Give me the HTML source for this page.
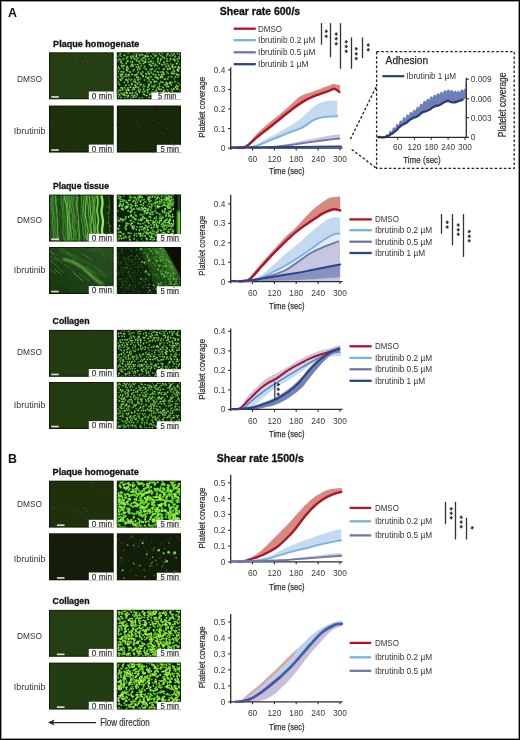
<!DOCTYPE html><html><head><meta charset="utf-8"><title>Shear rate figure</title>
<style>html,body{margin:0;padding:0;background:#fff}svg text{font-family:"Liberation Sans", sans-serif}</style></head><body>
<svg width="520" height="740" viewBox="0 0 520 740" style="display:block">
<defs><filter id="b5" x="-5%" y="-5%" width="110%" height="110%"><feGaussianBlur stdDeviation="0.45"/></filter><filter id="b6" x="-5%" y="-5%" width="110%" height="110%"><feGaussianBlur stdDeviation="0.6"/></filter><filter id="b8" x="-5%" y="-5%" width="110%" height="110%"><feGaussianBlur stdDeviation="0.8"/></filter><filter id="b12" x="-10%" y="-10%" width="120%" height="120%"><feGaussianBlur stdDeviation="1.2"/></filter><linearGradient id="gA2" x1="0" x2="1" y1="0" y2="0"><stop offset="0" stop-color="#2a5e20"/><stop offset="0.65" stop-color="#24521a"/><stop offset="0.86" stop-color="#15300d"/><stop offset="1" stop-color="#0c1a07"/></linearGradient><linearGradient id="gA2b" x1="1" x2="0" y1="0" y2="1"><stop offset="0" stop-color="#2c5422"/><stop offset="0.5" stop-color="#204418"/><stop offset="1" stop-color="#183210"/></linearGradient></defs>
<rect width="520" height="740" fill="#fff"/>
<text x="8" y="16.7" font-size="12.4" fill="#111" font-weight="bold">A</text>
<text x="8" y="463.4" font-size="12.4" fill="#111" font-weight="bold">B</text>
<text x="219.8" y="14.7" font-size="10.9" fill="#111" font-weight="bold" textLength="80.4" lengthAdjust="spacingAndGlyphs" stroke="#111" stroke-width="0.3">Shear rate 600/s</text>
<text x="216.8" y="462" font-size="10.9" fill="#111" font-weight="bold" textLength="87" lengthAdjust="spacingAndGlyphs" stroke="#111" stroke-width="0.3">Shear rate 1500/s</text>
<text x="53.1" y="46.9" font-size="8.9" fill="#111" font-weight="bold" textLength="86.1" lengthAdjust="spacingAndGlyphs" stroke="#111" stroke-width="0.3">Plaque homogenate</text>
<text x="53" y="188.5" font-size="8.9" fill="#111" font-weight="bold" textLength="56" lengthAdjust="spacingAndGlyphs" stroke="#111" stroke-width="0.3">Plaque tissue</text>
<text x="52.6" y="324.2" font-size="8.9" fill="#111" font-weight="bold" textLength="36.9" lengthAdjust="spacingAndGlyphs" stroke="#111" stroke-width="0.3">Collagen</text>
<text x="52.6" y="475.4" font-size="8.9" fill="#111" font-weight="bold" textLength="86.1" lengthAdjust="spacingAndGlyphs" stroke="#111" stroke-width="0.3">Plaque homogenate</text>
<text x="52.6" y="604.2" font-size="8.9" fill="#111" font-weight="bold" textLength="36.9" lengthAdjust="spacingAndGlyphs" stroke="#111" stroke-width="0.3">Collagen</text>
<text x="29.6" y="82.2" font-size="8.6" fill="#333" text-anchor="middle" textLength="25" lengthAdjust="spacingAndGlyphs">DMSO</text>
<text x="29.7" y="133.8" font-size="8.6" fill="#333" text-anchor="middle" textLength="31.7" lengthAdjust="spacingAndGlyphs">Ibrutinib</text>
<text x="29.6" y="222.5" font-size="8.6" fill="#333" text-anchor="middle" textLength="25" lengthAdjust="spacingAndGlyphs">DMSO</text>
<text x="29.7" y="273.3" font-size="8.6" fill="#333" text-anchor="middle" textLength="31.7" lengthAdjust="spacingAndGlyphs">Ibrutinib</text>
<text x="29.6" y="355.2" font-size="8.6" fill="#333" text-anchor="middle" textLength="25" lengthAdjust="spacingAndGlyphs">DMSO</text>
<text x="29.7" y="408.3" font-size="8.6" fill="#333" text-anchor="middle" textLength="31.7" lengthAdjust="spacingAndGlyphs">Ibrutinib</text>
<text x="29.6" y="506.7" font-size="8.6" fill="#333" text-anchor="middle" textLength="25" lengthAdjust="spacingAndGlyphs">DMSO</text>
<text x="29.7" y="562.1" font-size="8.6" fill="#333" text-anchor="middle" textLength="31.7" lengthAdjust="spacingAndGlyphs">Ibrutinib</text>
<text x="29.6" y="638.7" font-size="8.6" fill="#333" text-anchor="middle" textLength="25" lengthAdjust="spacingAndGlyphs">DMSO</text>
<text x="29.7" y="689.8" font-size="8.6" fill="#333" text-anchor="middle" textLength="31.7" lengthAdjust="spacingAndGlyphs">Ibrutinib</text>
<svg x="49" y="52.3" width="64.6" height="47" overflow="hidden">
<rect width="65.6" height="48" fill="#243e12"/>
<g filter="url(#b6)" fill="none" stroke-linecap="round"><path stroke="#3a5f26" stroke-width="1.2" d="M29.1 26.4l0 0M55.9 8.3l0 0M34.9 42.6l0 0M25.4 21.2l0 0M38.4 8.6l0 0M32.3 31.5l0 0M26.1 26l0 0"/><path stroke="#3a5f26" stroke-width="1" d="M51.8 3.6l0 0M54.4 2.1l0 0M15.1 .5l0 0M24.7 45.9l0 0M26.3 44.2l0 0M5.7 1.9l0 0M50.3 19.5l0 0M63.9 28l0 0"/><path stroke="#3a5f26" stroke-width=".8" d="M20 10.3l0 0M17 3.3l0 0"/><path stroke="#3a5f26" stroke-width="1.5" d="M36.5 4.3l0 0M60.7 1.6l0 0M25.5 2.6l0 0M36.2 20.9l0 0M27 9.4l0 0"/></g>
<rect x="0.5" y="0.5" width="63.6" height="46" fill="none" stroke="#081204" stroke-opacity="0.75" stroke-width="1"/>
</svg>
<rect x="88.8" y="91.5" width="24.8" height="7.8" fill="#fff"/>
<text x="91.8" y="98.6" font-size="8.4" fill="#333" textLength="20.2" lengthAdjust="spacingAndGlyphs" stroke="#333" stroke-width="0.2">0 min</text>
<rect x="51.2" y="96.1" width="7.6" height="1.7" fill="#d4dccb"/>
<svg x="116.7" y="52.3" width="64.3" height="47" overflow="hidden">
<rect width="65.3" height="48" fill="#0b2406"/>
<g filter="url(#b5)" fill="none" stroke-linecap="round"><path stroke="#24601a" stroke-width="2.2" d="M-1.8-1.1l.2 .5M1.6-2.8l.3 1.2M5.5-2.3l-.2 .5M6.8-1.3l.5 .6M9.8-2.3l.8 .8M12.7-2.4l0 .3M20.2-1.7l-1 0M22.3-1.2l.3 1M25.5-1.4l-.1 0M30.8-1l.1 .4M34.5-2.1l1.2 .2M37-1.2l-.2 .3M44.3-1.4l0 1.2M46.2-2l.9 .7M49-2.4l-.4 .2M53.5-2.3l-.4 .6M55.9-1.9l-.1 0M61-2.6l.3 1.1M64.4-2.6l1 .6M-.3 .9l-.4 .5M3.9 .8l-.6 1M11.5 .9l.1 .1M17.8 .9l-.1 .7M20.2 .5l.2 .7M24.5 1.7l.5 .6M30.1 0l.1 1M31.7 .1l1 .2M37 1.2l-.5 .4M39.9 .2l-.1 .1M41.9 .7l.7 .7M45.1 .5l.6 .5M48.9 .3l-.1 0M51.2 1.1l-.3 .8M54.7 1.5l0 0M57.4 1.1l-.1 1M60.6 .4l.2 .9M63.3 1.4l0 .9M66.3 .7l.8 .4M-1 4.1l.1 .5M1.9 3.6l-.6 .6M4.3 3.8l0 0M7.8 2.6l-.1 .6M11.2 4.1l-.8 1M14.2 3.9l-.1 .3M16 3.6l.6 1.1M19.8 3l-.3 1.3M22.9 2.4l.4 1.1M25.9 2.7l.1 .2M28.6 3.3l.2 .7M31.5 4l-.9 0M34.5 3.9l0 .1M38.3 2.8l-.1 1M39.6 3.2l.1 .2M43.4 2.8l.8 .8M45.8 3.9l.2 1.1M49.8 3.6l0 .1M52.9 3.2l.6 .4M55.7 2.8l.2 .7M58.3 4l.1 .5M62.2 4.3l0 .2M64.2 3.7l.3 .4M-.1 5.4l-.4 .5M2.4 6.8l1.1 .2M7.2 6.6l-1.1 .2M9.8 5.6l.1 .5M14.7 5.7l-.2 .2M17.5 6.3l.8 .4M21.5 5.8l-1 .3M24.7 6.7l-.2 .9M27.5 5.4l-1.2 .3M29.2 6.7l-.2 .6M32 6.6l.4 0M36.2 5.8l-.1 .2M41.5 5.6l-.3 1.2M44.1 6.6l.2 .5M47.3 5.1l.4 1.1M50 6.3l.4 .5M53.8 6.4l.2 .2M57.9 6.7l-1.3 .3M60.9 6.6l-.1 .1M62.4 6.2l0 0M65.8 4.9l-.7 1.1M-1.3 8.8l-.6 .9M1.2 8.2l-.5 .5M4.6 8.8l-.7 1M11.2 8.6l-.4 .1M14.1 9.4l-.2 .5M15.8 9.1l0 1.1M20 8.1l-.1 .2M22.7 8.9l-.6 .4M26.7 8.4l-.9 .5M28.4 9.2l.5 .7M32.7 9.6l-1.3 .2M34.5 8.9l-.2 .5M37 9.2l-.1 .1M41.1 8.6l-.1 1.1M44 8.3l-.2 .1M47.4 9.7l-.3 .2M50.6 8.9l-.5 0M52.9 8.5l.2 .1M57.7 7.9l1 .5M61.3 8.8l.1 .4M65 8.8l0 0M-1.1 12l.4 0M5.2 11.2l.5 0M9.7 10.3l-.4 1M15.7 12.1l-.6 0M18.2 12.3l.2 0M20.6 12.3l.7 .1M22.8 10.6l1 .8M27.4 10.8l-.8 .6M33.3 12l-.5 .3M35.9 11.1l.4 .2M38.6 11.7l.3 .8M42.9 10.6l-.4 .7M45.2 12l.8 .6M48 11.6l.2 .1M50.5 11.5l0 .1M54 11.7l.1 0M56.3 12.3l-.3 0M59.8 11.3l.5 .1M63.5 11.6l0 0M-2.2 13.9l-.2 .4M1.4 14.8l0 .1M5.2 13.1l.1 1.1M7.5 13.1l-.2 .7M10.5 14.3l-.2 .8M14.1 13.9l.2 .3M16.4 13.5l-.5 0M19.8 14.8l-.1 0M22.1 14.4l-.5 .4M24.4 13.5l.4 .1M28.1 13.9l-.1 1.1M34.4 13.3l.5 .2M37.9 13.4l0 .1M40.3 13.5l.4 .2M49.2 13.9l.3 .4M52.1 13l-.4 1.1M55.4 13.8l.7 1.1M58.9 14.5l-.8 .5M61.6 14.6l.2 .2M64 14.4l0 .2M.5 17.3l.1 .2M2.6 16.2l.2 .4M6.6 16l.3 .4M9.9 16.8l0 1.2M11.4 16l-.1 .4M17.3 17.2l-.1 .3M21 16.9l-.2 .6M23.4 16.1l-.2 .8M27.1 15.6l.4 .4M29.4 17l.1 .1M33.2 17.3l1.1 .4M34.9 16.7l.8 .1M39.4 16.7l.1 0M42.4 16.1l0 .1M47.5 16.6l-.7 .4M51 16.5l.1 .5M53.4 15.8l-.2 .6M56.5 17.3l0 0M61.2 17.4l-.6 .1M61.7 15.9l1.1 .1M66.7 16.3l.2 .7M-1 18.9l0 .2M1.4 19.1l0 .4M4.4 19.4l0 .1M6.5 19.6l.2 .1M11.1 18.6l0 .2M13.3 19.7l.2 0M16.3 18.7l0 0M22 19.6l-.8 .7M26 19.6l.1 .1M31.7 19.5l-.7 0M34.2 19.8l.6 .8M38.3 18.7l-.4 .3M40.7 19.6l1.1 .2M44 19.7l.1 .3M46.1 19.4l.5 1.1M50 19.3l.3 .7M55.4 19.5l-.1 .5M57.7 18.7l0 .7M61.1 18.2l.6 .5M64.2 19.5l0 .1M.8 21.4l-1.1 .1M3.6 22.1l.3 .2M5.8 21.8l-.3 .7M9.2 21.8l-.2 .2M12.1 22.2l-.7 1.1M14.8 22.1l.9 .2M18.7 22.6l-.5 .3M20.4 22.1l-.5 .1M24.3 21l.3 .9M29.4 21.3l.2 .7M32.1 21.2l.4 .4M36.9 21.7l-.4 .5M39 22.4l0 .7M42.1 22.7l.1 .2M45.3 22.1l-.2 .6M47.5 22l-.4 0M51.3 20.8l.2 .5M54.7 21.2l.2 .2M57.5 21.2l-1.2 .1M59.7 21.9l.7 .5M62.4 22.4l-.4 .6M65.8 21.3l.2 1.3M-1.2 24.1l-.2 .2M1.4 24.5l-.6 .5M4.3 23.5l.5 1.1M8.4 23.8l-1.1 .7M9.6 23.9l0 .3M12.6 23.8l.1 .1M20 24.4l.4 1M21.8 24.9l-.1 1M26.2 23.2l.2 1M29.4 24.2l-.3 .4M31.4 25.2l.1 .3M34.5 24.4l-1 .2M38.3 24.8l0 .2M39.9 25.1l1.1 .5M44.2 24l-.3 1.3M45.8 24.7l-.1 .1M51.6 24.5l.2 .1M55.4 24.3l-1.2 .2M58.7 24.3l.3 .2M61.1 24.6l0 0M.1 27.3l-.1 1.3M3.4 27l.8 1.1M5.7 26.1l-.4 .6M9.2 27.5l1 .2M12.1 26.6l.2 .4M14.7 27.1l-.2 .7M17.7 26.9l.9 .8M21.2 27.4l0 .3M23.5 26.5l-.2 .3M27.7 27.8l.4 0M30.7 26.2l0 0M32.3 26.6l-.2 .2M35.5 27.1l.8 .4M40.8 26.1l.9 .4M48.6 26.7l-.7 .2M51 26.6l0 0M57.6 26.3l.1 0M65.6 26.9l-.2 0M-2.3 30l.8 .4M1.7 29.5l-.8 .9M7.6 30l-.1 .1M11.3 29l-.1 1.1M17.1 28.9l.1 .1M18.6 29.5l.4 .6M22.8 30l-.6 0M32 28.7l-.4 .4M34 29.6l.3 1M38.1 29.1l-.5 .4M39.8 29.3l.1 .2M44 29.2l-.2 .5M45.5 29.9l.7 .3M49.6 30.2l.1 .4M53.5 29.9l-.4 1.1M55.6 30.2l-.4 0M58.2 29.2l-.1 .2M61.3 30.5l0 0M65.5 29.1l-.7 .2M-.3 31.7l.2 .6M2.5 31.7l.5 .7M9.1 32.8l0 .1M12.1 32.9l0 .1M15.2 31.1l-.2 1.2M18.2 32.6l.5 .7M20.8 31.2l-.3 .5M24.4 32.1l-.8 .6M27.1 32.6l.1 .9M32.2 31.9l.1 .8M37.8 32.6l.9 .2M42.6 31.4l.1 .2M48 32.4l.9 .4M51 31.4l-.9 .7M54.5 32.1l0 .5M59.9 33.1l-.3 0M63.3 32.1l0 .4M65.7 32.3l.7 .8M5.2 35.4l-.8 .1M7.8 35.2l.4 .5M11.2 35.7l0 .1M14 34.9l-.5 .1M16.6 35.4l.5 .1M19.9 34.6l-1 .3M21.8 34.9l.2 .9M26.4 34.6l0 0M27.8 34.3l.2 0M31.5 33.9l-.3 1.2M35.3 33.8l.1 .6M36.7 33.8l.8 .9M40.9 35.1l-.3 .5M43 34l-.3 .2M46.4 35l0 .1M50.3 33.8l-.1 .5M51.8 34.2l-.1 .3M59.3 34.9l-.8 .2M61.3 34.2l-.6 .3M64.1 34.3l0 0M.3 36.9l.2 .5M2.5 38l1.1 .1M5.9 36.5l.1 1.2M9.7 37.7l0 1.1M11.4 37.2l.6 .8M15.9 37.3l-.1 .3M17.3 36.1l.4 1M21.9 37.9l-.1 .3M23.7 37.2l.1 .6M26.9 36.7l.3 .7M30.9 37.6l-.1 .3M32.6 36.6l-.2 0M36 37.2l0 0M39.5 37.7l0 .2M41.9 36.4l.7 .8M44.1 37.1l.6 .1M47.8 38.1l-.5 .1M51 37.6l0 .2M54.7 36.9l.3 .4M57 36.6l.2 .5M59.9 36.5l1.2 .1M63.4 37.9l.4 .5M66.4 36.5l.3 .3M-2.2 40l.6 1M.2 40l1.2 .1M4.6 40.9l-.3 0M7.9 40.7l-.4 .1M9.8 40.4l.7 .4M13.4 40.7l-.2 .2M15.4 40.6l.6 .1M19.3 39.6l-.7 1M22.3 38.9l.6 1.2M26.1 39.7l0 0M28.1 39.3l.2 0M30.9 39.7l.5 .6M35.1 39.8l-.4 .1M37.9 39.2l-.1 .3M40.3 39.8l0 .4M44.3 40.4l0 .5M46.8 38.8l-.1 .7M49.1 40.2l.3 .4M51.9 40.1l.2 .2M55.6 39l-.4 .4M-.1 42.3l.3 .1M2.4 42l.6 .9M5.8 42l1.1 .4M9.1 43.1l-1.2 0M11.4 43.3l.5 .3M15.1 42.7l.1 .7M18.1 42.8l-.8 .9M20 41.5l.6 1.1M26.9 41.8l.9 .6M29.3 43.2l1 .1M33.6 41.5l-.8 .9M36 41.9l-.9 .3M38.4 42.5l-.1 0M41.4 43.2l-.2 .5M45 42.7l-.3 0M48.1 43.1l.2 .1M53.3 42.4l.8 .3M60.1 43.5l.5 0M63.5 43l0 0M66 41.2l.4 1.2M-2.2 45l.9 0M1.8 44.5l0 .1M4.2 45.1l.1 .3M8.4 45.5l-.7 .7M10.7 44.6l0 0M14 45.9l-.1 .1M16.5 44.9l.2 .2M19.5 44.5l-.1 .2M22.7 45.7l.4 .9M25.1 45.6l.8 .1M32.7 45.1l-.9 .7M36.9 45l.3 .9M44.2 44.9l.2 .3M46.6 44.6l-.2 .1M49.7 44.4l1.2 .4M53.4 45l-.4 .6M58.4 45.4l-.6 1.1M61.9 45.7l1 .3M64.5 44.4l.3 .3M.9 47l-.6 1M3.8 47.3l-.1 .2M6.3 48l-.3 .9M8.6 47.7l-.3 .6M11.3 46.9l-.2 .2M14.7 48.7l-.5 .1M19.1 47.8l-.7 .8M24.5 47.6l-.2 0M27.5 48.2l-.6 .3M32.9 47.2l0 0M35.9 47.4l-.2 1.1M38.6 47.6l-.3 .6M41.4 47.9l.4 .2M47.3 48l-.2 .4M50.7 48.1l-.7 1.1M54.2 47.8l0 0M56.9 48.1l-.2 .1M60.3 48.3l.1 .1M63.5 47.6l-.2 .5"/><path stroke="#86d458" stroke-width="1.2" d="M1.6-2.8l.3 1.2M45.1 .5l.6 .5M-1 4.1l.1 .5M16 3.6l.6 1.1M22.9 2.4l.4 1.1M64.2 3.7l.3 .4M17.5 6.3l.8 .4M50 6.3l.4 .5M41.1 8.6l-.1 1.1M5.2 11.2l.5 0M27.4 10.8l-.8 .6M49.2 13.9l.3 .4M23.4 16.1l-.2 .8M42.4 16.1l0 .1M11.1 18.6l0 .2M55.4 19.5l-.1 .5M64.2 19.5l0 .1M54.7 21.2l.2 .2M34.5 24.4l-1 .2M5.7 26.1l-.4 .6M30.7 26.2l0 0M7.6 30l-.1 .1M61.3 30.5l0 0M65.5 29.1l-.7 .2M54.5 32.1l0 .5M59.9 33.1l-.3 0M7.8 35.2l.4 .5M31.5 33.9l-.3 1.2M36.7 33.8l.8 .9M59.3 34.9l-.8 .2M2.5 38l1.1 .1M54.7 36.9l.3 .4M2.4 42l.6 .9M9.1 43.1l-1.2 0M15.1 42.7l.1 .7M20 41.5l.6 1.1M36 41.9l-.9 .3M60.1 43.5l.5 0M1.8 44.5l0 .1M14 45.9l-.1 .1M36.9 45l.3 .9M8.6 47.7l-.3 .6M24.5 47.6l-.2 0M35.9 47.4l-.2 1.1"/><path stroke="#86d458" stroke-width="1" d="M6.8-1.3l.5 .6M18.2 12.3l.2 0M40.3 13.5l.4 .2M31.7 19.5l-.7 0M51.3 20.8l.2 .5M.1 27.3l-.1 1.3M35.5 27.1l.8 .4M1.7 29.5l-.8 .9M12.1 32.9l0 .1M27.1 32.6l.1 .9M37.9 39.2l-.1 .3M8.4 45.5l-.7 .7M22.7 45.7l.4 .9M6.3 48l-.3 .9"/><path stroke="#86d458" stroke-width="1.5" d="M25.5-1.4l-.1 0M30.8-1l.1 .4M46.2-2l.9 .7M7.8 2.6l-.1 .6M41.5 5.6l-.3 1.2M4.6 8.8l-.7 1M15.7 12.1l-.6 0M33.3 12l-.5 .3M22.1 14.4l-.5 .4M37.9 13.4l0 .1M29.4 17l.1 .1M34.9 16.7l.8 .1M47.5 16.6l-.7 .4M61.7 15.9l1.1 .1M66.7 16.3l.2 .7M57.7 18.7l0 .7M5.8 21.8l-.3 .7M12.1 22.2l-.7 1.1M18.7 22.6l-.5 .3M20.4 22.1l-.5 .1M24.3 21l.3 .9M29.4 21.3l.2 .7M31.4 25.2l.1 .3M44.2 24l-.3 1.3M48.6 26.7l-.7 .2M65.6 26.9l-.2 0M34 29.6l.3 1M5.2 35.4l-.8 .1M19.9 34.6l-1 .3M9.7 37.7l0 1.1M47.8 38.1l-.5 .1M59.9 36.5l1.2 .1M63.4 37.9l.4 .5M15.4 40.6l.6 .1M28.1 39.3l.2 0M49.1 40.2l.3 .4M5.8 42l1.1 .4M44.2 44.9l.2 .3"/><path stroke="#9ee070" stroke-width="1.2" d="M49-2.4l-.4 .2M53.5-2.3l-.4 .6M3.9 .8l-.6 1M37 1.2l-.5 .4M48.9 .3l-.1 0M57.4 1.1l-.1 1M4.3 3.8l0 0M14.2 3.9l-.1 .3M25.9 2.7l.1 .2M38.3 2.8l-.1 1M49.8 3.6l0 .1M1.2 8.2l-.5 .5M22.7 8.9l-.6 .4M57.7 7.9l1 .5M9.7 10.3l-.4 1M42.9 10.6l-.4 .7M45.2 12l.8 .6M56.3 12.3l-.3 0M14.1 13.9l.2 .3M2.6 16.2l.2 .4M17.3 17.2l-.1 .3M-1 18.9l0 .2M1.4 19.1l0 .4M20 24.4l.4 1M3.4 27l.8 1.1M17.1 28.9l.1 .1M18.2 32.6l.5 .7M20.8 31.2l-.3 .5M63.3 32.1l0 .4M21.9 37.9l-.1 .3M41.9 36.4l.7 .8M51 37.6l0 .2M55.6 39l-.4 .4M18.1 42.8l-.8 .9M26.9 41.8l.9 .6M45 42.7l-.3 0M64.5 44.4l.3 .3M19.1 47.8l-.7 .8M47.3 48l-.2 .4M56.9 48.1l-.2 .1"/><path stroke="#9ee070" stroke-width="1" d="M64.4-2.6l1 .6M20.2 .5l.2 .7M24.5 1.7l.5 .6M54.7 1.5l0 0M52.9 3.2l.6 .4M47.3 5.1l.4 1.1M61.3 8.8l.1 .4M-1.1 12l.4 0M50.5 11.5l0 .1M19.8 14.8l-.1 0M52.1 13l-.4 1.1M58.7 24.3l.3 .2M12.1 26.6l.2 .4M17.7 26.9l.9 .8M22.8 30l-.6 0M32 28.7l-.4 .4M2.5 31.7l.5 .7M26.4 34.6l0 0M23.7 37.2l.1 .6M29.3 43.2l1 .1M.9 47l-.6 1M38.6 47.6l-.3 .6"/><path stroke="#9ee070" stroke-width="1.5" d="M19.8 3l-.3 1.3M31.5 4l-.9 0M14.7 5.7l-.2 .2M53.8 6.4l.2 .2M62.4 6.2l0 0M65.8 4.9l-.7 1.1M20 8.1l-.1 .2M34.5 8.9l-.2 .5M59.8 11.3l.5 .1M10.5 14.3l-.2 .8M16.4 13.5l-.5 0M34.4 13.3l.5 .2M61.6 14.6l.2 .2M.5 17.3l.1 .2M51 16.5l.1 .5M6.5 19.6l.2 .1M45.3 22.1l-.2 .6M47.5 22l-.4 0M59.7 21.9l.7 .5M26.2 23.2l.2 1M39.9 25.1l1.1 .5M9.2 27.5l1 .2M21.2 27.4l0 .3M49.6 30.2l.1 .4M9.1 32.8l0 .1M24.4 32.1l-.8 .6M11.2 35.7l0 .1M43 34l-.3 .2M46.4 35l0 .1M57 36.6l.2 .5M13.4 40.7l-.2 .2M26.1 39.7l0 0M46.8 38.8l-.1 .7M66 41.2l.4 1.2M-2.2 45l.9 0M3.8 47.3l-.1 .2"/><path stroke="#70c446" stroke-width="1.2" d="M-1.8-1.1l.2 .5M5.5-2.3l-.2 .5M-.3 .9l-.4 .5M11.2 4.1l-.8 1M34.5 3.9l0 .1M45.8 3.9l.2 1.1M62.2 4.3l0 .2M2.4 6.8l1.1 .2M7.2 6.6l-1.1 .2M21.5 5.8l-1 .3M29.2 6.7l-.2 .6M32 6.6l.4 0M36.2 5.8l-.1 .2M14.1 9.4l-.2 .5M15.8 9.1l0 1.1M38.6 11.7l.3 .8M54 11.7l.1 0M24.4 13.5l.4 .1M6.6 16l.3 .4M22 19.6l-.8 .7M34.2 19.8l.6 .8M.8 21.4l-1.1 .1M62.4 22.4l-.4 .6M65.8 21.3l.2 1.3M9.6 23.9l0 .3M21.8 24.9l-.1 1M29.4 24.2l-.3 .4M61.1 24.6l0 0M14.7 27.1l-.2 .7M23.5 26.5l-.2 .3M11.3 29l-.1 1.1M44 29.2l-.2 .5M27.8 34.3l.2 0M.3 36.9l.2 .5M66.4 36.5l.3 .3M4.6 40.9l-.3 0M30.9 39.7l.5 .6M44.3 40.4l0 .5M48.1 43.1l.2 .1M32.7 45.1l-.9 .7M46.6 44.6l-.2 .1M32.9 47.2l0 0M50.7 48.1l-.7 1.1M54.2 47.8l0 0"/><path stroke="#70c446" stroke-width="1.5" d="M20.2-1.7l-1 0M31.7 .1l1 .2M41.9 .7l.7 .7M60.6 .4l.2 .9M39.6 3.2l.1 .2M58.3 4l.1 .5M60.9 6.6l-.1 .1M50.6 8.9l-.5 0M35.9 11.1l.4 .2M58.9 14.5l-.8 .5M11.4 16l-.1 .4M56.5 17.3l0 0M26 19.6l.1 .1M38.3 18.7l-.4 .3M39 22.4l0 .7M1.4 24.5l-.6 .5M4.3 23.5l.5 1.1M38.3 24.8l0 .2M40.8 26.1l.9 .4M39.8 29.3l.1 .2M58.2 29.2l-.1 .2M42.6 31.4l.1 .2M21.8 34.9l.2 .9M15.9 37.3l-.1 .3M26.9 36.7l.3 .7M32.6 36.6l-.2 0M36 37.2l0 0M.2 40l1.2 .1M33.6 41.5l-.8 .9M63.5 43l0 0M49.7 44.4l1.2 .4M53.4 45l-.4 .6M60.3 48.3l.1 .1"/><path stroke="#70c446" stroke-width="1" d="M55.9-1.9l-.1 0M17.8 .9l-.1 .7M43.4 2.8l.8 .8M55.7 2.8l.2 .7M-.1 5.4l-.4 .5M32.7 9.6l-1.3 .2M37 9.2l-.1 .1M52.9 8.5l.2 .1M65 8.8l0 0M22.8 10.6l1 .8M28.1 13.9l-.1 1.1M64 14.4l0 .2M27.1 15.6l.4 .4M33.2 17.3l1.1 .4M39.4 16.7l.1 0M16.3 18.7l0 0M44 19.7l.1 .3M50 19.3l.3 .7M-1.2 24.1l-.2 .2M8.4 23.8l-1.1 .7M12.6 23.8l.1 .1M55.4 24.3l-1.2 .2M27.7 27.8l.4 0M55.6 30.2l-.4 0M37.8 32.6l.9 .2M65.7 32.3l.7 .8M64.1 34.3l0 0M19.3 39.6l-.7 1M35.1 39.8l-.4 .1M25.1 45.6l.8 .1M27.5 48.2l-.6 .3M41.4 47.9l.4 .2"/><path stroke="#b0ea86" stroke-width="1.5" d="M9.8-2.3l.8 .8M34.5-2.1l1.2 .2M44.3-1.4l0 1.2M11.5 .9l.1 .1M51.2 1.1l-.3 .8M66.3 .7l.8 .4M28.6 3.3l.2 .7M11.2 8.6l-.4 .1M28.4 9.2l.5 .7M63.5 11.6l0 0M1.4 14.8l0 .1M55.4 13.8l.7 1.1M53.4 15.8l-.2 .6M61.2 17.4l-.6 .1M13.3 19.7l.2 0M61.1 18.2l.6 .5M32.1 21.2l.4 .4M45.8 24.7l-.1 .1M-2.3 30l.8 .4M38.1 29.1l-.5 .4M53.5 29.9l-.4 1.1M-.3 31.7l.2 .6M32.2 31.9l.1 .8M11.4 37.2l.6 .8M30.9 37.6l-.1 .3M39.5 37.7l0 .2M9.8 40.4l.7 .4M40.3 39.8l0 .4M51.9 40.1l.2 .2M-.1 42.3l.3 .1M11.4 43.3l.5 .3M41.4 43.2l-.2 .5M53.3 42.4l.8 .3M61.9 45.7l1 .3"/><path stroke="#b0ea86" stroke-width="1.2" d="M12.7-2.4l0 .3M22.3-1.2l.3 1M37-1.2l-.2 .3M61-2.6l.3 1.1M30.1 0l.1 1M39.9 .2l-.1 .1M63.3 1.4l0 .9M27.5 5.4l-1.2 .3M44.1 6.6l.2 .5M-1.3 8.8l-.6 .9M47.4 9.7l-.3 .2M48 11.6l.2 .1M-2.2 13.9l-.2 .4M5.2 13.1l.1 1.1M9.9 16.8l0 1.2M4.4 19.4l0 .1M46.1 19.4l.5 1.1M3.6 22.1l.3 .2M9.2 21.8l-.2 .2M36.9 21.7l-.4 .5M42.1 22.7l.1 .2M57.5 21.2l-1.2 .1M32.3 26.6l-.2 .2M51 26.6l0 0M18.6 29.5l.4 .6M45.5 29.9l.7 .3M15.2 31.1l-.2 1.2M51 31.4l-.9 .7M14 34.9l-.5 .1M16.6 35.4l.5 .1M50.3 33.8l-.1 .5M51.8 34.2l-.1 .3M61.3 34.2l-.6 .3M5.9 36.5l.1 1.2M17.3 36.1l.4 1M44.1 37.1l.6 .1M-2.2 40l.6 1M7.9 40.7l-.4 .1M22.3 38.9l.6 1.2M38.4 42.5l-.1 0M4.2 45.1l.1 .3M16.5 44.9l.2 .2M11.3 46.9l-.2 .2M14.7 48.7l-.5 .1M63.5 47.6l-.2 .5"/><path stroke="#b0ea86" stroke-width="1" d="M1.9 3.6l-.6 .6M9.8 5.6l.1 .5M24.7 6.7l-.2 .9M57.9 6.7l-1.3 .3M26.7 8.4l-.9 .5M44 8.3l-.2 .1M20.6 12.3l.7 .1M7.5 13.1l-.2 .7M21 16.9l-.2 .6M40.7 19.6l1.1 .2M14.8 22.1l.9 .2M51.6 24.5l.2 .1M57.6 26.3l.1 0M48 32.4l.9 .4M35.3 33.8l.1 .6M40.9 35.1l-.3 .5M10.7 44.6l0 0M19.5 44.5l-.1 .2M58.4 45.4l-.6 1.1"/></g>
<rect x="0.5" y="0.5" width="63.3" height="46" fill="none" stroke="#081204" stroke-opacity="0.75" stroke-width="1"/>
</svg>
<rect x="151.5" y="92.5" width="29.5" height="6.8" fill="#fff"/>
<text x="176.5" y="99" font-size="8.4" fill="#333" text-anchor="end" textLength="18.6" lengthAdjust="spacingAndGlyphs" stroke="#333" stroke-width="0.2">5 min</text>
<svg x="49" y="105.4" width="64.6" height="47" overflow="hidden">
<rect width="65.6" height="48" fill="#1d300c"/>
<g filter="url(#b6)" fill="none" stroke-linecap="round"><path stroke="#2c4619" stroke-width="1.5" d="M44.4 40.9l0 0M2.1 18.6l0 0"/><path stroke="#2c4619" stroke-width="1" d="M62.5 20.8l0 0M14.3 6.3l0 0M10.2 6l0 0"/><path stroke="#2c4619" stroke-width=".8" d="M24.6 43.7l0 0"/><path stroke="#2c4619" stroke-width="1.2" d="M58.3 35.7l0 0M9.3 15.3l0 0"/></g>
<rect x="0.5" y="0.5" width="63.6" height="46" fill="none" stroke="#081204" stroke-opacity="0.75" stroke-width="1"/>
</svg>
<rect x="88.8" y="144.6" width="24.8" height="7.8" fill="#fff"/>
<text x="91.8" y="151.7" font-size="8.4" fill="#333" textLength="20.2" lengthAdjust="spacingAndGlyphs" stroke="#333" stroke-width="0.2">0 min</text>
<rect x="51.2" y="149.2" width="7.6" height="1.7" fill="#d4dccb"/>
<svg x="116.7" y="105.4" width="64.3" height="47" overflow="hidden">
<rect width="65.3" height="48" fill="#18260a"/>
<g filter="url(#b6)" fill="none" stroke-linecap="round"><path stroke="#2c4a1c" stroke-width="1.2" d="M2.4 44.8l0 0M59.8 9.2l0 0M35.6 14.6l0 0M5.3 7.3l0 0M45.6 28.3l0 0M19.1 17.5l0 0M64 25l0 0M1 30.3l0 0M39-.3l0 0M31.3 14.6l0 0"/><path stroke="#2c4a1c" stroke-width="1.5" d="M27.2 2.7l0 0M21 18.7l0 0M47 43.3l0 0M16.4 10.9l0 0M42 17.3l0 0M55.1 38.2l0 0M36.7 46.5l0 0M50.5 23l0 0M22.4 22.2l0 0M60.8 38.5l0 0M-.2 19.5l0 0"/><path stroke="#2c4a1c" stroke-width="1" d="M59.4 7.7l0 0M9.4 21.4l0 0M14.8 40.4l0 0M61.1 10l0 0M13.9 28.7l0 0M7.2 11.3l0 0M24.6 30.5l0 0M16.1 5.5l0 0"/><path stroke="#2c4a1c" stroke-width=".8" d="M41.7 16.9l0 0"/></g>
<rect x="0.5" y="0.5" width="63.3" height="46" fill="none" stroke="#081204" stroke-opacity="0.75" stroke-width="1"/>
</svg>
<rect x="156.8" y="144.8" width="24.2" height="7.6" fill="#fff"/>
<text x="179" y="152.1" font-size="8.4" fill="#333" text-anchor="end" textLength="18.6" lengthAdjust="spacingAndGlyphs" stroke="#333" stroke-width="0.2">5 min</text>
<svg x="49" y="194.6" width="64.6" height="47" overflow="hidden">
<rect width="65.6" height="48" fill="url(#gA2)"/>
<g filter="url(#b5)" fill="none" stroke-linecap="round"><path stroke="#326826" stroke-width="1" d="M5.5 3.5l0 0M45.7 2.8l0 0M7.4 26.1l0 0M36.8 29.6l0 0M14.5 32.7l0 0M1.5 35l0 0M39.3 26.1l0 0M8.4 23.8l0 0M27.8 35l0 0M29.8 41.3l0 0M14.5 37.2l0 0M.2 26.9l0 0M21.2 35.2l0 0M41.4 37.6l0 0M-.4 47l0 0M7 4.1l0 0M0 24.2l0 0"/><path stroke="#3a762c" stroke-width="1.5" d="M20.1 13.5l0 0M29.7 25.1l0 0M58.2 28.4l0 0M5.9 42.4l0 0M61.9 31.3l0 0M22.6 15.6l0 0M48.4 1.7l0 0M44.9 10l0 0M32 21l0 0M44.5-.9l0 0M8.1 26.3l0 0M27.6 10.7l0 0M34.6 31.8l0 0M16.8 8.1l0 0M36.6 29.8l0 0M60 13.2l0 0M37.3 27.7l0 0M2.8 36.8l0 0M15.5 44l0 0M26.1 47.6l0 0"/><path stroke="#3a762c" stroke-width=".8" d="M42 22.2l0 0M3.3 13.6l0 0M31.7 17.5l0 0M22.3 47.6l0 0M36.7 2.6l0 0M12.7 21.1l0 0M5.5 14l0 0M2.4 17.1l0 0M8.1 23.9l0 0M35.9 6.8l0 0M44.4 39.5l0 0M45 26.1l0 0M10.4 30.5l0 0M17.9 3.2l0 0M8.6 18.6l0 0M33.2 47l0 0M9.3 44.1l0 0M19.9 23.9l0 0"/><path stroke="#1e4214" stroke-width=".8" d="M34.3 19.3l0 0M21.3 19.5l0 0M26.5 24.5l0 0M24.3 6.8l0 0M5.8 37.5l0 0M10 26.6l0 0M-.9 46.2l0 0M33.1 22l0 0M51.5 44.4l0 0M32 7.4l0 0M3.3 41.5l0 0M35.7 11.5l0 0M46.2 8.6l0 0M22.9 46.5l0 0M11 36.7l0 0M32.4 14.3l0 0M41.2 34.5l0 0"/><path stroke="#40822e" stroke-width=".8" d="M8.7 1.3l0 0M8.3 7.3l0 0M5.1-.7l0 0M2.9 32.6l0 0M24.2 22l0 0M7.3 27.2l0 0M37.3 14.3l0 0M46.4 7.3l0 0M34 16.5l0 0M27.6 28.2l0 0M16.5 22.5l0 0M42.1 .2l0 0M30.1 30.7l0 0M41.2 44l0 0M22.3 9.3l0 0"/><path stroke="#326826" stroke-width="1.2" d="M3 21.8l0 0M24.7 12.2l0 0M8.1 46.4l0 0M33 16.5l0 0M9.4 46.4l0 0M35.9 25.3l0 0M.6 11.5l0 0M29.1 18.6l0 0M40.1 2.1l0 0M22.1 3.7l0 0M23.2 44.7l0 0M33.3 27.9l0 0M15 4.2l0 0M40.9 4.8l0 0M6.6 .3l0 0M1.6 29.1l0 0M28.2 3.2l0 0M5.1 37.1l0 0M37.3 9.6l0 0M3.8 21.4l0 0M35 20.7l0 0M35.3 47.7l0 0M26.9 27.2l0 0M22.7 46.9l0 0"/><path stroke="#326826" stroke-width="1.5" d="M34.9 23l0 0M12.9 4.9l0 0M35.6 42.9l0 0M29.6-.3l0 0M22.8 19l0 0M29.2 19.9l0 0M18.7 10.4l0 0M0 27.2l0 0M18.3 36.2l0 0M20.6 17.6l0 0M24.6 3.3l0 0M8.6 43.8l0 0M44.1 24.3l0 0M18.9 45l0 0M12.8 35.8l0 0M16.8 29.7l0 0M7.8 13.8l0 0M22.4 35.3l0 0M25.9 4.4l0 0M24.8 14.3l0 0"/><path stroke="#40822e" stroke-width="1" d="M18 40.5l0 0M7.1 13.8l0 0M3.2 1.5l0 0M41.2 39.2l0 0M34 12.5l0 0M9.6 27.5l0 0M34.6 1.8l0 0M13.9 8.8l0 0M27.3 8.2l0 0M28.1 32.5l0 0M12.3 23.1l0 0M26.8 26.3l0 0M38.5 2.4l0 0M47.3 1.6l0 0M34.1 40.8l0 0M44 6.8l0 0M37 38l0 0M34.4 43.7l0 0M20.3 1.6l0 0M45.7 27.7l0 0M39.9 35.9l0 0M5.7 7.5l0 0"/><path stroke="#1e4214" stroke-width="1.2" d="M29.4 21.9l0 0M14.2 11l0 0M13.4 15.9l0 0M34.6 17l0 0M22.3 42.5l0 0M44.4 33.7l0 0M23.1 34.3l0 0M-.3 47.2l0 0M.2 14.7l0 0M18.1 30.2l0 0M20.2 14.4l0 0M42.8 27.8l0 0M40.8 3.8l0 0M2.2 42.9l0 0M40.9 10.3l0 0M36.7 3.2l0 0M27.5 13.3l0 0M45 44l0 0M.9 16.1l0 0M.5 44.9l0 0M34 44l0 0M62.7 37.9l0 0"/><path stroke="#40822e" stroke-width="1.5" d="M45.5 6.5l0 0M1 14.5l0 0M31.6 3.4l0 0M26.3 22.2l0 0M58.8 11.9l0 0M58.8 18.4l0 0M22 45.8l0 0M0 1.6l0 0M44.8 10.1l0 0M31.1 24.1l0 0M23.6 34l0 0M8.5 4.8l0 0M43.4 20.5l0 0M32.3 38.3l0 0"/><path stroke="#326826" stroke-width=".8" d="M6-.3l0 0M.9-.6l0 0M34 31.5l0 0M3.7 31.8l0 0M2.1 45.5l0 0M33.1 16.5l0 0M34.8 33.4l0 0M53.1 41.1l0 0M4.1 32.4l0 0M35.7 19.5l0 0M24.2 15.4l0 0M6.2 41.3l0 0M24 9.9l0 0M.9 28.5l0 0M3 17.9l0 0M9.3 32.2l0 0M16.5 47.7l0 0M3.5 26.9l0 0"/><path stroke="#1e4214" stroke-width="1" d="M2.4 13l0 0M4.1 41l0 0M3.5 43.1l0 0M19.8 46.3l0 0M44.2 4.7l0 0M5.7 37.1l0 0M29.6 7l0 0M18.2 6.8l0 0M12.1 11.9l0 0M31.9 19.4l0 0M40.1 19.3l0 0M40.8 17.5l0 0M33.2 24.1l0 0M45.1 2.9l0 0M43.8 45.6l0 0M2.9 27.8l0 0M63.3 29.6l0 0M12.9 29.3l0 0M32.7 47.5l0 0M29 25.7l0 0M13.7 9.6l0 0M39.8-.3l0 0M10.6 40.6l0 0"/><path stroke="#3a762c" stroke-width="1" d="M36.6 13.3l0 0M12.9-.8l0 0M25.1 7.1l0 0M36.3 3.4l0 0M25.1-.9l0 0M36.7 7.4l0 0M14.6 10.7l0 0M58.5 44.3l0 0M25.9 2.7l0 0M15.8 34.3l0 0M21.5 8.7l0 0M.8 15.5l0 0"/><path stroke="#3a762c" stroke-width="1.2" d="M17.3 3l0 0M12.3 14.5l0 0M3 26.9l0 0M5 27.5l0 0M25.4 44.4l0 0M29.3 24l0 0M65 40.9l0 0M41.2 37.2l0 0M.8 39.2l0 0M12.9 23l0 0M17.1 26.3l0 0M43.5 44.7l0 0M28 9.5l0 0M37.2-.9l0 0M21.8 23.1l0 0"/><path stroke="#1e4214" stroke-width="1.5" d="M3.1 34.8l0 0M35.6 1.6l0 0M19 14.9l0 0M7.7 40.4l0 0M9.9 1.4l0 0M56.3 24.9l0 0M25 47.2l0 0M12.9 3.2l0 0M16.3 1.3l0 0M36.4 12.9l0 0M.8 24.7l0 0M27.5 46.8l0 0M34.2 41.8l0 0M2.3 38.4l0 0M3 9.4l0 0M28 17.4l0 0M40.1 29.8l0 0M25.6 34.3l0 0M28.9 22.6l0 0M60.3 47.4l0 0M5.1 3.4l0 0"/><path stroke="#40822e" stroke-width="1.2" d="M.4 41.5l0 0M39.8 16.8l0 0M18.4 22.9l0 0M11.6 20.1l0 0M6.8 5.7l0 0M5.7 44.7l0 0M8.7 23.7l0 0M28.1 35.4l0 0M10-.4l0 0M2.9 29.1l0 0M36.9 41.8l0 0M8.3 17.4l0 0M43 13.2l0 0M40.4 30.2l0 0M44.4 26.5l0 0M9.2 7.5l0 0M42.9 1.5l0 0M36.3 10l0 0M49 3.7l0 0M39.8 .9l0 0M40.4 23.6l0 0M4.8 13.6l0 0"/></g>
<g filter="url(#b6)"><path d="M-2.1 -2 C-2.3 -1.1 -3.3 1.7 -3.4 3.5 C-3.5 5.3 -2.7 7.2 -2.5 9 C-2.4 10.8 -2.6 12.7 -2.5 14.5 C-2.3 16.3 -1.9 18.2 -1.6 20 C-1.3 21.8 -0.9 23.7 -0.6 25.5 C-0.3 27.3 0.1 29.2 0.3 31 C0.5 32.8 0.4 34.7 0.5 36.5 C0.5 38.3 0.5 40.2 0.7 42 C0.8 43.8 1.2 46.6 1.3 47.5" stroke="#1a3a10" stroke-width="0.8" fill="none"/><path d="M0.2 -2 C0.2 -1.1 -0.3 1.7 -0.3 3.5 C-0.4 5.3 -0.3 7.2 0 9 C0.2 10.8 1.2 12.7 1.3 14.5 C1.4 16.3 0.6 18.2 0.6 20 C0.6 21.8 1 23.7 1.1 25.5 C1.3 27.3 1.6 29.2 1.7 31 C1.8 32.8 1.6 34.7 1.7 36.5 C1.8 38.3 1.8 40.2 2.1 42 C2.4 43.8 3.2 46.6 3.4 47.5" stroke="#1c4012" stroke-width="0.6" fill="none"/><path d="M2 -2 C2.2 -1.1 3.2 1.7 3.2 3.5 C3.2 5.3 2.1 7.2 2 9 C1.9 10.8 2.3 12.7 2.7 14.5 C3 16.3 3.9 18.2 4 20 C4.2 21.8 3.6 23.7 3.5 25.5 C3.5 27.3 3.8 29.2 3.9 31 C4.1 32.8 4.3 34.7 4.4 36.5 C4.5 38.3 4.3 40.2 4.5 42 C4.8 43.8 5.5 46.6 5.7 47.5" stroke="#56a43c" stroke-width="0.8" fill="none"/><path d="M4 -2 C4 -1.1 4 1.7 4 3.5 C3.9 5.3 3.7 7.2 3.7 9 C3.7 10.8 3.8 12.7 3.9 14.5 C4.1 16.3 4.4 18.2 4.7 20 C5.1 21.8 5.6 23.7 5.9 25.5 C6.1 27.3 6 29.2 6 31 C6 32.8 5.6 34.7 5.8 36.5 C6 38.3 7.1 40.2 7.4 42 C7.7 43.8 7.5 46.6 7.6 47.5" stroke="#4a9434" stroke-width="0.9" fill="none"/><path d="M6.6 -2 C6.6 -1.1 6.6 1.7 6.7 3.5 C6.7 5.3 6.7 7.2 6.8 9 C7 10.8 7.4 12.7 7.6 14.5 C7.8 16.3 7.9 18.2 8.1 20 C8.2 21.8 8.3 23.7 8.4 25.5 C8.5 27.3 8.6 29.2 8.6 31 C8.6 32.8 8.2 34.7 8.3 36.5 C8.4 38.3 8.8 40.2 9 42 C9.3 43.8 9.5 46.6 9.6 47.5" stroke="#62b246" stroke-width="1" fill="none"/><path d="M8.5 -2 C8.5 -1.1 8.7 1.7 8.8 3.5 C9 5.3 9 7.2 9.2 9 C9.3 10.8 10 12.7 9.9 14.5 C9.9 16.3 8.9 18.2 8.9 20 C8.8 21.8 9.4 23.7 9.5 25.5 C9.7 27.3 9.6 29.2 9.7 31 C9.9 32.8 10.2 34.7 10.5 36.5 C10.8 38.3 11.6 40.2 11.7 42 C11.8 43.8 11.4 46.6 11.3 47.5" stroke="#1a3a10" stroke-width="0.7" fill="none"/><path d="M10.3 -2 C10.4 -1.1 10.8 1.7 10.7 3.5 C10.7 5.3 10.1 7.2 10.1 9 C10.2 10.8 10.6 12.7 11 14.5 C11.3 16.3 12.2 18.2 12.3 20 C12.4 21.8 11.8 23.7 11.7 25.5 C11.6 27.3 11.6 29.2 11.9 31 C12.2 32.8 13.2 34.7 13.4 36.5 C13.6 38.3 13 40.2 13.1 42 C13.1 43.8 13.5 46.6 13.6 47.5" stroke="#1c4012" stroke-width="0.9" fill="none"/><path d="M12.9 -2 C12.7 -1.1 12 1.7 12 3.5 C12 5.3 12.4 7.2 12.7 9 C13.1 10.8 13.9 12.7 14 14.5 C14.1 16.3 13.3 18.2 13.5 20 C13.6 21.8 14.8 23.7 14.9 25.5 C15.1 27.3 14.6 29.2 14.4 31 C14.2 32.8 13.8 34.7 13.8 36.5 C13.9 38.3 14.3 40.2 14.7 42 C15 43.8 15.6 46.6 15.8 47.5" stroke="#56a43c" stroke-width="0.6" fill="none"/><path d="M14 -2 C14.1 -1.1 14.4 1.7 14.5 3.5 C14.6 5.3 14.5 7.2 14.5 9 C14.6 10.8 14.6 12.7 14.7 14.5 C14.8 16.3 14.8 18.2 15.1 20 C15.4 21.8 16.2 23.7 16.5 25.5 C16.8 27.3 16.8 29.2 16.9 31 C17 32.8 17.2 34.7 17.2 36.5 C17.1 38.3 16.6 40.2 16.5 42 C16.5 43.8 16.9 46.6 17 47.5" stroke="#4a9434" stroke-width="0.6" fill="none"/><path d="M16.7 -2 C16.5 -1.1 15.6 1.7 15.7 3.5 C15.8 5.3 16.7 7.2 17.1 9 C17.5 10.8 17.7 12.7 17.9 14.5 C18.1 16.3 18.1 18.2 18.2 20 C18.3 21.8 18.7 23.7 18.7 25.5 C18.8 27.3 18.5 29.2 18.6 31 C18.6 32.8 18.9 34.7 19 36.5 C19.1 38.3 19.1 40.2 19.1 42 C19.1 43.8 18.8 46.6 18.8 47.5" stroke="#6cbc4c" stroke-width="1.2" fill="none"/><path d="M18.2 -2 C18.1 -1.1 17.8 1.7 17.9 3.5 C17.9 5.3 18.3 7.2 18.5 9 C18.6 10.8 18.5 12.7 18.8 14.5 C19 16.3 19.6 18.2 19.8 20 C20 21.8 19.8 23.7 19.9 25.5 C20.1 27.3 20.4 29.2 20.6 31 C20.7 32.8 20.8 34.7 20.8 36.5 C20.8 38.3 20.6 40.2 20.5 42 C20.5 43.8 20.4 46.6 20.4 47.5" stroke="#56a43c" stroke-width="1.1" fill="none"/><path d="M19.5 -2 C19.6 -1.1 19.9 1.7 20 3.5 C20.2 5.3 20 7.2 20.2 9 C20.3 10.8 20.9 12.7 20.9 14.5 C20.9 16.3 20.1 18.2 20 20 C20 21.8 20.5 23.7 20.7 25.5 C20.8 27.3 20.9 29.2 21.2 31 C21.4 32.8 21.9 34.7 22.1 36.5 C22.3 38.3 22.2 40.2 22.4 42 C22.6 43.8 23 46.6 23.1 47.5" stroke="#6cbc4c" stroke-width="0.9" fill="none"/><path d="M22.3 -2 C22.4 -1.1 22.7 1.7 22.6 3.5 C22.5 5.3 21.9 7.2 21.7 9 C21.6 10.8 21.6 12.7 21.9 14.5 C22.1 16.3 23.1 18.2 23.5 20 C23.8 21.8 24 23.7 24 25.5 C24 27.3 23.1 29.2 23.2 31 C23.3 32.8 24.5 34.7 24.8 36.5 C25.1 38.3 25 40.2 24.9 42 C24.9 43.8 24.3 46.6 24.2 47.5" stroke="#4a9434" stroke-width="1.2" fill="none"/><path d="M23.6 -2 C23.7 -1.1 24.2 1.7 24.2 3.5 C24.2 5.3 23.4 7.2 23.4 9 C23.5 10.8 24.2 12.7 24.5 14.5 C24.8 16.3 24.9 18.2 25.1 20 C25.2 21.8 25.2 23.7 25.2 25.5 C25.2 27.3 24.8 29.2 25 31 C25.1 32.8 26 34.7 26.3 36.5 C26.6 38.3 26.7 40.2 26.9 42 C27.1 43.8 27.4 46.6 27.5 47.5" stroke="#56a43c" stroke-width="0.8" fill="none"/><path d="M26.8 -2 C26.9 -1.1 27.7 1.7 27.7 3.5 C27.6 5.3 26.6 7.2 26.6 9 C26.5 10.8 27.4 12.7 27.5 14.5 C27.7 16.3 27.6 18.2 27.5 20 C27.4 21.8 26.7 23.7 27 25.5 C27.3 27.3 28.9 29.2 29.2 31 C29.5 32.8 28.6 34.7 28.7 36.5 C28.8 38.3 29.8 40.2 29.8 42 C29.7 43.8 28.6 46.6 28.3 47.5" stroke="#4a9434" stroke-width="0.6" fill="none"/><path d="M27.1 -2 C27.3 -1.1 28.1 1.7 28.3 3.5 C28.4 5.3 27.8 7.2 27.8 9 C27.8 10.8 28 12.7 28.3 14.5 C28.6 16.3 29.2 18.2 29.4 20 C29.6 21.8 29.5 23.7 29.6 25.5 C29.6 27.3 29.6 29.2 29.7 31 C29.7 32.8 29.9 34.7 30.1 36.5 C30.2 38.3 30.7 40.2 30.7 42 C30.8 43.8 30.3 46.6 30.2 47.5" stroke="#6cbc4c" stroke-width="0.9" fill="none"/><path d="M29.8 -2 C30 -1.1 30.6 1.7 30.8 3.5 C31 5.3 30.9 7.2 30.8 9 C30.7 10.8 30.2 12.7 30.2 14.5 C30.1 16.3 30.3 18.2 30.4 20 C30.5 21.8 30.6 23.7 31 25.5 C31.4 27.3 32.6 29.2 32.8 31 C33 32.8 31.9 34.7 32 36.5 C32.1 38.3 33 40.2 33.3 42 C33.7 43.8 33.8 46.6 33.9 47.5" stroke="#1a3a10" stroke-width="1.1" fill="none"/><path d="M32.3 -2 C32.3 -1.1 32.4 1.7 32.5 3.5 C32.6 5.3 32.7 7.2 32.8 9 C33 10.8 33 12.7 33.2 14.5 C33.3 16.3 33.7 18.2 33.6 20 C33.4 21.8 32.5 23.7 32.5 25.5 C32.5 27.3 33.3 29.2 33.6 31 C33.8 32.8 33.8 34.7 34 36.5 C34.3 38.3 34.8 40.2 35 42 C35.2 43.8 35.1 46.6 35.1 47.5" stroke="#56a43c" stroke-width="0.8" fill="none"/><path d="M34.6 -2 C34.7 -1.1 35.1 1.7 35.1 3.5 C35.1 5.3 34.9 7.2 34.8 9 C34.7 10.8 34.4 12.7 34.5 14.5 C34.6 16.3 35.2 18.2 35.3 20 C35.4 21.8 35 23.7 35.1 25.5 C35.3 27.3 35.8 29.2 36.1 31 C36.3 32.8 36.4 34.7 36.5 36.5 C36.6 38.3 36.6 40.2 36.9 42 C37.2 43.8 37.9 46.6 38.1 47.5" stroke="#6cbc4c" stroke-width="0.7" fill="none"/><path d="M36.7 -2 C36.8 -1.1 37.2 1.7 37.2 3.5 C37.2 5.3 36.8 7.2 36.7 9 C36.6 10.8 36.6 12.7 36.5 14.5 C36.5 16.3 36.3 18.2 36.4 20 C36.5 21.8 36.9 23.7 37.2 25.5 C37.5 27.3 37.8 29.2 38.2 31 C38.5 32.8 39.2 34.7 39.1 36.5 C39.1 38.3 38 40.2 38 42 C38.1 43.8 39.4 46.6 39.6 47.5" stroke="#6cbc4c" stroke-width="1.2" fill="none"/><path d="M38.9 -2 C38.8 -1.1 38.2 1.7 38.2 3.5 C38.2 5.3 38.7 7.2 38.9 9 C39.2 10.8 39.6 12.7 39.6 14.5 C39.7 16.3 39.2 18.2 39.4 20 C39.6 21.8 40.7 23.7 40.9 25.5 C41.1 27.3 40.5 29.2 40.6 31 C40.8 32.8 41.8 34.7 41.8 36.5 C41.7 38.3 40.4 40.2 40.4 42 C40.3 43.8 41.3 46.6 41.5 47.5" stroke="#62b246" stroke-width="0.9" fill="none"/><path d="M39.2 -2 C39.4 -1.1 40.2 1.7 40.5 3.5 C40.8 5.3 40.8 7.2 40.9 9 C41.1 10.8 41.2 12.7 41.3 14.5 C41.4 16.3 41.5 18.2 41.7 20 C41.9 21.8 42.6 23.7 42.6 25.5 C42.7 27.3 41.9 29.2 41.8 31 C41.8 32.8 42.1 34.7 42.3 36.5 C42.6 38.3 43.2 40.2 43.2 42 C43.2 43.8 42.5 46.6 42.3 47.5" stroke="#6cbc4c" stroke-width="1.1" fill="none"/><path d="M42.2 -2 C42.3 -1.1 43 1.7 43.1 3.5 C43.3 5.3 42.9 7.2 43.1 9 C43.2 10.8 43.9 12.7 44.1 14.5 C44.2 16.3 44.1 18.2 44.1 20 C44.1 21.8 44 23.7 44.1 25.5 C44.2 27.3 44.4 29.2 44.5 31 C44.6 32.8 44.4 34.7 44.6 36.5 C44.8 38.3 45.5 40.2 45.7 42 C45.9 43.8 45.9 46.6 45.9 47.5" stroke="#4a9434" stroke-width="1.1" fill="none"/><path d="M44.7 -2 C45 -1.1 46 1.7 46.1 3.5 C46.3 5.3 45.7 7.2 45.6 9 C45.6 10.8 45.7 12.7 45.7 14.5 C45.8 16.3 45.8 18.2 45.9 20 C46 21.8 46 23.7 46.2 25.5 C46.3 27.3 46.8 29.2 46.9 31 C46.9 32.8 46.3 34.7 46.5 36.5 C46.7 38.3 48.1 40.2 48.2 42 C48.3 43.8 47.4 46.6 47.3 47.5" stroke="#6cbc4c" stroke-width="0.9" fill="none"/></g>
<g filter="url(#b6)" fill="none"><path d="M47.5 -2 C47.8 -0.5 48.9 4 49 7 C49.1 10 47.9 13 48 16 C48.1 19 49.4 22 49.5 25 C49.6 28 48.4 31 48.5 34 C48.6 37 49.8 40.5 50 43 C50.2 45.5 49.6 48 49.5 49" stroke="#78d24e" stroke-width="1.7"/><path d="M52 -2 C52.2 -0.3 53.4 4.8 53.5 8 C53.6 11.2 52.4 13.8 52.5 17 C52.6 20.2 53.9 23.8 54 27 C54.1 30.2 52.9 33 53 36 C53.1 39 54.2 42.8 54.5 45 C54.8 47.2 54.5 48.3 54.5 49" stroke="#8eea62" stroke-width="2.3"/><path d="M43 -2 C43.3 0 44.9 6 45 10 C45.1 14 43.4 18 43.5 22 C43.6 26 45.3 29.5 45.5 34 C45.7 38.5 44.7 46.5 44.5 49" stroke="#5aa83e" stroke-width="1.2"/><path d="M59 -2 C59.2 0.3 60.4 7.5 60.5 12 C60.6 16.5 59.4 20.7 59.5 25 C59.6 29.3 60.8 34 61 38 C61.2 42 60.6 47.2 60.5 49" stroke="#3e6e26" stroke-width="1.0"/></g>
<rect x="0.5" y="0.5" width="63.6" height="46" fill="none" stroke="#081204" stroke-opacity="0.75" stroke-width="1"/>
</svg>
<rect x="88.8" y="233.8" width="24.8" height="7.8" fill="#fff"/>
<text x="91.8" y="240.9" font-size="8.4" fill="#333" textLength="20.2" lengthAdjust="spacingAndGlyphs" stroke="#333" stroke-width="0.2">0 min</text>
<rect x="51.2" y="238.4" width="7.6" height="1.7" fill="#d4dccb"/>
<svg x="116.7" y="194.6" width="64.3" height="47" overflow="hidden">
<rect width="65.3" height="48" fill="#0a2006"/>
<g filter="url(#b5)" fill="none" stroke-linecap="round"><path stroke="#256a1a" stroke-width="2" d="M.8-1.7l.2 .2M8.7-1.2l.2 .8M14-1.8l-.5 .2M16.3-.9l0 .8M19.3-2.5l-.7 1.1M22.8-1.1l-.2 .1M25.5-1.7l0 0M30.6-1.8l.2 1.2M33.5-1.3l-.5 1.1M38.4-1.3l.1 .1M40.4-2l.6 .3M45.5-1.9l.2 .5M48.6-1.8l-.1 .5M53.1-1.9l.6 .2M54.8-1.1l-.2 .1M57.8-1.6l-.8 .2M-.6 .6l0 1.1M1.7 .6l0 .7M7.2 1.4l0 0M13.1 .6l-.1 .3M13.7 .5l.4 0M22.2 .6l-.3 .4M24.6 .8l-1.2 .3M29.9 .8l-.2 .1M33.7 .4l0 .3M36.7 .6l-.2 .3M38.7 1.4l0 .1M41.2 .6l.3 .7M44.1 0l.4 .6M45.8 .2l1.2 .2M49.3 1l-.5 .6M52 1l0 1.3M53.4 .2l-.2 1.3M56.5 .6l.3 .2M.7 2.9l.7 .9M4.3 2.4l-1.1 0M14 2.5l-1.1 .3M16.2 2.7l-.5 .2M18.2 2.5l.4 .8M21 3.1l.6 .3M22.9 1.9l-.1 1.3M25.8 2.6l-1 .2M30.7 3.7l.6 .1M32.3 2.3l.8 .8M35.7 2.1l-.3 .3M38.4 2l-.4 .7M40.8 2.6l-.5 1.1M42.7 3.5l0 .6M45 2.1l0 .2M50.8 3.4l-.4 .1M52.5 3.6l-.1 .1M54.3 2l.6 1.1M-.8 4.9l.6 .8M2.8 4l.8 .6M4.8 4.7l-.4 .3M6.5 5.3l1 .5M12.2 5.7l.8 .1M14 4.4l.1 0M17.4 5.7l-.1 .1M19.7 4.5l0 1.2M21.9 5.2l.1 .1M25.2 5.2l-.2 .1M27.4 4.9l-.1 .4M32.1 4.5l-.4 .7M33.6 5.7l.8 .4M39.6 4.7l-.7 .6M44.6 5l.4 .2M46.7 4.6l.7 .3M49.8 4.8l-.3 .8M51.5 4.9l.1 .3M54.6 5.2l0 0M56.4 4.8l.1 .3M4.3 6.8l-1 .3M6.1 6.6l.7 .8M9.3 6.5l0 0M9.8 7.8l1 .1M16.1 7l.2 0M18.3 6.9l.2 0M20.9 7.4l0 .2M23.6 6.5l.4 .8M28.3 7.1l1 .3M33 7l-.2 .2M38.2 7.6l-.3 .3M40.4 7l.4 .7M43 6.6l.2 .5M45.3 6.4l-.3 .1M48.2 7.8l-.1 0M50.9 7.9l-.5 .3M52.8 6l.5 1.2M57.2 7.8l-.5 .2M.2 8.8l-.3 .3M3 9.3l0 .2M4.1 9.2l.1 0M6.6 9.6l-.1 .8M11.5 10.1l-.1 .1M14.4 9.6l-.2 0M19 8.5l0 .9M24.3 10l0 .2M26.9 8.6l-.1 .4M32.3 9.1l0 .2M34.7 9.8l.3 .2M36.5 9.1l-.6 .7M39.4 8.3l-.7 1M42.8 8.9l-.9 .4M44.3 8.6l0 .1M47.3 10.1l0 .2M51.6 9.3l.2 .1M54 8.9l-.3 .1M56.2 9.5l-.8 .8M3.3 10.5l-.7 1M5.3 11l.1 .7M8.4 12.1l0 0M9.8 12l1 .6M15.2 11l.9 .1M18.6 11.1l0 .3M19.6 10.8l.8 .3M26.6 10.8l-.2 .5M30.7 11.1l-.1 .1M32.9 12.1l.1 .1M34.7 11.4l.8 0M38.3 11.3l.6 .3M41.1 11.2l-.4 .8M43.3 11.7l-1.2 .4M45.7 11.1l-.2 .5M48.1 10.6l.9 .5M50.9 11.3l-.2 1.1M52.8 11.3l.3 .3M56 10.8l-.9 0M0 13.6l-1.1 .2M4.7 13.8l.2 .7M6.5 13.8l.2 .9M9.8 13.3l-.5 .2M14.4 12.5l0 1.1M17.4 14.2l-.7 .2M20 13.5l.8 1M22.6 13.4l-.5 1.1M25.2 12.9l-.1 .3M25.9 13.9l1 .5M28.1 13.3l1.1 .7M31.5 13.9l.4 .7M34.3 13l.5 .3M39.3 13.6l0 0M41.6 12.8l.3 .2M48.2 14.2l.6 .3M52.7 13.3l-1.3 .3M53.2 13.4l.8 .1M57.2 14l-.5 .5M1.1 16l-.5 .7M5.9 14.7l.3 .6M11.2 16.1l.5 .2M15.7 15l-.5 1M20.9 14.7l.6 .4M23.4 15l-.1 .2M25.7 15.4l-.5 .1M27.5 16.3l1.2 .2M30.7 15.5l.5 .3M33.8 15.2l.1 .3M38.7 16l-.6 .3M45.6 15.8l.3 .8M47.8 16.4l0 0M52.6 16.3l-.1 .3M54.9 15.8l-.2 0M-1.1 18.4l.9 .2M13.7 17l.5 .6M17.9 17.8l0 .3M27.5 17.9l.2 .4M30.6 18l-.9 .7M32 17.7l-.2 .4M34.8 17.6l-.5 .2M36.2 17.3l-.3 .9M39.5 17.9l.5 .4M40.8 18.4l.2 .1M46 17l0 1M49.2 17.9l-1.2 .4M51.3 18.5l.9 0M53.8 17l.2 .4M14.3 20.4l-.3 .8M18.2 20.1l.9 .7M24.1 19.7l-.6 .4M24.6 20.2l.7 .3M27.6 19.6l-.1 .1M33.4 19.2l.4 .7M36.5 19.6l-1.1 .4M43.2 19.3l-.2 .2M49.6 20l0 .3M52.2 19.7l-.1 .1M55.9 19.8l0 .3M.4 22.2l-.1 .2M8.8 22.3l.8 0M11.9 22.1l0 .6M13.9 21.4l.6 .1M16.9 22.6l-1 .2M19.8 21.2l-.4 .3M26.3 21.8l-.3 .8M32.6 22.2l.1 0M33.3 22.4l.8 .3M39.7 22.3l0 .1M46 22.7l.4 .1M49.4 21.4l.2 .1M52.1 21.1l0 .5M53.4 21l.4 1.2M56.5 21.9l-1.2 .5M1.1 23.4l0 .7M3.9 24l.5 1M5.5 24.8l1 .5M8.9 24.1l-.8 1M18 24.5l1.2 .2M23.8 24.2l.1 0M26.2 24.2l-.7 .6M27.9 23.1l-.2 .9M29.6 23.9l1 .7M37.9 23.6l-.2 .1M40 24.2l0 0M43.2 23.5l-.1 .3M44.9 24.2l-.1 0M50.3 24.3l.4 0M53.4 24.3l0 1.3M.9 26l-.2 .8M2.7 25.9l.2 .1M5.5 26.7l.1 .1M14.6 25.7l-1.1 .3M16.5 26.8l.8 .6M21.5 25.4l1.1 .4M24.8 25.5l-.4 .3M29.8 26l.8 .5M31.7 25.7l-.3 .7M34.1 25.7l-.3 .2M36.2 26.5l.6 .4M38.9 25.7l.1 .4M41 26.8l-.2 0M44.4 25.9l-1.3 .2M47.5 26.7l-.7 .9M49.7 25.5l-1.2 .3M52.2 26.5l-.4 .5M52.5 26l1.2 0M56.8 26l.1 .6M9.2 28.2l.1 0M10.4 28.7l.9 .5M13.7 28.6l-.2 .2M15.4 28.6l-.3 .1M20.9 28.6l.8 .3M23.6 29.2l-.2 .1M26 28.8l.5 .1M28 27.6l0 .3M30.9 27.4l1 .7M32.3 28.4l.1 .5M36.3 27.7l.1 1.3M38 27.5l-.9 .4M40.4 27.9l-1 .7M42.7 28l-.2 .3M45.4 29.1l1.1 .4M48.3 27.7l.5 .5M50.4 27.9l.3 .1M52.3 28.1l.6 .8M54.6 28.8l.6 .2M57.1 28.4l0 1.2M2.8 30.8l.1 .7M9.8 30.6l-.5 .6M14 30.2l.6 .6M17.3 31.3l0 0M28.6 30.6l.7 .6M32.1 31.3l0 .1M34.4 30.4l-.1 .1M37.2 29.7l.4 1M39.7 30.1l.2 .5M41.5 31l.1 .2M44.5 30.1l0 0M46.3 31.3l1 .1M48.3 30.5l1.1 .4M51.3 30.5l.8 1M54.2 30.3l-.9 .1M55.5 30.6l.8 .4M.7 32.9l.2 1.1M8.6 32.8l-.1 .1M15.9 32.1l-.2 1.2M17.9 32.3l-.1 0M20.3 32.4l.1 0M23.8 32.3l-1 .1M25.3 31.9l.1 .3M28.1 33.1l-1.1 .6M30.3 32.4l.5 .5M34.4 33.1l.6 .1M37.2 32.3l.1 .3M40.1 32.4l.6 .5M45.2 31.8l.8 .4M47.4 32.2l0 .3M50.4 32.5l-.4 .1M54.1 31.5l.7 1M2.1 34.4l-.8 .1M9.4 34.4l0 .4M17.1 34.1l-.3 .2M19.6 34.8l0 .2M22.8 34.9l-.1 1.2M25 34.5l.3 .6M26.6 35.3l.1 .2M29 34.6l-.4 .2M30.9 35.3l.5 .1M36 35.2l.4 .3M42.1 35.3l-1.1 .1M44.1 35.5l-.2 .1M47.5 34l-.6 1.2M49.1 34.7l0 0M52.2 35.2l-.3 .3M53.6 34.6l.3 .1M55.8 34.9l.6 .4M-.7 36.5l.1 0M2.2 37.6l-.6 .2M3.4 37.1l1 .8M28 37.2l0 .1M30 37.6l-.3 .2M33.9 37.5l-1.2 .4M35.5 36.4l.7 .7M37.3 36.7l.4 .5M41.2 36.7l-.5 .7M44.4 36.3l.7 .5M50.9 36.6l0 0M52.4 37.3l-.3 .1M56.1 36.4l-.5 .3M56.7 36.8l1.1 .2M-.3 38.7l.6 1.1M7.2 39.1l-.9 .8M11.4 38.4l.9 .1M13.9 38.4l.5 .6M17.7 39.5l0 0M19.6 39.2l0 0M21.9 38.9l1 .7M23.4 38.7l.8 .7M26.8 38.8l-.7 .5M29.5 38.5l1.3 .2M31.8 38.8l-.4 .8M34.5 38.6l.2 .4M37.1 39l-.9 .1M39.6 37.8l.6 1.1M42.2 39.1l.2 .2M45.2 38.7l-.8 .3M47.3 38l-1 .6M49 39l-.8 .7M51.1 39l.1 .1M55 38.9l-.7 .6M56.5 38.9l.3 .5M-2.2 41.9l.5 0M1.1 40.8l.3 .1M3.2 41.1l1 .4M8.5 41.8l.1 .1M13.2 41.5l-.5 .1M17.7 40.7l0 .3M20 41.4l0 .1M24.1 41.5l-.4 0M26 41.2l0 .1M28.7 40.9l-.4 .8M32.8 41.3l.4 .2M34.6 41.3l.5 .1M38.5 40.5l.3 .2M40.3 41.3l1.1 .5M43.4 41.5l.1 1M50.4 40.6l0 .7M53.1 41.1l.1 .3M55.2 41.1l-.3 .3M-.3 42.4l.7 .4M2.2 43.7l.4 .1M4.7 43.9l.2 0M6.9 43.3l.5 .1M9.5 42.7l-.1 .2M11.9 42.6l1 .3M17.4 44l.1 .3M25 44l-.1 .2M29.8 43.8l.7 .4M34.1 42.8l.9 .1M36.3 42.8l.9 .4M41.2 43.9l-.3 .2M43.9 42.8l-.1 0M47.4 42.6l-1.1 .2M49.4 43.2l-.5 0M50.6 43.5l.5 1.2M1.4 45.1l-.4 .4M13 44.9l.1 .7M20 45.7l.4 .2M30 44.9l.3 .5M34 44.7l-.7 .2M35.5 44.8l0 1.2M37.7 44.7l-.1 .5M40.5 44.5l-.1 .4M41.8 45.1l.6 0M48.2 45.3l-.1 .1M50.4 45.5l-.1 .2M52.9 45.8l.3 .7M55.1 45.7l.1 .1M-.8 47.4l1.3 .2M3.2 47.9l-.2 .8M5.5 47.4l-.3 .1M11 47.2l-1.2 .5M13 47.3l-.9 .7M14.7 46.8l.1 .6M20 46.8l.7 .1M21.4 46.9l.4 .4M26.5 46.7l.2 .4M32.2 47.8l-.2 .3M37.3 47.9l-.2 .6M38.7 47.4l0 0M42.4 48.3l0 .1M44.6 48l.1 .3M45.9 48.2l.2 0M49.1 47.1l.7 .1M52.2 48l-.1 .1M54.8 48.1l-.5 .3M56.2 47l-1 .2"/><path stroke="#7ada46" stroke-width="1.5" d="M14-1.8l-.5 .2M22.2 .6l-.3 .4M18.2 2.5l.4 .8M9.8 7.8l1 .1M4.1 9.2l.1 0M34.7 9.8l.3 .2M51.6 9.3l.2 .1M50.9 11.3l-.2 1.1M14.4 12.5l0 1.1M22.6 13.4l-.5 1.1M25.9 13.9l1 .5M41.6 12.8l.3 .2M26.3 21.8l-.3 .8M32.6 22.2l.1 0M.9 26l-.2 .8M34.1 25.7l-.3 .2M10.4 28.7l.9 .5M45.4 29.1l1.1 .4M9.4 34.4l0 .4M-.7 36.5l.1 0M34.5 38.6l.2 .4M56.5 38.9l.3 .5M34.6 41.3l.5 .1M20 46.8l.7 .1M37.3 47.9l-.2 .6M44.6 48l.1 .3M56.2 47l-1 .2"/><path stroke="#7ada46" stroke-width="1.2" d="M19.3-2.5l-.7 1.1M25.5-1.7l0 0M48.6-1.8l-.1 .5M53.1-1.9l.6 .2M52 1l0 1.3M45 2.1l0 .2M21.9 5.2l.1 .1M.2 8.8l-.3 .3M48.1 10.6l.9 .5M1.1 16l-.5 .7M46 17l0 1M19.8 21.2l-.4 .3M56.5 21.9l-1.2 .5M27.9 23.1l-.2 .9M14.6 25.7l-1.1 .3M38.9 25.7l.1 .4M9.2 28.2l.1 0M50.4 27.9l.3 .1M57.1 28.4l0 1.2M17.3 31.3l0 0M34.4 30.4l-.1 .1M37.2 29.7l.4 1M41.5 31l.1 .2M45.2 31.8l.8 .4M52.2 35.2l-.3 .3M33.9 37.5l-1.2 .4M56.7 36.8l1.1 .2M7.2 39.1l-.9 .8M29.5 38.5l1.3 .2M39.6 37.8l.6 1.1M20 41.4l0 .1M28.7 40.9l-.4 .8M41.8 45.1l.6 0M49.1 47.1l.7 .1"/><path stroke="#7ada46" stroke-width="1" d="M13.7 .5l.4 0M49.3 1l-.5 .6M30.7 3.7l.6 .1M4.8 4.7l-.4 .3M56.4 4.8l.1 .3M44.3 8.6l0 .1M19.6 10.8l.8 .3M38.3 11.3l.6 .3M0 13.6l-1.1 .2M45.6 15.8l.3 .8M40.8 18.4l.2 .1M49.2 17.9l-1.2 .4M27.6 19.6l-.1 .1M1.1 23.4l0 .7M29.6 23.9l1 .7M40 24.2l0 0M5.5 26.7l.1 .1M41 26.8l-.2 0M13.7 28.6l-.2 .2M28 27.6l0 .3M2.8 30.8l.1 .7M25 34.5l.3 .6M26.6 35.3l.1 .2M29 34.6l-.4 .2M55.8 34.9l.6 .4M37.3 36.7l.4 .5M44.4 36.3l.7 .5M50.9 36.6l0 0M-.3 38.7l.6 1.1M13.9 38.4l.5 .6M53.1 41.1l.1 .3M25 44l-.1 .2M13 47.3l-.9 .7M38.7 47.4l0 0M52.2 48l-.1 .1"/><path stroke="#92e85e" stroke-width="1.2" d="M.8-1.7l.2 .2M22.8-1.1l-.2 .1M50.8 3.4l-.4 .1M9.3 6.5l0 0M14.4 9.6l-.2 0M26.9 8.6l-.1 .4M5.3 11l.1 .7M4.7 13.8l.2 .7M17.4 14.2l-.7 .2M5.9 14.7l.3 .6M33.8 15.2l.1 .3M54.9 15.8l-.2 0M11.9 22.1l0 .6M46 22.7l.4 .1M3.9 24l.5 1M43.2 23.5l-.1 .3M52.5 26l1.2 0M23.6 29.2l-.2 .1M32.3 28.4l.1 .5M44.5 30.1l0 0M8.6 32.8l-.1 .1M53.6 34.6l.3 .1M37.1 39l-.9 .1M3.2 41.1l1 .4M38.5 40.5l.3 .2M50.4 40.6l0 .7M-.3 42.4l.7 .4M5.5 47.4l-.3 .1"/><path stroke="#92e85e" stroke-width="1.5" d="M40.4-2l.6 .3M22.9 1.9l-.1 1.3M32.3 2.3l.8 .8M40.8 2.6l-.5 1.1M52.5 3.6l-.1 .1M12.2 5.7l.8 .1M16.1 7l.2 0M33 7l-.2 .2M43 6.6l.2 .5M19 8.5l0 .9M8.4 12.1l0 0M32.9 12.1l.1 .1M25.2 12.9l-.1 .3M57.2 14l-.5 .5M30.6 18l-.9 .7M51.3 18.5l.9 0M49.6 20l0 .3M16.9 22.6l-1 .2M18 24.5l1.2 .2M23.8 24.2l.1 0M53.4 24.3l0 1.3M2.7 25.9l.2 .1M49.7 25.5l-1.2 .3M56.8 26l.1 .6M15.4 28.6l-.3 .1M52.3 28.1l.6 .8M28.1 33.1l-1.1 .6M30.3 32.4l.5 .5M34.4 33.1l.6 .1M30.9 35.3l.5 .1M49.1 34.7l0 0M30 37.6l-.3 .2M52.4 37.3l-.3 .1M4.7 43.9l.2 0M29.8 43.8l.7 .4M52.9 45.8l.3 .7M3.2 47.9l-.2 .8M42.4 48.3l0 .1"/><path stroke="#92e85e" stroke-width="1" d="M13.1 .6l-.1 .3M.7 2.9l.7 .9M6.1 6.6l.7 .8M20.9 7.4l0 .2M48.2 7.8l-.1 0M26.6 10.8l-.2 .5M30.7 11.1l-.1 .1M34.3 13l.5 .3M38.7 16l-.6 .3M34.8 17.6l-.5 .2M36.2 17.3l-.3 .9M24.1 19.7l-.6 .4M52.2 19.7l-.1 .1M.4 22.2l-.1 .2M53.4 21l.4 1.2M47.4 32.2l0 .3M36 35.2l.4 .3M28 37.2l0 .1M56.1 36.4l-.5 .3M11.4 38.4l.9 .1M17.7 39.5l0 0M26.8 38.8l-.7 .5M51.1 39l.1 .1M2.2 43.7l.4 .1M36.3 42.8l.9 .4M47.4 42.6l-1.1 .2M49.4 43.2l-.5 0M30 44.9l.3 .5M34 44.7l-.7 .2"/><path stroke="#66c63a" stroke-width="1.5" d="M16.3-.9l0 .8M30.6-1.8l.2 1.2M38.7 1.4l0 .1M41.2 .6l.3 .7M17.4 5.7l-.1 .1M51.5 4.9l.1 .3M54.6 5.2l0 0M38.2 7.6l-.3 .3M57.2 7.8l-.5 .2M39.4 8.3l-.7 1M54 8.9l-.3 .1M56.2 9.5l-.8 .8M6.5 13.8l.2 .9M11.2 16.1l.5 .2M23.4 15l-.1 .2M39.7 22.3l0 .1M49.4 21.4l.2 .1M26.2 24.2l-.7 .6M47.5 26.7l-.7 .9M30.9 27.4l1 .7M36.3 27.7l.1 1.3M48.3 27.7l.5 .5M14 30.2l.6 .6M28.6 30.6l.7 .6M51.3 30.5l.8 1M25.3 31.9l.1 .3M47.5 34l-.6 1.2M2.2 37.6l-.6 .2M3.4 37.1l1 .8M41.2 36.7l-.5 .7M21.9 38.9l1 .7M8.5 41.8l.1 .1M17.7 40.7l0 .3M26 41.2l0 .1M43.4 41.5l.1 1M6.9 43.3l.5 .1M17.4 44l.1 .3M1.4 45.1l-.4 .4M55.1 45.7l.1 .1M-.8 47.4l1.3 .2M14.7 46.8l.1 .6M21.4 46.9l.4 .4"/><path stroke="#66c63a" stroke-width="1.2" d="M45.5-1.9l.2 .5M29.9 .8l-.2 .1M45.8 .2l1.2 .2M53.4 .2l-.2 1.3M21 3.1l.6 .3M38.4 2l-.4 .7M2.8 4l.8 .6M6.5 5.3l1 .5M14 4.4l.1 0M25.2 5.2l-.2 .1M33.6 5.7l.8 .4M49.8 4.8l-.3 .8M18.3 6.9l.2 0M28.3 7.1l1 .3M45.3 6.4l-.3 .1M52.8 6l.5 1.2M3 9.3l0 .2M15.2 11l.9 .1M34.7 11.4l.8 0M45.7 11.1l-.2 .5M52.8 11.3l.3 .3M56 10.8l-.9 0M20 13.5l.8 1M39.3 13.6l0 0M53.2 13.4l.8 .1M20.9 14.7l.6 .4M52.6 16.3l-.1 .3M17.9 17.8l0 .3M39.5 17.9l.5 .4M8.8 22.3l.8 0M8.9 24.1l-.8 1M50.3 24.3l.4 0M21.5 25.4l1.1 .4M26 28.8l.5 .1M40.4 27.9l-1 .7M46.3 31.3l1 .1M17.9 32.3l-.1 0M23.8 32.3l-1 .1M50.4 32.5l-.4 .1M42.1 35.3l-1.1 .1M31.8 38.8l-.4 .8M-2.2 41.9l.5 0M13.2 41.5l-.5 .1M9.5 42.7l-.1 .2M11.9 42.6l1 .3M40.5 44.5l-.1 .4"/><path stroke="#66c63a" stroke-width="1" d="M16.2 2.7l-.5 .2M42.7 3.5l0 .6M-.8 4.9l.6 .8M19.7 4.5l0 1.2M46.7 4.6l.7 .3M50.9 7.9l-.5 .3M36.5 9.1l-.6 .7M42.8 8.9l-.9 .4M32 17.7l-.2 .4M18.2 20.1l.9 .7M24.6 20.2l.7 .3M36.5 19.6l-1.1 .4M16.5 26.8l.8 .6M54.2 30.3l-.9 .1M35.5 36.4l.7 .7M45.2 38.7l-.8 .3M1.1 40.8l.3 .1M55.2 41.1l-.3 .3M20 45.7l.4 .2M35.5 44.8l0 1.2M50.4 45.5l-.1 .2"/><path stroke="#a6f078" stroke-width="1.5" d="M8.7-1.2l.2 .8M33.5-1.3l-.5 1.1M38.4-1.3l.1 .1M1.7 .6l0 .7M56.5 .6l.3 .2M32.1 4.5l-.4 .7M24.3 10l0 .2M47.3 10.1l0 .2M3.3 10.5l-.7 1M9.8 12l1 .6M41.1 11.2l-.4 .8M9.8 13.3l-.5 .2M28.1 13.3l1.1 .7M48.2 14.2l.6 .3M27.5 16.3l1.2 .2M30.7 15.5l.5 .3M47.8 16.4l0 0M13.7 17l.5 .6M14.3 20.4l-.3 .8M37.9 23.6l-.2 .1M44.9 24.2l-.1 0M24.8 25.5l-.4 .3M29.8 26l.8 .5M44.4 25.9l-1.3 .2M42.7 28l-.2 .3M9.8 30.6l-.5 .6M39.7 30.1l.2 .5M55.5 30.6l.8 .4M.7 32.9l.2 1.1M15.9 32.1l-.2 1.2M40.1 32.4l.6 .5M47.3 38l-1 .6M24.1 41.5l-.4 0M13 44.9l.1 .7"/><path stroke="#a6f078" stroke-width="1.2" d="M54.8-1.1l-.2 .1M57.8-1.6l-.8 .2M24.6 .8l-1.2 .3M25.8 2.6l-1 .2M35.7 2.1l-.3 .3M54.3 2l.6 1.1M27.4 4.9l-.1 .4M44.6 5l.4 .2M23.6 6.5l.4 .8M40.4 7l.4 .7M6.6 9.6l-.1 .8M18.6 11.1l0 .3M43.3 11.7l-1.2 .4M52.7 13.3l-1.3 .3M15.7 15l-.5 1M53.8 17l.2 .4M33.4 19.2l.4 .7M43.2 19.3l-.2 .2M52.1 21.1l0 .5M5.5 24.8l1 .5M52.2 26.5l-.4 .5M38 27.5l-.9 .4M32.1 31.3l0 .1M48.3 30.5l1.1 .4M37.2 32.3l.1 .3M2.1 34.4l-.8 .1M17.1 34.1l-.3 .2M19.6 34.8l0 .2M44.1 35.5l-.2 .1M23.4 38.7l.8 .7M49 39l-.8 .7M55 38.9l-.7 .6M41.2 43.9l-.3 .2M43.9 42.8l-.1 0M50.6 43.5l.5 1.2M37.7 44.7l-.1 .5M48.2 45.3l-.1 .1M32.2 47.8l-.2 .3"/><path stroke="#a6f078" stroke-width="1" d="M-.6 .6l0 1.1M7.2 1.4l0 0M33.7 .4l0 .3M36.7 .6l-.2 .3M44.1 0l.4 .6M4.3 2.4l-1.1 0M14 2.5l-1.1 .3M39.6 4.7l-.7 .6M4.3 6.8l-1 .3M11.5 10.1l-.1 .1M32.3 9.1l0 .2M31.5 13.9l.4 .7M25.7 15.4l-.5 .1M-1.1 18.4l.9 .2M27.5 17.9l.2 .4M55.9 19.8l0 .3M13.9 21.4l.6 .1M33.3 22.4l.8 .3M31.7 25.7l-.3 .7M36.2 26.5l.6 .4M20.9 28.6l.8 .3M54.6 28.8l.6 .2M20.3 32.4l.1 0M54.1 31.5l.7 1M22.8 34.9l-.1 1.2M19.6 39.2l0 0M42.2 39.1l.2 .2M32.8 41.3l.4 .2M40.3 41.3l1.1 .5M34.1 42.8l.9 .1M11 47.2l-1.2 .5M26.5 46.7l.2 .4M45.9 48.2l.2 0M54.8 48.1l-.5 .3"/></g>
<rect x="57.6" y="-1" width="3" height="49" fill="#040c03" filter="url(#b6)"/>
<path d="M61 -1 L66 -1 L66 18 L61 16 Z" fill="#1c4a12" filter="url(#b6)"/>
<path d="M60.5 16 L66 18 L66 48 L60.5 48 Z" fill="#76d84a" filter="url(#b8)"/>
<g filter="url(#b8)" fill="#86e858"><circle cx="50" cy="4" r="2"/><circle cx="54" cy="7" r="1.8"/><circle cx="52" cy="11" r="1.6"/><circle cx="47" cy="8" r="1.4"/><circle cx="12" cy="11" r="1.3"/><circle cx="44" cy="22" r="1.4"/></g>
<rect x="0.5" y="0.5" width="63.3" height="46" fill="none" stroke="#081204" stroke-opacity="0.75" stroke-width="1"/>
</svg>
<rect x="156.8" y="234" width="24.2" height="7.6" fill="#fff"/>
<text x="179" y="241.3" font-size="8.4" fill="#333" text-anchor="end" textLength="18.6" lengthAdjust="spacingAndGlyphs" stroke="#333" stroke-width="0.2">5 min</text>
<svg x="49" y="246.9" width="64.6" height="47" overflow="hidden">
<rect width="65.6" height="48" fill="url(#gA2b)"/>
<g filter="url(#b8)" fill="none" stroke-linecap="round"><path stroke="#1f4016" stroke-width="2" d="M28.1 9.6l0 0M60 16.5l0 0M12.4 25.2l0 0M15.2 15.8l0 0M22.7 33.7l0 0M46.7 18.4l0 0M15.5 40.8l0 0"/><path stroke="#244a1a" stroke-width="1.5" d="M56.5 27.9l0 0M30.6 26.3l0 0M3 2.4l0 0M24.1 23.1l0 0M14.3 11.8l0 0M18.5 5.4l0 0M61.2 23.4l0 0M46.8 40.1l0 0M8.4 6.9l0 0M2.9 5.3l0 0M40.6 16.5l0 0M43.8 26.9l0 0M49.2 17.9l0 0M62.2 37.5l0 0M39.9 35.3l0 0M27.3 44.7l0 0M8.7 12.1l0 0"/><path stroke="#1a3612" stroke-width="1.5" d="M2.1 14.1l0 0M11 .6l0 0M52.3 27.5l0 0M47.8 29.1l0 0M27.6 30.2l0 0M41 7.8l0 0M18.8 14.8l0 0"/><path stroke="#2a5420" stroke-width="1" d="M32.3 .6l0 0M52.2 9.4l0 0M23.1 45l0 0M2.8 27.9l0 0M.1 13l0 0M28.6 34.3l0 0M18.5 8.1l0 0M41.9 15.8l0 0"/><path stroke="#244a1a" stroke-width="2" d="M4.2 37.7l0 0M1.9 1.9l0 0M54.2 46.7l0 0M17.9 34.9l0 0M3.4 42.4l0 0M51.8 12.8l0 0M63.1 2.6l0 0M31.5 20.5l0 0M39.7 44.2l0 0M25.2 28.4l0 0"/><path stroke="#1a3612" stroke-width="1.2" d="M64.1 4.5l0 0M47.3 34.9l0 0M56.6 26l0 0M57.7 44.8l0 0M37.6 45.1l0 0M64.1 45.9l0 0M8.3 41.7l0 0M2.4 37.1l0 0"/><path stroke="#1f4016" stroke-width="1" d="M39.2 22.4l0 0M11.2 20.6l0 0M59.1 8.6l0 0M46.9 13.3l0 0M42.5 5.8l0 0M6.1 43.1l0 0M32.2 39.6l0 0"/><path stroke="#2a5420" stroke-width="1.8" d="M26.8 2.9l0 0M18.8 7.8l0 0M45.7 47.8l0 0M21.7 42.9l0 0M36.4 31l0 0M55.3 1.4l0 0M29.3 17l0 0M58.6 44l0 0M61.7 28.3l0 0M0 43.2l0 0M39.9 41.2l0 0"/><path stroke="#2a5420" stroke-width="1.2" d="M14.1 30.7l0 0M23.2 43.7l0 0M33 41.3l0 0M8.7 34.7l0 0M22.9 11.4l0 0M23 46.1l0 0M16.2 38.4l0 0M64.3 47l0 0M10.7 39l0 0M50.2 27.1l0 0M28.8 35.2l0 0M49.6 12.9l0 0M24 41.5l0 0"/><path stroke="#1a3612" stroke-width="2" d="M50.3 4.3l0 0M52 40.8l0 0M18 25.7l0 0M45.8 12.9l0 0M48.9 38.3l0 0"/><path stroke="#244a1a" stroke-width="1.2" d="M19.8 25.4l0 0M3.7-.9l0 0M24.8 17.4l0 0M32.1 39l0 0M34.1 47.1l0 0M30.6 47.9l0 0M38.2 42.4l0 0M16.9 38.4l0 0M64.7 46.5l0 0M20.8 32l0 0M19.3 10.4l0 0M49.8 37.8l0 0M1.4 45.9l0 0M30.7 22l0 0M59.8 9l0 0"/><path stroke="#1a3612" stroke-width="1.8" d="M56.1 10.7l0 0M34.6 8.7l0 0M10.7 27.1l0 0M62.7 18.3l0 0M8.5 1.3l0 0M63.8 26l0 0M33.9 42.3l0 0"/><path stroke="#1a3612" stroke-width="1" d="M49.2 21.3l0 0M-.5 17l0 0M65.2 30.2l0 0"/><path stroke="#2a5420" stroke-width="1.5" d="M-.9 4.6l0 0M26.5 28.4l0 0M39.3 3.4l0 0M39.5 5.9l0 0M1.7 16.8l0 0M19.6 2.2l0 0M44.6 2.1l0 0M7.9 22.7l0 0M51.7 24.8l0 0M24.1 39.5l0 0M41.9 15l0 0"/><path stroke="#244a1a" stroke-width="1" d="M36.6 3.4l0 0M60.4 2.6l0 0M26.7 24.1l0 0M21.5 19.8l0 0M16.9 17.7l0 0M-.7 .5l0 0"/><path stroke="#1f4016" stroke-width="1.2" d="M26.5 25.8l0 0M20.1 14l0 0M33 9.8l0 0M12.3 28.2l0 0M59 29.8l0 0M24.8 10.5l0 0M38.8 30.4l0 0M48.1 3.9l0 0"/><path stroke="#2a5420" stroke-width="2" d="M21.4 7.2l0 0M63.7 16.9l0 0M18.8 19.6l0 0M55.1 40.5l0 0M61.1 30l0 0"/><path stroke="#244a1a" stroke-width="1.8" d="M10.5 36.4l0 0M6 38.3l0 0M51.4 33.1l0 0M38.3 24.4l0 0M10.4 34.7l0 0M26.2 6.6l0 0"/><path stroke="#1f4016" stroke-width="1.5" d="M24.5 28.2l0 0M37.8 10.2l0 0M33.1 33.2l0 0M59.3 15.5l0 0M48.7 22.9l0 0"/><path stroke="#1f4016" stroke-width="1.8" d="M50.3 35.9l0 0"/></g>
<g filter="url(#b6)"><path d="M39.4 22.2 C40.8 22.9 45.2 24.8 47.8 26.1 C50.3 27.4 53.4 29.3 54.5 29.9" stroke="#3f7a2e" stroke-width="0.7" fill="none"/><path d="M45.6 -3.3 C46.3 -2.6 48.7 -0.4 50.2 1.1 C51.6 2.6 53.6 4.8 54.3 5.6" stroke="#4a8836" stroke-width="0.6" fill="none"/><path d="M5.4 22.5 C6 22.9 7.8 24.2 8.9 25 C10 25.8 11.6 27.1 12.1 27.5" stroke="#4a8836" stroke-width="0.9" fill="none"/><path d="M34.9 24.2 C35.9 24.7 39.3 26.4 41 27.5 C42.7 28.6 44.4 30.2 45.1 30.8" stroke="#4a8836" stroke-width="0.8" fill="none"/><path d="M37.1 19.2 C38.2 20.3 41.9 23.4 44 25.4 C46.1 27.5 48.9 30.6 49.8 31.6" stroke="#4a8836" stroke-width="0.6" fill="none"/><path d="M-3.4 1.5 C-2.4 2.1 0.3 4 2.5 5.3 C4.7 6.5 8.6 8.4 9.9 9" stroke="#3a6e2a" stroke-width="0.7" fill="none"/><path d="M6.3 -0.2 C7 0.1 9.4 1 10.8 1.6 C12.1 2.2 13.8 3 14.4 3.3" stroke="#3a6e2a" stroke-width="0.9" fill="none"/><path d="M13 -3.7 C13.7 -3.4 15.6 -2.5 17 -1.9 C18.4 -1.3 20.8 -0.4 21.6 -0.1" stroke="#4a8836" stroke-width="0.7" fill="none"/><path d="M44.5 18.1 C45.6 19.1 49.3 22.3 51.4 24.4 C53.4 26.5 56.1 29.7 57.1 30.8" stroke="#3f7a2e" stroke-width="0.8" fill="none"/><path d="M15.5 2.7 C16.3 3.5 18.4 6 20.3 7.7 C22.2 9.3 25.7 11.8 26.8 12.7" stroke="#4a8836" stroke-width="0.6" fill="none"/><path d="M0 2.9 C1 4 3.8 7.3 6 9.5 C8.2 11.7 12.2 15 13.4 16.1" stroke="#4a8836" stroke-width="0.7" fill="none"/><path d="M24.4 24.6 C25 25.3 26.7 27.4 28.2 28.8 C29.6 30.2 32.1 32.3 32.9 33" stroke="#3f7a2e" stroke-width="0.9" fill="none"/><path d="M-4.8 20.1 C-3.7 20.7 -0.2 22.3 1.8 23.4 C3.8 24.5 6.3 26.2 7.2 26.8" stroke="#3f7a2e" stroke-width="0.8" fill="none"/><path d="M14.9 17.1 C16 17.9 19.4 20.4 21.3 22 C23.2 23.6 25.5 26 26.4 26.8" stroke="#4a8836" stroke-width="0.5" fill="none"/><path d="M-3.2 2.4 C-2.5 2.8 -0.6 3.8 0.8 4.5 C2.2 5.2 4.5 6.3 5.2 6.6" stroke="#4a8836" stroke-width="0.5" fill="none"/><path d="M2 13.4 C3 14.5 5.8 17.6 8 19.6 C10.1 21.7 13.7 24.8 14.9 25.8" stroke="#4a8836" stroke-width="0.6" fill="none"/><path d="M33 6.8 C33.9 7.3 36.7 8.8 38.2 9.8 C39.8 10.8 41.6 12.3 42.3 12.8" stroke="#4a8836" stroke-width="0.9" fill="none"/><path d="M28.9 26 C30 26.7 33.2 28.9 35.3 30.4 C37.3 31.8 40.1 34 41.1 34.8" stroke="#3f7a2e" stroke-width="0.7" fill="none"/><path d="M22.8 12.9 C24.2 13.7 28.3 16.2 31.1 17.8 C34 19.4 38.5 21.9 39.9 22.7" stroke="#3a6e2a" stroke-width="0.8" fill="none"/><path d="M-2.1 6.9 C-1.3 7.5 1.1 9.2 2.9 10.3 C4.6 11.4 7.4 13.1 8.3 13.7" stroke="#4a8836" stroke-width="0.7" fill="none"/><path d="M44.6 1.3 C45.9 2.1 49.8 4.7 51.9 6.5 C54 8.2 56.5 10.8 57.4 11.7" stroke="#3a6e2a" stroke-width="0.7" fill="none"/><path d="M11.1 1.2 C12.7 2 17.1 4.3 20.3 5.9 C23.4 7.4 28.6 9.8 30.3 10.5" stroke="#3a6e2a" stroke-width="0.6" fill="none"/><path d="M40.8 2.2 C41.3 2.4 42.5 3.3 43.7 3.8 C44.9 4.4 47.4 5.2 48.1 5.5" stroke="#3f7a2e" stroke-width="0.6" fill="none"/><path d="M24.6 26 C25.3 26.7 27.4 28.7 29 30.1 C30.6 31.4 33.4 33.5 34.3 34.2" stroke="#4a8836" stroke-width="0.8" fill="none"/><path d="M23.1 13.5 C23.8 14.2 25.7 16.2 27 17.5 C28.2 18.9 30 20.9 30.6 21.5" stroke="#3a6e2a" stroke-width="0.6" fill="none"/><path d="M-2.7 8.2 C-2.3 8.8 -1.3 10.5 -0.2 11.7 C0.8 12.9 2.9 14.7 3.5 15.3" stroke="#3f7a2e" stroke-width="0.8" fill="none"/></g>
<g filter="url(#b8)" fill="none"><path d="M14 12 C15.3 12.4 19.3 13.4 22 14.5 C24.7 15.6 27.5 17 30 18.5 C32.5 20 34.8 21.7 37 23.5 C39.2 25.3 41 27.7 43 29.5 C45 31.3 47.2 33.2 49 34.5 C50.8 35.8 53.2 36.6 54 37" stroke="#5aa43e" stroke-width="2.6" stroke-opacity="0.6"/><path d="M14 12 C15.3 12.4 19.3 13.4 22 14.5 C24.7 15.6 27.5 17 30 18.5 C32.5 20 34.8 21.7 37 23.5 C39.2 25.3 41 27.7 43 29.5 C45 31.3 47.2 33.2 49 34.5 C50.8 35.8 53.2 36.6 54 37" stroke="#7ccc54" stroke-width="1.2"/><path d="M10 4 C12 4.7 18 6.3 22 8 C26 9.7 30 11.8 34 14 C38 16.2 42 18.5 46 21 C50 23.5 56 27.7 58 29" stroke="#4a8636" stroke-width="0.9"/></g>
<rect x="0.5" y="0.5" width="63.6" height="46" fill="none" stroke="#081204" stroke-opacity="0.75" stroke-width="1"/>
</svg>
<rect x="88.8" y="286.1" width="24.8" height="7.8" fill="#fff"/>
<text x="91.8" y="293.2" font-size="8.4" fill="#333" textLength="20.2" lengthAdjust="spacingAndGlyphs" stroke="#333" stroke-width="0.2">0 min</text>
<rect x="51.2" y="290.7" width="7.6" height="1.7" fill="#d4dccb"/>
<svg x="116.7" y="246.9" width="64.3" height="47" overflow="hidden">
<rect width="65.3" height="48" fill="#0e2009"/>
<g filter="url(#b6)" fill="none" stroke-linecap="round"><path stroke="#1f4818" stroke-width="1.5" d="M26.9-1.3l0 .1M36.4-2.1l-.2 .2M25.7 6.3l.3 .1M25.8 11.3l0 .1M36.2 20l.1 .3M48.8 20.4l-.2 .2M32.9 24.1l0 .2M41.6 23.4l-.2 0M17.6 25.6l-.4 .1M20.1 26.2l.2 .3M24.2 25.6l-.2 .3M31 25.5l.2 .3M45.9 26l.1 .1M6.2 28l.3 0M35.9 29.2l-.1 0M40.9 30.8l.1 0M49.1 30.8l.2 .2M22.3 35.2l0 .2M27.8 37.7l.1 .2M8.2 42.6l-.1 .2M17.1 42.9l.1 .4M40.6 42.3l.2 .2M50.3 43.2l-.4 0M.8 45.1l.2 .1M12.5 46.3l.2 .3M28.1 45.8l-.4 .1M37.7 45.3l.2 .1M63.9 46.1l0 0M68 45.5l-.2 .1M-1.6 47.7l.2 .1"/><path stroke="#1f4818" stroke-width="1.8" d="M31.3-1.8l0 .2M23 6.5l0 .1M32.6 6.6l0 .3M-.7 8.6l-.2 0M7.6 10.2l-.1 .2M12.2 9.8l-.4 .2M18.6 9.8l-.1 .2M28.8 11.3l.2 .3M34.6 12.2l0 0M15.2 15.2l-.2 .1M26.4 15.1l-.1 .1M33.7 14.1l.1 .2M6.5 22.7l.1 .4M50.7 23.1l-.4 .1M44.1 25.3l-.1 .2M43.9 28.5l0 0M32.9 31l-.2 .1M16.4 34.2l.1 .4M26.1 34.6l-.2 0M40.8 35.3l0 .1M57.7 33.8l0 .1M-1.6 36.9l.4 0M48.8 37.8l.2 .4M50.9 39.6l.1 0M31.4 43.7l-.1 0M66.5 41.8l-.3 .2M42.5 44.7l-.1 .2M59.5 48.2l0 .1M62.8 47.4l.2 .3M65.6 47.4l0 0"/><path stroke="#1f4818" stroke-width="2" d="M34.5-.7l-.1 0M12.7 1.4l0 0M43.7 3.6l0 0M29.4 6.4l-.3 .3M47.2 7.1l-.3 0M30.4 9.8l0 .1M9.7 11.8l.2 .2M12.4 12.5l.2 .3M15.6 13l-.3 .3M19 12l.1 .1M32.1 13l-.1 .3M39 11.9l0 0M51.7 13.2l.1 0M52.3 15.3l.1 0M12 18.3l-.1 0M15.7 18l.4 .1M24.7 18.2l-.1 .2M28.3 17.5l.1 .1M-.3 23.7l.1 .3M48.8 24.2l0 .1M54.6 28.3l-.1 .1M14.8 31.5l.2 0M42.6 31.3l-.1 0M6.4 34.9l.3 .2M9.5 34.1l-.3 .2M5.6 37.2l.1 .1M18 38l0 0M-2.2 43.2l-.1 0M11.4 41.7l.3 .1M37.2 42.2l0 0M31.9 45.5l.1 .1M20.7 48.9l-.1 .2M26.8 48.9l-.1 .1"/><path stroke="#1f4818" stroke-width="2.2" d="M18.5 17l0 0M48.9 34.8l-.3 .3M26.3 39.9l.1 .3M52.1 45.8l.1 .2M30.9 47.8l.1 .3M49.4 48.7l.2 .2"/><path stroke="#28561e" stroke-width="2" d="M-2.2-1.1l.1 .2M23.4-2l0 0M32.5 1.7l0 0M35.9 .2l0 0M23.4 3l-.1 .1M29.5 2.8l.1 .4M20.3 8.7l.1 .4M43.5 8.7l.2 0M22.6 12.1l-.3 .3M-1.6 15l0 .2M29.4 15l0 .3M41.3 18.3l-.1 .2M8.5 20.8l.4 .1M10.3 21l.3 .1M21.1 20.5l-.2 .1M42.4 19.9l-.1 .1M54.8 22.4l.3 .1M-1.1 25.8l-.4 .1M11.9 25.8l-.4 .2M28.3 25.2l-.3 .2M13.2 29.1l.3 .3M57.2 29.2l0 .4M4.8 32.1l0 .1M36.2 33.4l-.1 .2M54.5 34.1l0 .1M-.6 39.1l-.2 .3M12.6 38.9l-.1 .3M48.6 40.7l.3 .3M66.8 39.5l.2 .3M42.3 43.4l.1 .2M45.1 45.1l.3 .3M5.3 48l0 .1M8.4 49l-.2 .3M15.3 47.7l-.2 .1"/><path stroke="#28561e" stroke-width="2.2" d="M5.3-1.6l-.2 .3M38.8 6.7l0 0M39.5 9.7l.1 .4M1.3 25.5l-.2 .1M32.4 28.3l0 0M55.1 30.8l0 .1M34.7 45.6l0 .3"/><path stroke="#28561e" stroke-width="1.8" d="M8.1-2.5l-.2 .2M42.1 .9l0 .3M19.9 3.2l.4 .1M14.6 8.6l0 .2M37.2 9.8l-.1 .1M41.9 13.2l.1 0M45.5 12.5l.1 0M1.3 15.3l.2 .1M9 15.2l-.1 0M37.6 15.7l0 0M39.6 15.9l-.2 0M10.2 17.2l0 .2M4.9 20.4l0 .3M14 21.5l-.4 .1M26.3 20.6l0 .2M12.2 24.2l.1 .1M29.2 23.8l.2 .2M49.4 26.3l.1 .1M55.3 26.6l-.1 .2M58.4 26.8l-.1 .1M27.2 32.2l-.1 .4M28.6 34.8l0 .1M.6 37.5l.1 .4M13.5 37.7l.1 0M23.5 36.7l-.1 0M29.7 39.8l0 .1M37.8 40l-.1 .1M41 39.4l.3 .1M45.4 39.3l.1 .1M53.8 40.6l-.3 0M6.9 45.6l-.4 .1M1.4 47.3l-.1 .4"/><path stroke="#28561e" stroke-width="1.5" d="M11.7-.9l.1 .3M18.1-1.4l0 0M5.6 1.7l-.1 .3M4.8 3.9l.2 .1M14.8 3.8l-.3 .1M45.9 4.3l-.1 .3M.7 7.2l-.4 .1M4.3 15l.1 .1M17.5 14.8l-.1 .1M47 14.8l.1 .1M3.9 16.9l-.1 0M38.7 17.9l-.2 .2M44.3 18.2l-.1 .2M-1.9 21.1l-.3 .1M46.8 21.5l-.2 .1M56.6 19.7l0 0M57.2 23.6l-.1 .1M35.9 27l-.1 .1M.5 28.4l-.2 .1M41.3 29.3l-.4 .3M1.8 32.3l.4 0M45.5 31.7l0 0M58.5 31.6l-.1 .3M8.4 37.7l0 .2M51.9 36.9l0 .1M4.2 40.4l-.2 .4M18.8 40l0 .3M19.3 46l.3 .2M22.5 44.7l-.1 .4M37 49.2l0 0M55.4 47.8l.1 .3"/><path stroke="#1a3e14" stroke-width="1.8" d="M.7-.8l.3 .2M42.6-2.4l-.1 .2M8.9 1.6l.1 .4M15.5 1l-.1 .2M-.7 3.1l.1 .1M44 6.7l0 0M1.9 10.2l.1 0M34 9.9l.4 0M49.4 10.1l0 .3M22.1 18l-.4 0M49 18.1l-.1 .4M54.2 18.8l-.2 0M23.5 19.9l.1 .3M39.8 21.2l-.2 0M52.8 20.8l0 .1M3.6 23.4l.2 0M15.9 23.9l0 0M25.9 23.2l.1 .1M18.3 28.4l0 0M37.3 28l.2 .3M36.6 31.4l-.3 .2M18.6 34.4l0 .2M38.8 35.1l-.1 .1M29.7 37.6l-.3 .1M62.8 36.9l.4 .1M16.2 40.5l-.1 .1M63.9 39.6l.3 .1M.6 43.1l.3 .1M62.7 42.4l.4 0M11.6 49.2l.1 0M43.1 47.5l0 0M52.8 48.8l0 .1"/><path stroke="#1a3e14" stroke-width="2" d="M20.5-2.1l-.1 .2M40.5-2.2l.3 .1M.3 .7l0 0M38.2 1.8l-.2 .2M36.2 3.3l.3 .3M5.4 5.6l.1 .2M23.8 9.4l0 0M46.7 9l-.1 .1M7 12l.1 .2M11.9 14l0 .1M24.3 15.8l.3 .1M43.3 14.3l0 .4M18.6 20l0 .1M22.3 23.5l0 0M37.4 22.7l.2 .1M45.8 23.7l-.1 .1M33.1 26.3l-.1 .1M2.5 27.9l-.1 0M28.8 28.9l0 .1M48.2 28l0 0M-.6 31.4l-.1 .4M8.5 31.8l0 0M11 31.9l-.2 0M18 31.7l.3 0M10.7 36.6l.1 0M37.4 37.4l-.2 .1M55.8 37.5l.1 .1M58.8 37.3l0 .1M9.7 40.4l.3 .2M58 39.6l.1 0M46.6 41.8l-.3 .1M57 43l-.1 .2M54.7 44.6l.1 .3M61.1 45.7l.2 .1M40.2 47.8l.1 .2M46.3 47.5l.1 0"/><path stroke="#1a3e14" stroke-width="2.2" d="M19.9 1.2l-.4 0M28.6 1.4l-.3 .1M31.9 18.8l.4 0M5.8 25.5l-.1 .1M15.2 26.2l.1 .3M31.3 33.4l0 .4M6.2 39.5l-.2 .1M33.1 43.3l-.1 .2"/><path stroke="#1a3e14" stroke-width="1.5" d="M21.6 2l-.2 .2M26.5 1.2l0 0M32.8 4.2l.3 .3M40.3 4.7l.1 .2M2.5 6.5l-.1 .4M19.5 7.3l.2 .2M35.9 6.9l.1 .3M26.5 9.1l.2 .3M46.9 11.4l.2 .2M21.1 15.9l-.1 0M34.2 17.6l.4 .2M9 23.6l-.2 .2M18.4 23.5l.2 .2M53.1 26.7l-.1 .1M10.2 29.5l.1 .3M16.2 29.5l0 .2M22.9 28.3l-.3 0M50.9 29.6l0 .2M21.8 31.8l0 .1M30.8 31.7l0 0M52 31.4l-.1 .1M62.7 32.4l.1 0M.5 35.3l-.1 0M3.5 34.1l-.2 .2M12.5 34.4l-.3 .2M60.4 34.7l.2 .2M63.5 34.2l.2 .3M20.8 37.7l.3 0M33.2 37.9l0 0M43.5 36.5l.1 .1M23.3 40.3l0 .1M60.2 39.6l-.1 .3M15.1 42l-.1 0M20.9 42.3l.1 .1M28.2 42.6l0 .1M53.1 43l.3 .2M59.8 42.5l-.2 .2M10 45.9l0 0M16.8 45.2l0 .1M57.8 46.2l.2 .2M17.9 47.8l-.3 .1M32.9 48.1l0 .4"/></g>
<g filter="url(#b6)" fill="none" stroke-linecap="round"><path stroke="#4fa23a" stroke-width="1.8" d="M34.6-2.3l0 .3M46.7 3.5l-.1 .1M46.4 19.2l.1 .4M32.6 27.8l.1 .1M47.8 27.4l-.2 .3M56.9 26.2l-.3 .2M59.3 43.3l.4 .2"/><path stroke="#4fa23a" stroke-width="2" d="M34.4 4.1l.1 .2M55.2 19.3l.1 .4M59.4 32.2l.3 .3"/><path stroke="#4fa23a" stroke-width="1.5" d="M36 6.3l-.2 .4M30.7 10.5l0 0M37.8 18.5l0 0M56.4 21.5l0 .2M60.8 29.9l.1 .3M31.8 40.7l-.2 .1M33.2 43.4l.3 0"/><path stroke="#4fa23a" stroke-width="1.2" d="M39.4 9.4l.3 .2M50.5 9l0 .1M36.6 10.8l-.1 .1M45.2 11.2l.3 .4M32.1 16.1l0 .1M29.5 31.9l-.5 .1M53.3 45.5l.1 0M63 47.4l-.2 .5"/><path stroke="#4fa23a" stroke-width="2.2" d="M54.3 36.5l-.3 .5M39.9 42.2l0 .1"/><path stroke="#62b848" stroke-width="1.5" d="M26.3-1l-.2 .1M35.4 .9l0 0M25.1 14.7l.1 .5M52.1 14.4l.4 .3M43.9 24.5l.1 .5M59.2 34.5l.1 .3"/><path stroke="#62b848" stroke-width="1.8" d="M29-1.7l-.1 .3M51.8 32l.3 0M42.8 44.9l-.3 .4"/><path stroke="#62b848" stroke-width="1.2" d="M30.4-.9l.3 .1M44 9.7l-.2 .1M33 11.9l.1 .4M32.7 37.3l-.2 .4"/><path stroke="#62b848" stroke-width="2" d="M24.7 2l-.5 0M41.5 22.5l.1 .4M29.3 24.4l-.1 .2M53.1 29.1l.2 .1"/><path stroke="#62b848" stroke-width="2.2" d="M39.9 13.7l.3 .4M42.9 18.6l-.2 0M49.2 19.1l-.1 .1M41.8 37.3l.1 .5"/><path stroke="#78cc58" stroke-width="1.2" d="M32.6 1.9l.2 .3M53.8 15.7l.1 .3M63.1 32l-.1 .1"/><path stroke="#78cc58" stroke-width="2" d="M44.5 1l-.4 .2M27.7 15.9l.1 0M45.1 27.1l.4 0M51.5 26l-.4 .2M47.4 29.6l-.2 .2M57 31.9l0 .4M51.4 42.1l0 .4M63.7 41.6l.5 .2"/><path stroke="#78cc58" stroke-width="1.8" d="M39.4 4.6l.2 0M44 13.4l.1 .2M49 24.9l.1 .2M61.4 44.8l0 .1M47.3 47.4l-.1 .2"/><path stroke="#78cc58" stroke-width="1.5" d="M30.7 8.9l.2 .2M53.7 31.9l0 .1M44.3 35.9l.3 0M53.1 34.5l.1 .1M36.8 38.1l.2 .3M57.5 37.3l.4 .1M40.7 40l.1 .3M47.4 42.1l0 .1M60.1 48.2l.1 0"/><path stroke="#78cc58" stroke-width="2.2" d="M32.1 13.4l.1 .1"/><path stroke="#3c8a2e" stroke-width="1.5" d="M23.2-1.7l0 .1M27.7 5.4l0 0M30.9 7l-.3 0M46 6.9l-.4 .2M38.1 12l.1 .5M46.5 13.3l-.1 .1M35.6 16.2l.4 .3M48.3 16.4l-.3 .2M44.3 37.2l0 .3M44.5 40.4l-.2 0M57.3 43.4l0 .1"/><path stroke="#3c8a2e" stroke-width="2" d="M41.8 6.2l-.4 .1M42.4 11l0 0M50.1 12.1l-.1 .1M46 23.7l0 .2M39.6 27.9l.1 0M56.4 29.6l-.4 .1M24.6 31.8l-.5 .2M63.7 35.1l.3 .2M59.2 36.7l.5 .1M50.4 45.8l0 .2M56.5 48.4l.1 .2"/><path stroke="#3c8a2e" stroke-width="1.8" d="M46.4 9.6l.1 .2M49.6 13.4l.4 .1M53.6 19.6l-.3 0M30.9 26.7l-.1 0M53.8 27.6l.2 .3M63.9 36.8l-.3 .1M49.6 39l0 .2M47.1 46l.3 .1"/><path stroke="#3c8a2e" stroke-width="1.2" d="M44.5 22.6l.1 .1M62 40l.4 0M30.8 45.3l.4 0"/><path stroke="#3c8a2e" stroke-width="2.2" d="M50 28.9l-.4 0"/></g>
<path d="M22 -1 L47 -1 L66 32 L66 48 L44 48 Z" fill="#3f8e2a" fill-opacity="0.35" filter="url(#b12)"/>
<path d="M34 -1 L47 -1 L62 26 L56 30 Z" fill="#5cb23c" fill-opacity="0.35" filter="url(#b12)"/>
<path d="M47 -1 L66 -1 L66 33 Z" fill="#070f05" filter="url(#b6)"/>
<rect x="0.5" y="0.5" width="63.3" height="46" fill="none" stroke="#081204" stroke-opacity="0.75" stroke-width="1"/>
</svg>
<rect x="156.8" y="286.3" width="24.2" height="7.6" fill="#fff"/>
<text x="179" y="293.6" font-size="8.4" fill="#333" text-anchor="end" textLength="18.6" lengthAdjust="spacingAndGlyphs" stroke="#333" stroke-width="0.2">5 min</text>
<svg x="49" y="329.8" width="64.6" height="47" overflow="hidden">
<rect width="65.6" height="48" fill="#223b11"/>
<g filter="url(#b6)" fill="none" stroke-linecap="round"><path stroke="#2c4a1b" stroke-width="1.5" d="M2.4 39l0 0M42.7 5.2l0 0"/><path stroke="#2c4a1b" stroke-width="1.2" d="M0 21.3l0 0"/><path stroke="#2c4a1b" stroke-width="1" d="M14.1 40l0 0"/></g>
<rect x="0.5" y="0.5" width="63.6" height="46" fill="none" stroke="#081204" stroke-opacity="0.75" stroke-width="1"/>
</svg>
<rect x="88.8" y="369" width="24.8" height="7.8" fill="#fff"/>
<text x="91.8" y="376.1" font-size="8.4" fill="#333" textLength="20.2" lengthAdjust="spacingAndGlyphs" stroke="#333" stroke-width="0.2">0 min</text>
<rect x="51.2" y="373.6" width="7.6" height="1.7" fill="#d4dccb"/>
<svg x="116.7" y="329.8" width="64.3" height="47" overflow="hidden">
<rect width="65.3" height="48" fill="#081e05"/>
<g filter="url(#b5)" fill="none" stroke-linecap="round"><path stroke="#1f5416" stroke-width="2" d="M-1.6-1.6l.3 .2M1.8-2.1l0 0M7.3-1.6l.3 .6M13-1.6l-.1 .3M15-2l-.1 .2M18.8-1l-.8 .4M19.9-2.4l-.1 .4M23.2-1.9l-.3 .5M26.2-2l.9 .2M29.2-1.3l.2 .8M31.3-1.5l.1 .7M33.7-1l.3 .3M38-1.3l-.4 .5M39.2-1l0 0M43.1-1l-.4 .7M45.6-1.1l.5 .8M46.9-1.6l.9 .1M50.5-1.4l0 0M53.4-1.9l-.1 .1M56.3-1.1l.2 .8M59.3-.7l0 0M61.7-2.1l-.2 .2M65.1-1.2l-.8 .4M4.7 .2l.7 .3M7.7 .9l0 .2M11.5 1.6l0 0M13.3 .7l-.1 .1M19.5 .3l.7 .1M22.6 1.3l-.7 .4M24.2 1.2l0 .2M27.8 .2l.5 .2M33.5 .4l-.2 .3M35.1 0l.2 .6M37.8 1.6l-.1 0M41.8 .2l-.2 .1M44.3 .6l-.7 .3M46.8 1l-.7 .5M49.6 .9l-.5 .2M53 1.6l-.1 0M54.8 1.5l0 .1M57.1 1.3l.4 .7M60.7 .6l.5 .5M64.2 1.2l-.4 .2M-2.4 3.7l.4 .3M1.7 3.3l0 .8M4.5 3.2l-.9 0M7.9 3.9l-.7 .1M12.9 3.8l-.3 .6M14.8 3.2l.4 .2M17.1 2.7l.2 .3M21.2 3.5l.1 .2M23.6 3.9l-.1 .1M26.8 3.9l.1 .3M29.7 3l-.9 .1M32.2 3.7l0 .1M34.9 3.5l-.4 .5M36.3 2.6l0 .1M40.6 2.6l-.9 .2M43.1 2.9l-.3 .1M44.4 4l.5 .2M47.4 2.7l-.1 .6M50.6 3.7l.3 0M52.9 2.8l0 0M55.6 3.2l.6 .6M59.4 4l.9 .3M61.2 2.4l-.3 .6M65 2.5l-.4 .2M2.4 6.5l-.4 0M5.8 6.2l-.6 .1M7.9 6.6l-.1 0M14 6.1l-.1 .1M16.5 6.2l.3 .4M22.2 6.5l-.4 .1M29.7 5.5l.1 .5M33.4 6.2l-.1 .6M35.3 5.3l.3 .4M39.1 5l-.6 .6M40 5l.8 .2M47.7 5.3l-.8 .4M48.8 6l.1 .4M51.6 6.2l-.2 .7M55.1 5.2l.8 .3M60.6 5.3l1 .1M63.1 6l.7 .4M65.2 5.4l.6 .2M-1.9 8l.2 .1M12.6 8.8l.3 .3M14.4 7.2l.4 .9M18 7.4l-.1 .1M20.6 8.6l.5 .2M22.6 7.8l-.1 .3M26.6 7.5l.5 .6M27.7 7.9l.7 .1M31.6 8.4l.1 .3M34.4 7l-.2 .8M37.1 7.9l.5 .8M39.5 7.8l.7 .4M41.9 7.7l.2 .5M44.7 8.6l0 .4M48.7 7.7l-.3 .1M51.1 7.6l.1 .5M53.7 7.7l.4 .5M57.1 8.3l-.7 .2M59.2 8.7l-.9 .3M61.7 9l.1 0M64.4 7.2l.3 .3M.4 9.6l-.3 .5M3.4 10.1l0 0M5.5 9.9l0 .2M7.8 9.8l.9 .2M10 10l.7 .1M13.9 10.8l.5 .1M16 10.6l0 .1M19.1 10l-.2 .1M21.7 10.4l-.6 .5M23.8 9.7l.4 .9M28.1 10.5l0 .1M33 10.8l.6 .6M35.9 10.1l-.3 .8M38.5 10.7l.1 .7M41.3 9.6l0 1M43.8 10.5l.2 .2M46.7 10.2l0 0M50.1 10.7l0 0M51.3 9.6l.4 .5M55.3 11.3l.4 .2M58.5 10.1l-.1 .4M61.2 10l.3 .1M63.7 9.8l.2 0M65.3 11.1l.4 .3M-1.1 12.4l-.6 .1M1 13.3l-.2 .2M3.4 12.2l.8 .3M6.4 13l.7 .1M9.6 13l.7 .5M12 12.3l0 0M15.4 12.4l-.1 .9M18.2 12.4l0 0M21.1 12.6l.1 .4M24 12.4l0 .4M26.9 13.3l-.2 .8M29.5 12.8l.1 .3M32.5 12l-.6 .3M43.2 13.3l.3 .4M45.5 12.7l-.4 .2M47.6 13.1l.2 .3M50.3 13l.3 .5M52.6 11.9l.5 .7M56.4 12.8l-.4 .8M59.3 13.4l-.5 .4M60.9 13.4l.4 .3M64.3 12.7l-.9 .2M-.5 15l.9 .2M3 15.6l-.7 .4M5.5 14.8l.2 .4M7.9 15.8l.2 .3M10.5 14.5l.2 .3M13.6 14.3l.2 .5M16.7 15.2l.1 0M18.9 15.5l0 0M22.1 14.4l-.2 .4M24.3 15.6l-.6 .6M32.6 14.9l.1 .9M37.6 15.8l.3 .4M40.5 15.7l.4 .7M43.4 15l-.4 .1M47.3 15.4l.2 .3M52.9 15.1l0 0M55.8 15.4l-.3 .6M57.8 15.9l-.7 .1M60.3 15.1l-.3 0M63.5 15.1l-.3 .7M66.8 15.9l-.3 .2M-.9 17.9l-.2 .2M1.9 18l-.1 0M4.2 17.3l.3 0M6.8 17.6l.1 0M10.3 17.1l.2 .5M11.8 18.1l.6 .3M15.9 17.8l.1 .3M18.6 16.9l-.5 .3M23.8 18.1l0 .2M26 17.8l.1 .4M28.5 17l.4 .4M31.6 18l-.3 .2M35.2 17l-.5 .5M37 17l-.5 .4M40 16.7l-.3 .5M42 17.3l-.3 .3M45.7 17.4l.4 .4M49 17l0 0M50.4 18.2l.1 .6M54.4 17l0 0M56.1 17.9l-.1 0M59.1 17.8l.3 .2M62.4 18l.1 .2M-.8 20l.3 .6M3.1 19.4l.4 .4M4.8 20.4l0 .1M7.6 20.4l-.2 .4M10.5 19.5l.5 .1M13.4 20.7l.1 .1M16.9 20.6l0 0M19.1 19.7l0 0M21.7 19.3l-.3 .7M25.2 19.3l-.6 .6M28.3 19.5l-.2 0M32.5 20.2l0 0M35.1 20.6l.4 .4M38.9 20.5l-.3 .1M41.5 20.3l.3 .5M43.7 19.4l.5 .3M46.7 19.7l.1 .2M49.5 20.2l-.4 .3M52.7 20.2l.1 .5M55.8 19.6l-.1 .8M60.7 20.2l-.8 .5M62.3 19.9l.5 .4M-.9 23l.6 0M6.5 22.5l.4 .2M10.8 22.2l-.7 .2M12.7 22.4l.1 .7M14.4 21.8l.2 .4M18.3 21.8l0 0M29.5 22.4l-.5 .8M32.3 23.2l.2 0M37.9 22.6l0 .1M42.6 21.8l.5 .4M45.9 22l-.9 .1M48.5 22.7l.8 .4M49.7 21.6l.9 .2M54 21.7l.1 0M57.3 21.5l-.3 .5M59.3 23l-.3 .2M1 25.1l-.7 .1M3.1 24.8l-.3 .3M4.8 24.1l-.1 .3M7.6 24.2l.6 .3M11.9 25.1l-.5 .7M14.5 24.1l-.6 .6M19.5 25.2l0 .8M22.7 24.7l.1 .1M25.4 24.8l.1 .1M26.4 24.2l.6 .7M30.7 24.7l.5 .2M32.9 24.9l.6 .6M35.3 24.2l.1 0M38.4 24.7l0 0M41.8 24.9l.1 .1M43.9 24.1l0 0M46 24.4l.1 0M50.1 24.1l-.9 0M54.7 24.8l-.3 .2M58.5 24.4l-.2 .2M59.8 24.5l-.3 .2M62.7 24.8l-.2 .2M65.2 24.7l.3 .4M-2.1 27.5l-.2 .4M2 27.5l-.9 0M4.6 27.6l-.5 .8M7 26.4l.1 .6M9.2 26.7l.1 .8M11.8 27.5l.2 0M16 26.4l-.6 .8M16.8 27l.9 .2M21.1 27.1l-.9 .3M23.8 26.2l.3 .9M29.7 26.9l0 0M32.4 27.4l-.7 .7M34 26.8l.2 .1M37.7 26.3l-.9 .4M40.2 27.7l-.4 .3M42.7 26.1l.7 .5M45.6 26.7l-.1 .1M47.7 26.8l-.4 .8M50.4 27.1l-.2 .7M53.3 26.9l.3 .8M57.1 26.4l.2 .3M58.3 26.7l.7 .1M64.2 27.4l0 .2M3 29.6l.2 .5M6.4 30l-.6 .4M9.1 29.1l0 0M11.4 29.2l.3 .3M13.3 28.8l.1 .3M16.4 29l.1 .3M19.8 29.1l-.2 .3M21.5 29l0 0M25.2 29.7l-.2 0M28.1 29.1l-.8 .3M30.7 29.6l.1 0M34 29.6l-.9 .2M36.2 29.6l.1 .3M38.6 28.8l-.8 .3M40.9 30.2l0 0M44.5 30l-.3 .1M46.7 29.7l-.8 .3M49.3 29.2l.3 0M51.5 29.1l.5 .1M54.4 29l.3 .9M57.6 29.2l.3 .5M60.6 29.2l-.2 .7M63.6 29.8l-.6 .3M65.8 30.1l-.3 .2M-1.8 32.6l0 .1M1.2 31l-.5 .5M3.6 31.5l0 1M7.1 31.6l-.3 .1M10.5 31.9l-.2 .4M12.7 32l.2 .5M15.5 31.8l-.6 .8M17.7 30.9l.3 .8M21.2 32.5l.1 .1M24 31.3l-.5 .2M25.7 31.1l.2 0M28.9 31.7l.4 .4M34.1 32.3l-.1 .1M42 31.1l.9 0M53.3 31.9l-.7 .7M56 32.1l.9 .1M59.5 31.7l.4 .1M61.3 31.4l.1 .2M-.2 33.8l-.1 .2M3 34.8l-.4 .8M5.8 33.5l.1 .5M8.9 35l-.1 0M11.9 34.2l-.9 .3M14 34.3l-.4 .7M16.9 34.8l-.7 .1M18.4 35.1l.2 .1M22.4 34.7l.2 .1M25.1 34.9l-.5 .3M27.4 34l.2 .7M30.3 34.4l.1 .2M33.7 35l.1 .3M35 33.9l.2 .4M39.1 34.7l.1 .9M41.5 33.7l-.2 .4M44.6 33.3l.4 .7M46.2 34.1l-.5 .8M51.6 34.6l-.3 .2M57.7 33.9l-.3 .1M59.7 34.5l0 0M63.2 34.2l-.8 .2M65.3 34.8l-.2 .1M-.7 37.3l.1 .4M.9 36.7l.8 .5M3.8 36.4l-.2 .1M6.4 37.4l-.5 0M9.5 36.4l-.7 .1M12.2 36.7l.4 .7M14.8 36.7l-.1 .2M17.2 36.1l0 .6M21.4 36.2l-.5 .2M23.7 36.3l-.6 .6M25.8 35.9l-.2 .4M29.9 36.1l-.4 .6M32.2 36.7l-.3 .2M34.9 37.1l0 .7M37.6 35.9l-.3 .3M39.8 36.5l-.4 .2M42.6 37.2l-.9 .4M45.9 36.8l-.2 .1M48.9 36.9l.1 .1M50.3 37l.1 .3M52.9 37.2l0 0M56.1 36.4l0 0M59.4 37l.4 .3M61.9 36.2l-.2 .1M.5 39.6l-.2 .6M3.2 39.6l.5 .6M4.9 39.2l.2 .7M7.6 39.5l1 0M11.2 38.6l-.3 .4M13.7 39l.1 .5M16.2 38.3l-.5 .4M18.4 38.8l0 .2M25.1 39.5l-.4 .7M27.2 38.2l0 1M30.4 38.1l-.2 .9M33.4 38.6l.7 0M37.9 38.4l.1 .5M44.8 38.6l-.4 .2M46.5 38.8l-.6 .4M49.4 38.8l-.1 .5M51.7 39.2l.2 .2M55.1 39.5l-.2 .2M57.5 38.9l-.7 .7M59.7 38.3l0 .1M62.8 39.5l.1 .1M65.2 38.9l.3 .1M-.7 41.2l-.3 0M4.8 41.3l-.3 .4M6.1 41.6l.1 .4M12.4 42l0 .4M15.4 41.2l.3 .1M17.8 41.7l.8 .2M21 40.9l.1 .2M25.6 41.6l.6 .2M29.1 40.4l0 1M31.5 41.9l-.5 .2M33.7 40.8l.2 .1M40.1 41.7l-.4 .7M41.7 41.4l.2 .7M48.6 41.5l0 .2M51.4 40.9l.6 .1M53.1 40.8l-.1 .3M57.1 40.8l-.4 .1M59.4 41.7l-.2 .2M61.3 42l-.4 .4M65.6 42.1l-.8 .4M-.1 42.9l.3 .6M2.5 43.5l0 .1M8.6 43.9l.5 .5M11 43.6l.2 .1M12.9 43.4l.1 0M17 43l-.2 .4M19.1 43.1l-.5 .1M23 44.5l-.6 .2M25.2 44.2l0 0M29.7 43l.2 .9M32.1 43.1l.1 .2M36.3 43l-.6 .3M38.5 44.2l0 .1M40.8 44.2l.2 .2M43.1 43.2l.7 .1M50 43.3l-.3 .4M58 43.2l.5 .7M59.8 42.8l0 .7M63.2 43l.5 .6M66.3 43.1l0 .3M-1.7 46.8l0 0M1.7 45.4l-.2 .2M4.5 46.4l-.4 .8M7.1 46.5l-.9 0M9.2 46.1l0 .2M12.6 45.6l-.2 .2M14.8 46.8l0 0M17.2 45.8l.9 .2M20.3 46.8l0 .1M23 45.5l0 0M26.7 46.5l.2 .3M28.5 46.2l-.2 .2M32.5 45.7l0 0M33.8 46.5l.5 .3M37.8 46.2l-.2 .9M39 45.3l.5 .4M42 45.9l.2 .6M48.1 46.1l.6 .5M51.3 46.5l-.2 .5M56.3 46.4l0 0M62.8 46.5l-.9 .1M63.7 45.9l.4 .7M.6 48.4l.2 .6M2.7 48.3l.8 .3M7.7 48.9l.1 .1M12.9 48.1l.8 .5M16.2 47.7l.4 .4M19.3 48.9l.2 .1M21 49.4l.3 .2M30.5 48.1l0 .8M32.9 49.1l-.5 .1M36.4 48.6l-.1 .9M39.1 49.3l0 0M41.4 48.9l.1 .1M43.4 47.8l.2 .7M46.7 48.7l.1 .9M48.8 48.1l.6 .1M51.9 48.2l.7 .3M54 48.6l.5 .3M58.2 47.9l-.5 .1M61 49.1l.3 .5"/><path stroke="#8ad454" stroke-width="1.5" d="M7.3-1.6l.3 .6M18.8-1l-.8 .4M19.9-2.4l-.1 .4M65.1-1.2l-.8 .4M4.7 .2l.7 .3M22.6 1.3l-.7 .4M27.8 .2l.5 .2M33.5 .4l-.2 .3M40.6 2.6l-.9 .2M31.6 8.4l.1 .3M37.1 7.9l.5 .8M51.1 7.6l.1 .5M35.9 10.1l-.3 .8M46.7 10.2l0 0M1 13.3l-.2 .2M60.9 13.4l.4 .3M52.9 15.1l0 0M1.9 18l-.1 0M50.4 18.2l.1 .6M62.4 18l.1 .2M43.7 19.4l.5 .3M54 21.7l.1 0M1 25.1l-.7 .1M54.7 24.8l-.3 .2M37.7 26.3l-.9 .4M58.3 26.7l.7 .1M54.4 29l.3 .9M11.9 34.2l-.9 .3M12.2 36.7l.4 .7M25.8 35.9l-.2 .4M61.9 36.2l-.2 .1M55.1 39.5l-.2 .2M59.7 38.3l0 .1M14.8 46.8l0 0M39 45.3l.5 .4M46.7 48.7l.1 .9M51.9 48.2l.7 .3"/><path stroke="#8ad454" stroke-width="1" d="M15-2l-.1 .2M31.3-1.5l.1 .7M53.4-1.9l-.1 .1M44.3 .6l-.7 .3M17.1 2.7l.2 .3M34.9 3.5l-.4 .5M20.6 8.6l.5 .2M59.2 8.7l-.9 .3M28.1 10.5l0 .1M63.7 9.8l.2 0M50.3 13l.3 .5M64.3 12.7l-.9 .2M-.5 15l.9 .2M32.6 14.9l.1 .9M47.3 15.4l.2 .3M4.2 17.3l.3 0M10.3 17.1l.2 .5M13.4 20.7l.1 .1M19.1 19.7l0 0M12.7 22.4l.1 .7M59.3 23l-.3 .2M4.6 27.6l-.5 .8M7 26.4l.1 .6M32.4 27.4l-.7 .7M42.7 26.1l.7 .5M3 29.6l.2 .5M21.5 29l0 0M57.6 29.2l.3 .5M63.6 29.8l-.6 .3M-1.8 32.6l0 .1M1.2 31l-.5 .5M17.7 30.9l.3 .8M34.1 32.3l-.1 .1M51.6 34.6l-.3 .2M59.7 34.5l0 0M6.4 37.4l-.5 0M59.4 37l.4 .3M16.2 38.3l-.5 .4M15.4 41.2l.3 .1M33.7 40.8l.2 .1M23 44.5l-.6 .2M38.5 44.2l0 .1M43.1 43.2l.7 .1M62.8 46.5l-.9 .1M.6 48.4l.2 .6M61 49.1l.3 .5"/><path stroke="#8ad454" stroke-width="1.2" d="M29.2-1.3l.2 .8M43.1-1l-.4 .7M41.8 .2l-.2 .1M57.1 1.3l.4 .7M60.7 .6l.5 .5M1.7 3.3l0 .8M12.9 3.8l-.3 .6M43.1 2.9l-.3 .1M2.4 6.5l-.4 0M14.4 7.2l.4 .9M26.6 7.5l.5 .6M44.7 8.6l0 .4M48.7 7.7l-.3 .1M57.1 8.3l-.7 .2M16 10.6l0 .1M38.5 10.7l.1 .7M41.3 9.6l0 1M43.8 10.5l.2 .2M51.3 9.6l.4 .5M-1.1 12.4l-.6 .1M21.1 12.6l.1 .4M26.9 13.3l-.2 .8M29.5 12.8l.1 .3M55.8 15.4l-.3 .6M63.5 15.1l-.3 .7M11.8 18.1l.6 .3M18.6 16.9l-.5 .3M26 17.8l.1 .4M37 17l-.5 .4M42 17.3l-.3 .3M49 17l0 0M16.9 20.6l0 0M52.7 20.2l.1 .5M62.3 19.9l.5 .4M-.9 23l.6 0M49.7 21.6l.9 .2M3.1 24.8l-.3 .3M14.5 24.1l-.6 .6M22.7 24.7l.1 .1M26.4 24.2l.6 .7M59.8 24.5l-.3 .2M65.2 24.7l.3 .4M16 26.4l-.6 .8M16.8 27l.9 .2M45.6 26.7l-.1 .1M47.7 26.8l-.4 .8M57.1 26.4l.2 .3M9.1 29.1l0 0M16.4 29l.1 .3M25.2 29.7l-.2 0M38.6 28.8l-.8 .3M49.3 29.2l.3 0M7.1 31.6l-.3 .1M12.7 32l.2 .5M15.5 31.8l-.6 .8M24 31.3l-.5 .2M-.2 33.8l-.1 .2M14 34.3l-.4 .7M27.4 34l.2 .7M35 33.9l.2 .4M41.5 33.7l-.2 .4M9.5 36.4l-.7 .1M29.9 36.1l-.4 .6M34.9 37.1l0 .7M45.9 36.8l-.2 .1M52.9 37.2l0 0M4.9 39.2l.2 .7M11.2 38.6l-.3 .4M30.4 38.1l-.2 .9M33.4 38.6l.7 0M51.7 39.2l.2 .2M17.8 41.7l.8 .2M25.6 41.6l.6 .2M41.7 41.4l.2 .7M53.1 40.8l-.1 .3M59.4 41.7l-.2 .2M25.2 44.2l0 0M33.8 46.5l.5 .3M37.8 46.2l-.2 .9M19.3 48.9l.2 .1M30.5 48.1l0 .8M43.4 47.8l.2 .7M58.2 47.9l-.5 .1"/><path stroke="#a2e06c" stroke-width="1.5" d="M23.2-1.9l-.3 .5M19.5 .3l.7 .1M37.8 1.6l-.1 0M49.6 .9l-.5 .2M7.9 3.9l-.7 .1M22.2 6.5l-.4 .1M29.7 5.5l.1 .5M13.9 10.8l.5 .1M19.1 10l-.2 .1M23.8 9.7l.4 .9M50.1 10.7l0 0M58.5 10.1l-.1 .4M61.2 10l.3 .1M3 15.6l-.7 .4M10.5 14.5l.2 .3M57.8 15.9l-.7 .1M45.7 17.4l.4 .4M56.1 17.9l-.1 0M55.8 19.6l-.1 .8M18.3 21.8l0 0M4.8 24.1l-.1 .3M30.7 24.7l.5 .2M40.2 27.7l-.4 .3M6.4 30l-.6 .4M40.9 30.2l0 0M60.6 29.2l-.2 .7M28.9 31.7l.4 .4M53.3 31.9l-.7 .7M5.8 33.5l.1 .5M25.1 34.9l-.5 .3M39.1 34.7l.1 .9M42.6 37.2l-.9 .4M48.9 36.9l.1 .1M25.1 39.5l-.4 .7M44.8 38.6l-.4 .2M21 40.9l.1 .2M61.3 42l-.4 .4M2.5 43.5l0 .1M8.6 43.9l.5 .5M63.2 43l.5 .6M32.5 45.7l0 0M48.1 46.1l.6 .5M21 49.4l.3 .2M39.1 49.3l0 0M41.4 48.9l.1 .1"/><path stroke="#a2e06c" stroke-width="1.2" d="M33.7-1l.3 .3M38-1.3l-.4 .5M46.9-1.6l.9 .1M50.5-1.4l0 0M59.3-.7l0 0M61.7-2.1l-.2 .2M7.7 .9l0 .2M-2.4 3.7l.4 .3M4.5 3.2l-.9 0M55.6 3.2l.6 .6M59.4 4l.9 .3M5.8 6.2l-.6 .1M33.4 6.2l-.1 .6M40 5l.8 .2M47.7 5.3l-.8 .4M65.2 5.4l.6 .2M18 7.4l-.1 .1M53.7 7.7l.4 .5M64.4 7.2l.3 .3M.4 9.6l-.3 .5M3.4 10.1l0 0M5.5 9.9l0 .2M10 10l.7 .1M55.3 11.3l.4 .2M3.4 12.2l.8 .3M12 12.3l0 0M18.2 12.4l0 0M24 12.4l0 .4M43.2 13.3l.3 .4M52.6 11.9l.5 .7M56.4 12.8l-.4 .8M59.3 13.4l-.5 .4M5.5 14.8l.2 .4M7.9 15.8l.2 .3M22.1 14.4l-.2 .4M24.3 15.6l-.6 .6M40.5 15.7l.4 .7M60.3 15.1l-.3 0M31.6 18l-.3 .2M40 16.7l-.3 .5M7.6 20.4l-.2 .4M28.3 19.5l-.2 0M60.7 20.2l-.8 .5M10.8 22.2l-.7 .2M37.9 22.6l0 .1M48.5 22.7l.8 .4M11.9 25.1l-.5 .7M35.3 24.2l.1 0M46 24.4l.1 0M50.1 24.1l-.9 0M34 26.8l.2 .1M28.1 29.1l-.8 .3M30.7 29.6l.1 0M34 29.6l-.9 .2M36.2 29.6l.1 .3M46.7 29.7l-.8 .3M65.8 30.1l-.3 .2M25.7 31.1l.2 0M18.4 35.1l.2 .1M.9 36.7l.8 .5M17.2 36.1l0 .6M.5 39.6l-.2 .6M7.6 39.5l1 0M65.2 38.9l.3 .1M40.1 41.7l-.4 .7M51.4 40.9l.6 .1M-.1 42.9l.3 .6M19.1 43.1l-.5 .1M32.1 43.1l.1 .2M40.8 44.2l.2 .2M50 43.3l-.3 .4M66.3 43.1l0 .3M-1.7 46.8l0 0M42 45.9l.2 .6M63.7 45.9l.4 .7M16.2 47.7l.4 .4"/><path stroke="#a2e06c" stroke-width="1" d="M54.8 1.5l0 .1M14.8 3.2l.4 .2M26.8 3.9l.1 .3M29.7 3l-.9 .1M36.3 2.6l0 .1M50.6 3.7l.3 0M52.9 2.8l0 0M61.2 2.4l-.3 .6M7.9 6.6l-.1 0M22.6 7.8l-.1 .3M41.9 7.7l.2 .5M9.6 13l.7 .5M15.4 12.4l-.1 .9M18.9 15.5l0 0M66.8 15.9l-.3 .2M15.9 17.8l.1 .3M35.2 17l-.5 .5M59.1 17.8l.3 .2M3.1 19.4l.4 .4M21.7 19.3l-.3 .7M7.6 24.2l.6 .3M41.8 24.9l.1 .1M43.9 24.1l0 0M62.7 24.8l-.2 .2M2 27.5l-.9 0M11.8 27.5l.2 0M13.3 28.8l.1 .3M21.2 32.5l.1 .1M16.9 34.8l-.7 .1M33.7 35l.1 .3M14.8 36.7l-.1 .2M50.3 37l.1 .3M18.4 38.8l0 .2M27.2 38.2l0 1M49.4 38.8l-.1 .5M57.5 38.9l-.7 .7M12.4 42l0 .4M29.7 43l.2 .9M36.3 43l-.6 .3M59.8 42.8l0 .7M4.5 46.4l-.4 .8M12.6 45.6l-.2 .2M17.2 45.8l.9 .2M20.3 46.8l0 .1M26.7 46.5l.2 .3M56.3 46.4l0 0M12.9 48.1l.8 .5"/><path stroke="#74c444" stroke-width="1.2" d="M-1.6-1.6l.3 .2M39.2-1l0 0M56.3-1.1l.2 .8M53 1.6l-.1 0M64.2 1.2l-.4 .2M21.2 3.5l.1 .2M32.2 3.7l0 .1M65 2.5l-.4 .2M16.5 6.2l.3 .4M51.6 6.2l-.2 .7M55.1 5.2l.8 .3M63.1 6l.7 .4M-1.9 8l.2 .1M12.6 8.8l.3 .3M27.7 7.9l.7 .1M34.4 7l-.2 .8M39.5 7.8l.7 .4M7.8 9.8l.9 .2M33 10.8l.6 .6M6.4 13l.7 .1M16.7 15.2l.1 0M43.4 15l-.4 .1M6.8 17.6l.1 0M23.8 18.1l0 .2M54.4 17l0 0M-.8 20l.3 .6M4.8 20.4l0 .1M25.2 19.3l-.6 .6M32.5 20.2l0 0M41.5 20.3l.3 .5M49.5 20.2l-.4 .3M14.4 21.8l.2 .4M29.5 22.4l-.5 .8M32.3 23.2l.2 0M45.9 22l-.9 .1M57.3 21.5l-.3 .5M19.5 25.2l0 .8M25.4 24.8l.1 .1M32.9 24.9l.6 .6M58.5 24.4l-.2 .2M9.2 26.7l.1 .8M29.7 26.9l0 0M53.3 26.9l.3 .8M11.4 29.2l.3 .3M19.8 29.1l-.2 .3M10.5 31.9l-.2 .4M56 32.1l.9 .1M59.5 31.7l.4 .1M61.3 31.4l.1 .2M3 34.8l-.4 .8M30.3 34.4l.1 .2M44.6 33.3l.4 .7M65.3 34.8l-.2 .1M3.8 36.4l-.2 .1M21.4 36.2l-.5 .2M23.7 36.3l-.6 .6M56.1 36.4l0 0M13.7 39l.1 .5M37.9 38.4l.1 .5M6.1 41.6l.1 .4M29.1 40.4l0 1M31.5 41.9l-.5 .2M48.6 41.5l0 .2M57.1 40.8l-.4 .1M65.6 42.1l-.8 .4M11 43.6l.2 .1M58 43.2l.5 .7M7.1 46.5l-.9 0M23 45.5l0 0M28.5 46.2l-.2 .2M51.3 46.5l-.2 .5"/><path stroke="#74c444" stroke-width="1" d="M1.8-2.1l0 0M26.2-2l.9 .2M45.6-1.1l.5 .8M24.2 1.2l0 .2M46.8 1l-.7 .5M44.4 4l.5 .2M14 6.1l-.1 .1M39.1 5l-.6 .6M61.7 9l.1 0M65.3 11.1l.4 .3M32.5 12l-.6 .3M45.5 12.7l-.4 .2M47.6 13.1l.2 .3M13.6 14.3l.2 .5M37.6 15.8l.3 .4M35.1 20.6l.4 .4M46.7 19.7l.1 .2M6.5 22.5l.4 .2M42.6 21.8l.5 .4M38.4 24.7l0 0M-2.1 27.5l-.2 .4M21.1 27.1l-.9 .3M64.2 27.4l0 .2M51.5 29.1l.5 .1M3.6 31.5l0 1M42 31.1l.9 0M-.7 37.3l.1 .4M39.8 36.5l-.4 .2M3.2 39.6l.5 .6M46.5 38.8l-.6 .4M62.8 39.5l.1 .1M17 43l-.2 .4M54 48.6l.5 .3"/><path stroke="#74c444" stroke-width="1.5" d="M13-1.6l-.1 .3M11.5 1.6l0 0M13.3 .7l-.1 .1M35.1 0l.2 .6M23.6 3.9l-.1 .1M47.4 2.7l-.1 .6M35.3 5.3l.3 .4M48.8 6l.1 .4M60.6 5.3l1 .1M21.7 10.4l-.6 .5M-.9 17.9l-.2 .2M28.5 17l.4 .4M10.5 19.5l.5 .1M38.9 20.5l-.3 .1M23.8 26.2l.3 .9M50.4 27.1l-.2 .7M44.5 30l-.3 .1M8.9 35l-.1 0M22.4 34.7l.2 .1M46.2 34.1l-.5 .8M57.7 33.9l-.3 .1M63.2 34.2l-.8 .2M32.2 36.7l-.3 .2M37.6 35.9l-.3 .3M-.7 41.2l-.3 0M4.8 41.3l-.3 .4M12.9 43.4l.1 0M1.7 45.4l-.2 .2M9.2 46.1l0 .2M2.7 48.3l.8 .3M7.7 48.9l.1 .1M32.9 49.1l-.5 .1M36.4 48.6l-.1 .9M48.8 48.1l.6 .1"/></g>
<rect x="0.5" y="0.5" width="63.3" height="46" fill="none" stroke="#081204" stroke-opacity="0.75" stroke-width="1"/>
</svg>
<rect x="156.8" y="369.2" width="24.2" height="7.6" fill="#fff"/>
<text x="179" y="376.5" font-size="8.4" fill="#333" text-anchor="end" textLength="18.6" lengthAdjust="spacingAndGlyphs" stroke="#333" stroke-width="0.2">5 min</text>
<svg x="49" y="381.9" width="64.6" height="47" overflow="hidden">
<rect width="65.6" height="48" fill="#223c0f"/>
<g filter="url(#b6)" fill="none" stroke-linecap="round"><path stroke="#2c4a1b" stroke-width="1.2" d="M4.7 12.3l0 0M29.4 14.3l0 0"/><path stroke="#2c4a1b" stroke-width="1.5" d="M31.3 25.4l0 0"/><path stroke="#2c4a1b" stroke-width="1" d="M19 37.5l0 0"/></g>
<rect x="0.5" y="0.5" width="63.6" height="46" fill="none" stroke="#081204" stroke-opacity="0.75" stroke-width="1"/>
</svg>
<rect x="88.8" y="421.1" width="24.8" height="7.8" fill="#fff"/>
<text x="91.8" y="428.2" font-size="8.4" fill="#333" textLength="20.2" lengthAdjust="spacingAndGlyphs" stroke="#333" stroke-width="0.2">0 min</text>
<rect x="51.2" y="425.7" width="7.6" height="1.7" fill="#d4dccb"/>
<svg x="116.7" y="381.9" width="64.3" height="47" overflow="hidden">
<rect width="65.3" height="48" fill="#0a2206"/>
<g filter="url(#b5)" fill="none" stroke-linecap="round"><path stroke="#225a18" stroke-width="2" d="M-1.9-2.1l.8 .3M1.9-2.3l.5 .6M4.3-1.9l-.2 .5M9.8-1.6l-.3 .3M11.3-1l.6 .6M15-1.7l.4 .5M17.3-.6l-.8 .1M20.9-.7l-.7 .3M22.9-1.9l.1 .2M25-.8l-.1 .1M29.1-.7l0 .1M31.8-1.3l-.4 .2M33.6-2.5l-.3 .7M35.7-1.8l.1 .1M40.1-1.5l-.5 .2M40.9-1.7l.6 .3M45.1-1.9l-.1 .2M49.6-1.5l-.2 .2M52.8-1.4l-.5 .5M56-1.2l0 0M58.6-1.7l-.3 .4M61.5-2l.2 .2M62.7-2.1l0 0M66.1-1.5l-.5 0M-.4 .6l.3 .3M2.6 1.1l.1 .6M5.3 .1l.8 .2M8 1.3l-.6 .6M10.1 .6l.2 .6M12.7 .6l.2 .8M16.8 1.1l-.9 0M18.7 .9l-.1 .2M22 .2l-.8 .4M24.3 .6l.1 .8M26.2 .2l0 .2M32.1 .3l.6 .2M35.6 .8l0 .4M41.1 1.2l-.1 .3M43.6 1.1l-.6 .3M45.9 1.4l.5 .4M48.9 1.5l-.1 .1M52.1 .2l0 .8M53.3 .2l.8 .4M56.3 1l.2 .5M58.8-.1l.2 .7M62.8 .5l-.1 .6M64.6 .8l.1 .2M-.8 3.8l0 .4M1.2 2.8l-.7 .2M3.4 2.7l0 .1M6.3 3.9l-.3 0M8.8 3l.9 .2M12.2 3.1l-.2 .2M14.1 3.1l.7 .3M17.4 2.6l.2 .2M22.1 3.7l.1 .2M24.8 2.4l.6 .3M28.1 2.5l.7 .1M31.2 3.2l-.1 .2M33.4 3.6l-.4 0M36.9 3.4l-.3 .1M39.7 3.4l-.5 .4M44.5 3.5l.4 .1M46.5 2.6l.7 .2M49.3 2.8l-.1 .8M53.6 3.4l-.5 .8M54.9 2.6l-.6 .1M61 3.4l-.3 .9M63.6 2.5l.7 .4M65.3 3.3l.7 .5M.3 4.9l.2 .6M2.2 5.5l.3 .1M8.9 5l-.3 .2M10.6 5.9l-.4 .1M14 4.9l-.6 .4M16 5.1l0 0M19.6 6.4l-.4 .2M22.3 5.3l-.1 .1M24.2 6l-.1 .4M26.9 5l-.1 .3M28.6 6l.8 .4M32.6 5.5l-.4 .1M34.7 4.7l.1 .6M37.6 5.4l.7 .2M41.1 6.2l0 .3M42.4 5.4l.9 .1M51.8 5.8l-.6 .6M53.6 5.1l-.5 .7M57.2 5l-.2 .3M59.2 6.1l-.7 .2M61.9 5.3l.5 .3M64.7 5l.5 .2M-.8 7.5l-.1 .2M.8 7.3l-.2 .1M3.8 7.7l-.3 .7M5.8 8.2l.2 .6M10 8.1l.4 .3M11.6 8.3l.4 .8M14.6 7.8l.1 .2M17.2 8.3l-.1 .1M21 8.7l0 0M22.8 7.6l.5 .5M25.4 8.5l.6 0M29 7.3l-.7 .1M31.4 7.9l-.3 .3M34.3 7.2l-.3 .2M36 8.2l-.1 .1M39.5 6.8l-.1 .7M41 7.6l.7 .1M43.9 7.6l-.2 .8M46.1 7.3l.7 .3M53.3 8.1l.2 .1M55.5 6.9l-.7 .5M57.9 7.6l.4 .8M60.3 8.3l-.2 .3M63.4 7.1l.2 .5M66.8 7.7l0 .3M-.5 9.9l.3 .9M1.9 10.6l.1 0M4.7 9.4l.2 1M8.3 10l-.2 .1M10.6 10.9l.8 .5M16.8 10.8l-.8 .2M19.2 9.7l0 .7M20.7 9.4l.3 .9M25 10.7l0 .1M27.2 11l.6 .1M29.5 9.6l-.5 .7M35.8 10.6l-.4 .7M37.9 9.7l-.3 .1M41.5 10.6l-.3 .1M42.8 10.5l.3 .4M45.3 10.7l-.2 .1M47.7 11l.5 .1M51.1 10.2l-.3 .1M54.1 9.5l.4 .6M56.7 10l-.4 0M60.2 10l-.4 .7M61.5 10.2l.3 .2M63.8 10.6l.6 .5M-2.1 12l0 .1M.5 13.1l.2 .5M3.8 12.8l-.1 .1M6.1 13l-.3 .9M9.1 11.8l-.8 .4M11.4 13l.2 .9M14.9 12.1l.1 0M17.2 13.3l.5 .2M20.8 13.1l0 0M23.1 12.6l0 .9M26 13.2l.2 .3M28.7 12.9l.2 .1M30.7 11.8l-.2 .4M34.1 12.5l-.8 .3M36.4 11.9l-.7 .4M38.7 12.1l-.6 .2M42.1 11.7l-.6 .5M44.2 11.8l.7 .7M47.8 12.7l-.4 .2M49.1 11.9l.5 .4M55.6 12.7l.1 .1M57.7 11.5l.4 .8M60.8 12.3l-.3 .8M63.1 11.9l0 0M67 12.1l-.7 .6M-.8 15.7l.5 .3M2 14.9l.8 .4M5.5 15l-.1 .1M8.1 15.5l-.3 .6M10.2 14.5l.2 .1M13.7 14.7l.5 .6M17 15l-.1 .3M19 15.4l.6 .3M21.6 15.5l-.5 .5M27.7 14.7l-.6 .2M29.5 14.4l-.8 .2M32.3 15.2l.8 .5M35.8 14.7l-.4 .8M37.4 15.7l.3 .2M41.2 15.3l-.1 .2M42.6 15.2l0 .5M46.3 15.5l-1 .2M50.5 14.7l0 0M53.9 15.4l.6 .6M56.4 14.9l-.6 .3M58.9 14.2l.1 0M61.5 15.2l-.3 0M64.5 15.5l.3 .4M-.6 17.6l-.2 .9M.7 17.6l.1 .2M5.1 16.9l-.7 0M6.9 16.9l-.4 .6M8.6 17.8l.3 .2M13.4 17.9l-.8 .1M14.6 17.5l.2 .1M18.2 17l.2 .7M20.8 17.7l.4 .3M23.3 17.1l.3 .1M25.5 17.1l-.9 .1M28.7 17.7l0 .1M31.8 17l-.5 .1M34.5 16.4l-.5 .7M36.1 18l-.3 0M39.3 17.4l0 0M42.2 16.8l-.5 .1M44.6 16.4l-.3 .6M48 17.3l-.3 .1M53.2 17.9l-.6 .3M54.5 16.4l.5 .3M61.3 17l.4 .3M64 16.3l-.5 .6M66 17l.3 .3M-.9 20.2l.5 .5M2.2 18.8l.7 .5M5.7 19.6l-.4 .4M7.1 19.5l.4 .6M11.2 19.2l.1 .7M12.9 20.4l-.1 .1M15.6 19.2l-.4 .8M21.2 20.1l.3 .9M25.3 19.2l-1 0M29.8 19.1l0 .3M32.2 19l-.2 .6M37.3 19.2l0 1M39.8 19.2l.4 .2M43.6 19.7l.3 .1M46 19.3l.6 .2M48.3 18.8l-.9 .2M51.6 18.9l.2 .2M53.8 19l0 .6M55.9 19.5l0 .2M59.5 19l0 .1M62.7 18.9l.3 .2M64.3 19.1l0 .3M-1.6 22.2l-.4 0M.6 22.7l.4 .1M4.5 22.4l.5 .7M6.9 22.2l-.8 .1M9.7 22.4l.6 .1M15.3 21.4l.1 .3M18 22.5l-.6 .6M19.9 22.7l0 .1M23.1 21.6l-.7 .4M25.3 21.9l-.6 .4M29 22.4l0 0M34.1 21.9l-.1 .2M35.7 22.2l.7 .5M38.9 21l-.5 .8M42.3 21.5l-.7 .5M44.5 21.9l.7 .1M47.8 21.5l-.3 .9M52.8 21.2l-.4 .3M55.1 22.6l0 .5M58.7 21.8l0 .2M60.7 21.7l-.3 .7M63.9 21.4l.1 .1M66.2 21.9l-.6 .4M-.1 24.5l-.3 .3M3.2 24.9l.8 .2M4.9 24.8l-.2 0M8.7 23.6l.5 .3M11.3 25l.2 .1M12.5 24.2l.4 .3M17.2 24.6l-.5 .7M17.9 23.5l.9 .4M23.8 25l-.1 .3M27.3 24.1l-.6 .2M29.8 23.4l0 .3M32.2 24.4l-.1 .4M34.5 23.9l-.4 .8M37.8 23.6l-.7 .4M40.6 24.3l-.8 0M42.8 25l.7 .1M49.5 23.6l-.1 .5M52 23.8l.2 .6M53.7 23.7l.1 .1M59 24.5l-.6 .4M62.3 24.6l.1 .2M64.3 24.6l.8 .3M-1.6 26.2l-.4 .4M1.8 27l-.8 .3M4.5 26.6l.4 .1M7.2 25.9l-.1 .3M9.9 27l-.1 .3M12.2 27.2l0 0M15.1 25.9l.2 0M19.5 26.5l-.1 .2M22.7 26.6l-.2 .3M25.9 25.9l.2 .5M31 27l0 .4M34.6 26.1l-.4 .6M37.2 26l-.2 .7M39.5 27l0 .5M41.2 27.4l.2 .3M44 27l.1 .1M47.5 27.3l0 .1M49.9 27.4l0 0M55.2 26.2l-.8 .4M58 27.2l-.4 .6M60.2 27.3l.8 .3M63.3 25.9l.4 .5M65.6 27.1l.1 .2M-.4 28.4l.9 .1M3.1 29l.2 .1M6 29.4l0 0M7.7 28.9l.7 0M10.7 28.5l.1 0M12.8 28.9l-.1 .1M18.3 29.1l-.3 .1M21 28.1l.8 .6M25 28.5l-.2 .3M26.9 28.4l-.5 .5M28.9 28.1l.2 .6M33.4 28.4l-.9 .2M34.2 28.6l.7 .7M37 29l0 0M40.6 28.6l-.2 .3M43.6 29.7l.2 .2M46.5 28.5l-.5 .8M48.1 28.8l-.3 .3M51.7 29.5l-.9 0M54 28.3l0 0M56.3 29.1l-.6 .2M59.2 28.4l.2 .1M62.8 28.4l.1 0M64.6 29.6l-.2 .2M-1.8 31.5l-.7 .3M1.3 31.4l-.3 .4M3.4 31l-.2 .4M6.1 31.7l.2 .1M9.7 31.7l.2 .4M11.6 31.2l.3 .6M14.6 30.7l.9 .1M18 30.5l.1 .3M20.6 31.8l.2 .5M23.3 31.6l-.1 .2M26 31.9l-.2 .1M28.2 31.8l-.3 .6M34.7 31.9l-.1 .1M37.2 31l-.2 .3M39.3 30.9l-.3 .3M42.2 30.4l-.2 .4M44.2 31l.9 .3M47.5 31l-.3 .6M49.4 30.7l.3 .6M53.4 30.9l.2 .2M55.8 31.2l-.1 .2M63.8 30.9l0 0M66.1 31.7l0 .3M.3 34.4l.1 .1M3.5 34.3l-.1 0M5.9 33.9l-.4 .2M11.3 33.3l-.1 .1M14 34l-.4 .5M16.7 34.3l-.1 .3M18.5 33.7l-.7 .1M22.2 34.2l-.4 .1M26.4 32.8l.3 .3M29.3 34.3l0 .1M32.8 33.1l-.2 .1M34.6 33.9l.9 .3M38.6 34.2l-.4 .7M42.8 34l-.2 .1M46.3 33l-.1 .2M48.3 33.2l0 .1M52.2 33.6l-.4 .8M54 33.1l-.3 .1M57 33.5l.1 .1M60.3 33.9l-.7 0M62 33.6l0 0M64.7 33.5l0 .2M-1.6 36.1l-.4 .2M1 35.8l.1 .5M6.8 35.2l0 .2M9.9 36l.6 .6M12.7 35.3l.4 .2M15.2 36l0 .3M17.7 36.2l.1 .2M19.6 36.2l.1 .1M22.6 35.7l0 .7M25.5 36.5l.5 .2M28.4 35.2l-.7 .2M31.7 35l-.2 .8M36.9 35.5l-.6 .2M39 36.2l-.5 .5M41.1 35.6l.4 .9M47.3 35.5l.3 .6M50.4 35.3l.5 .4M53 35l0 .5M55.5 35.9l-.3 .2M57.6 35.5l-.7 .3M61.2 35.2l-.3 .3M66.4 35.9l.7 .4M-.6 38.7l.1 .3M3 37.5l.1 .1M5.9 38.7l-.6 .2M8.6 39.1l0 .1M10.5 37.6l0 .8M13.7 37.7l.2 .4M15.5 38.5l.2 0M18.9 37.6l.3 0M21.3 38.9l-.3 .3M24.4 37.8l.9 .1M26.1 38.3l.1 .1M30.3 37.9l0 .6M35.3 38.1l.2 .7M38.7 37.6l0 .2M40.1 38.1l-.2 .1M43 38.4l-.3 .4M46.1 37.4l.2 .8M54.4 37.7l.1 .8M59.9 39.1l-.2 0M63 37.9l-.8 .1M65.3 37.8l.1 .2M-.8 41l.2 .2M1.1 40.1l0 .8M7.5 39.9l-.3 .4M10.1 40.6l-.6 .5M12.3 39.8l.3 .3M14.8 40.2l-.6 .5M16.8 40.6l.2 .2M20.6 41l.1 .1M25.1 40.5l.2 .6M27.6 40.9l.4 .1M30.3 40.5l-.1 .9M34.1 41.5l-.1 0M36.4 40.2l.1 .3M44 40.4l-.1 0M46.6 40.9l-.2 0M49.5 40l.5 .3M52.6 40.6l.4 .5M56 41.1l-.5 .7M57.2 40.8l0 .5M60.6 40.9l0 .2M65.1 40.4l.7 .5M-.3 43l.3 .3M3.3 43.7l-.3 .1M5.5 43.6l0 0M7.5 43.2l0 .7M11.3 43.5l.2 .1M14.3 43.5l-.4 .2M16.1 43l.1 .4M19.2 43.4l-.9 .3M24 43.1l-.2 .1M27.8 43.2l-.1 0M32.8 42.3l-.1 .3M34.9 42.3l.3 .7M37.2 43l-.1 .6M41.4 42.8l-.7 .1M43.9 43.5l.2 0M45.8 43.1l.4 .1M47.6 42l.3 .7M52.3 43.3l-.3 .7M53.8 43.2l.1 .2M57.3 43.8l0 0M58.7 42.2l-.1 .5M62.3 42.2l0 0M64.2 42.7l.3 .5M-.8 45.4l0 .1M2.1 44.6l-.6 .2M3.6 44.9l-.4 .6M7.3 45.6l.1 .6M8.6 44.8l.9 .3M12.1 46l0 .2M15.4 44.5l.1 .1M17.8 44.8l.1 .2M19.8 45.6l0 0M23.2 44.6l.5 .2M24.7 45.8l.3 .2M28.2 46l.2 .5M30.3 46l.3 .2M33.4 45.6l-.8 .4M35.8 45.4l-.1 .7M39.4 44.3l.3 .5M42 45.1l-.4 .6M44.7 44.3l-.3 .9M47.7 44.7l0 .2M50.3 45.4l.3 .1M53.1 44.8l-.1 0M55.9 45.2l-.1 .4M58.3 44.8l.3 .6M60.8 45.6l.7 .4M63.5 44.4l-.7 .5M66.5 46.1l.2 .2M-.8 47.5l-.1 .6M2.3 47.2l-.8 .1M8.7 47.8l-.1 .4M11.6 48l-.2 .1M14.3 47.5l-.5 .2M16.7 47.7l0 0M19.1 47.3l.1 0M21.6 47.3l-.3 .4M24 48.2l.3 .6M26.5 48.2l-.7 0M29.3 48l.1 .1M34.5 47.5l.1 .2M36.8 47.9l.4 .5M40.7 47.9l.1 .4M43.1 47.4l.4 .7M48.8 48.2l-.4 .3M50.9 47.9l-.3 .2M54.4 46.8l-.1 .8M57.2 48.5l.1 .2M62.1 48.1l-.2 .3M65.1 47.4l0 .3"/><path stroke="#82d04c" stroke-width="1.2" d="M4.3-1.9l-.2 .5M9.8-1.6l-.3 .3M25-.8l-.1 .1M40.1-1.5l-.5 .2M52.8-1.4l-.5 .5M-.4 .6l.3 .3M18.7 .9l-.1 .2M58.8-.1l.2 .7M8.8 3l.9 .2M24.8 2.4l.6 .3M65.3 3.3l.7 .5M57.2 5l-.2 .3M64.7 5l.5 .2M22.8 7.6l.5 .5M41 7.6l.7 .1M57.9 7.6l.4 .8M1.9 10.6l.1 0M19.2 9.7l0 .7M25 10.7l0 .1M29.5 9.6l-.5 .7M60.2 10l-.4 .7M-2.1 12l0 .1M.5 13.1l.2 .5M6.1 13l-.3 .9M11.4 13l.2 .9M17.2 13.3l.5 .2M26 13.2l.2 .3M36.4 11.9l-.7 .4M47.8 12.7l-.4 .2M8.1 15.5l-.3 .6M27.7 14.7l-.6 .2M32.3 15.2l.8 .5M35.8 14.7l-.4 .8M41.2 15.3l-.1 .2M56.4 14.9l-.6 .3M14.6 17.5l.2 .1M28.7 17.7l0 .1M-.9 20.2l.5 .5M12.9 20.4l-.1 .1M29 22.4l0 0M47.8 21.5l-.3 .9M55.1 22.6l0 .5M66.2 21.9l-.6 .4M3.2 24.9l.8 .2M32.2 24.4l-.1 .4M53.7 23.7l.1 .1M1.8 27l-.8 .3M49.9 27.4l0 0M21 28.1l.8 .6M26.9 28.4l-.5 .5M51.7 29.5l-.9 0M3.4 31l-.2 .4M53.4 30.9l.2 .2M16.7 34.3l-.1 .3M52.2 33.6l-.4 .8M60.3 33.9l-.7 0M62 33.6l0 0M55.5 35.9l-.3 .2M26.1 38.3l.1 .1M40.1 38.1l-.2 .1M12.3 39.8l.3 .3M16.8 40.6l.2 .2M44 40.4l-.1 0M5.5 43.6l0 0M12.1 46l0 .2M28.2 46l.2 .5M50.3 45.4l.3 .1M60.8 45.6l.7 .4M63.5 44.4l-.7 .5M21.6 47.3l-.3 .4M54.4 46.8l-.1 .8"/><path stroke="#82d04c" stroke-width="1.5" d="M56-1.2l0 0M2.6 1.1l.1 .6M10.1 .6l.2 .6M-.8 3.8l0 .4M33.4 3.6l-.4 0M54.9 2.6l-.6 .1M24.2 6l-.1 .4M34.7 4.7l.1 .6M5.8 8.2l.2 .6M14.6 7.8l.1 .2M55.5 6.9l-.7 .5M-.5 9.9l.3 .9M51.1 10.2l-.3 .1M13.4 17.9l-.8 .1M42.2 16.8l-.5 .1M29.8 19.1l0 .3M32.2 19l-.2 .6M46 19.3l.6 .2M55.9 19.5l0 .2M9.7 22.4l.6 .1M8.7 23.6l.5 .3M59 24.5l-.6 .4M60.2 27.3l.8 .3M-.4 28.4l.9 .1M33.4 28.4l-.9 .2M34.2 28.6l.7 .7M9.7 31.7l.2 .4M66.1 31.7l0 .3M5.9 33.9l-.4 .2M22.2 34.2l-.4 .1M-1.6 36.1l-.4 .2M9.9 36l.6 .6M31.7 35l-.2 .8M-.6 38.7l.1 .3M43 38.4l-.3 .4M46.1 37.4l.2 .8M53.8 43.2l.1 .2M7.3 45.6l.1 .6M29.3 48l.1 .1"/><path stroke="#82d04c" stroke-width="1" d="M12.7 .6l.2 .8M32.1 .3l.6 .2M49.3 2.8l-.1 .8M.3 4.9l.2 .6M10 8.1l.4 .3M34.3 7.2l-.3 .2M36 8.2l-.1 .1M27.2 11l.6 .1M35.8 10.6l-.4 .7M41.5 10.6l-.3 .1M56.7 10l-.4 0M20.8 13.1l0 0M42.1 11.7l-.6 .5M37.4 15.7l.3 .2M46.3 15.5l-1 .2M61.5 15.2l-.3 0M39.3 17.4l0 0M64 16.3l-.5 .6M44.5 21.9l.7 .1M52.8 21.2l-.4 .3M52 23.8l.2 .6M39.5 27l0 .5M44 27l.1 .1M12.8 28.9l-.1 .1M18.5 33.7l-.7 .1M26.4 32.8l.3 .3M22.6 35.7l0 .7M41.1 35.6l.4 .9M5.9 38.7l-.6 .2M15.5 38.5l.2 0M59.9 39.1l-.2 0M27.8 43.2l-.1 0M34.9 42.3l.3 .7M8.6 44.8l.9 .3M33.4 45.6l-.8 .4M55.9 45.2l-.1 .4M58.3 44.8l.3 .6M40.7 47.9l.1 .4M43.1 47.4l.4 .7M57.2 48.5l.1 .2"/><path stroke="#98dc64" stroke-width="1.5" d="M-1.9-2.1l.8 .3M1.9-2.3l.5 .6M15-1.7l.4 .5M33.6-2.5l-.3 .7M58.6-1.7l-.3 .4M1.2 2.8l-.7 .2M39.7 3.4l-.5 .4M53.6 3.4l-.5 .8M61 3.4l-.3 .9M32.6 5.5l-.4 .1M11.6 8.3l.4 .8M37.9 9.7l-.3 .1M14.9 12.1l.1 0M60.8 12.3l-.3 .8M42.6 15.2l0 .5M50.5 14.7l0 0M6.9 16.9l-.4 .6M44.6 16.4l-.3 .6M54.5 16.4l.5 .3M21.2 20.1l.3 .9M37.3 19.2l0 1M43.6 19.7l.3 .1M-.1 24.5l-.3 .3M23.8 25l-.1 .3M-1.6 26.2l-.4 .4M7.7 28.9l.7 0M46.5 28.5l-.5 .8M1.3 31.4l-.3 .4M48.3 33.2l0 .1M18.9 37.6l.3 0M11.3 43.5l.2 .1M43.9 43.5l.2 0M45.8 43.1l.4 .1M2.1 44.6l-.6 .2M39.4 44.3l.3 .5M-.8 47.5l-.1 .6M2.3 47.2l-.8 .1M24 48.2l.3 .6"/><path stroke="#98dc64" stroke-width="1.2" d="M29.1-.7l0 .1M45.1-1.9l-.1 .2M61.5-2l.2 .2M62.7-2.1l0 0M5.3 .1l.8 .2M8 1.3l-.6 .6M16.8 1.1l-.9 0M41.1 1.2l-.1 .3M45.9 1.4l.5 .4M52.1 .2l0 .8M17.4 2.6l.2 .2M44.5 3.5l.4 .1M22.3 5.3l-.1 .1M26.9 5l-.1 .3M28.6 6l.8 .4M37.6 5.4l.7 .2M53.6 5.1l-.5 .7M3.8 7.7l-.3 .7M17.2 8.3l-.1 .1M21 8.7l0 0M63.4 7.1l.2 .5M8.3 10l-.2 .1M10.6 10.9l.8 .5M42.8 10.5l.3 .4M47.7 11l.5 .1M61.5 10.2l.3 .2M63.8 10.6l.6 .5M3.8 12.8l-.1 .1M23.1 12.6l0 .9M28.7 12.9l.2 .1M63.1 11.9l0 0M67 12.1l-.7 .6M10.2 14.5l.2 .1M17 15l-.1 .3M5.1 16.9l-.7 0M23.3 17.1l.3 .1M25.5 17.1l-.9 .1M34.5 16.4l-.5 .7M5.7 19.6l-.4 .4M15.6 19.2l-.4 .8M25.3 19.2l-1 0M51.6 18.9l.2 .2M-1.6 22.2l-.4 0M19.9 22.7l0 .1M34.1 21.9l-.1 .2M35.7 22.2l.7 .5M38.9 21l-.5 .8M58.7 21.8l0 .2M63.9 21.4l.1 .1M11.3 25l.2 .1M12.5 24.2l.4 .3M17.9 23.5l.9 .4M27.3 24.1l-.6 .2M37.8 23.6l-.7 .4M4.5 26.6l.4 .1M9.9 27l-.1 .3M12.2 27.2l0 0M31 27l0 .4M34.6 26.1l-.4 .6M41.2 27.4l.2 .3M3.1 29l.2 .1M18.3 29.1l-.3 .1M28.9 28.1l.2 .6M37 29l0 0M40.6 28.6l-.2 .3M56.3 29.1l-.6 .2M64.6 29.6l-.2 .2M6.1 31.7l.2 .1M11.6 31.2l.3 .6M14.6 30.7l.9 .1M34.7 31.9l-.1 .1M42.2 30.4l-.2 .4M49.4 30.7l.3 .6M63.8 30.9l0 0M.3 34.4l.1 .1M3.5 34.3l-.1 0M14 34l-.4 .5M46.3 33l-.1 .2M12.7 35.3l.4 .2M15.2 36l0 .3M17.7 36.2l.1 .2M19.6 36.2l.1 .1M25.5 36.5l.5 .2M39 36.2l-.5 .5M50.4 35.3l.5 .4M57.6 35.5l-.7 .3M61.2 35.2l-.3 .3M66.4 35.9l.7 .4M8.6 39.1l0 .1M10.5 37.6l0 .8M35.3 38.1l.2 .7M65.3 37.8l.1 .2M1.1 40.1l0 .8M25.1 40.5l.2 .6M46.6 40.9l-.2 0M56 41.1l-.5 .7M65.1 40.4l.7 .5M32.8 42.3l-.1 .3M24.7 45.8l.3 .2M35.8 45.4l-.1 .7M53.1 44.8l-.1 0M66.5 46.1l.2 .2M14.3 47.5l-.5 .2"/><path stroke="#98dc64" stroke-width="1" d="M66.1-1.5l-.5 0M24.3 .6l.1 .8M35.6 .8l0 .4M56.3 1l.2 .5M64.6 .8l.1 .2M22.1 3.7l.1 .2M8.9 5l-.3 .2M16 5.1l0 0M51.8 5.8l-.6 .6M-.8 7.5l-.1 .2M29 7.3l-.7 .1M16.8 10.8l-.8 .2M20.7 9.4l.3 .9M9.1 11.8l-.8 .4M44.2 11.8l.7 .7M57.7 11.5l.4 .8M19 15.4l.6 .3M8.6 17.8l.3 .2M48 17.3l-.3 .1M53.2 17.9l-.6 .3M25.3 21.9l-.6 .4M64.3 24.6l.8 .3M22.7 26.6l-.2 .3M37.2 26l-.2 .7M55.2 26.2l-.8 .4M23.3 31.6l-.1 .2M39.3 30.9l-.3 .3M11.3 33.3l-.1 .1M38.6 34.2l-.4 .7M54 33.1l-.3 .1M57 33.5l.1 .1M47.3 35.5l.3 .6M3 37.5l.1 .1M13.7 37.7l.2 .4M38.7 37.6l0 .2M-.8 41l.2 .2M14.8 40.2l-.6 .5M20.6 41l.1 .1M30.3 40.5l-.1 .9M49.5 40l.5 .3M14.3 43.5l-.4 .2M37.2 43l-.1 .6M41.4 42.8l-.7 .1M17.8 44.8l.1 .2M42 45.1l-.4 .6M47.7 44.7l0 .2"/><path stroke="#6ec040" stroke-width="1.5" d="M11.3-1l.6 .6M22.9-1.9l.1 .2M62.8 .5l-.1 .6M3.4 2.7l0 .1M6.3 3.9l-.3 0M31.2 3.2l-.1 .2M2.2 5.5l.3 .1M66.8 7.7l0 .3M29.5 14.4l-.8 .2M.7 17.6l.1 .2M31.8 17l-.5 .1M61.3 17l.4 .3M2.2 18.8l.7 .5M48.3 18.8l-.9 .2M4.5 22.4l.5 .7M6.9 22.2l-.8 .1M60.7 21.7l-.3 .7M34.5 23.9l-.4 .8M37.2 31l-.2 .3M44.2 31l.9 .3M47.5 31l-.3 .6M55.8 31.2l-.1 .2M64.7 33.5l0 .2M36.9 35.5l-.6 .2M63 37.9l-.8 .1M36.4 40.2l.1 .3M-.3 43l.3 .3M47.6 42l.3 .7M64.2 42.7l.3 .5M23.2 44.6l.5 .2M44.7 44.3l-.3 .9M16.7 47.7l0 0M19.1 47.3l.1 0M48.8 48.2l-.4 .3"/><path stroke="#6ec040" stroke-width="1" d="M17.3-.6l-.8 .1M20.9-.7l-.7 .3M43.6 1.1l-.6 .3M53.3 .2l.8 .4M36.9 3.4l-.3 .1M46.5 2.6l.7 .2M41.1 6.2l0 .3M25.4 8.5l.6 0M53.3 8.1l.2 .1M4.7 9.4l.2 1M54.1 9.5l.4 .6M55.6 12.7l.1 .1M58.9 14.2l.1 0M36.1 18l-.3 0M66 17l.3 .3M11.2 19.2l.1 .7M23.1 21.6l-.7 .4M42.3 21.5l-.7 .5M49.5 23.6l-.1 .5M62.3 24.6l.1 .2M15.1 25.9l.2 0M19.5 26.5l-.1 .2M58 27.2l-.4 .6M65.6 27.1l.1 .2M6 29.4l0 0M10.7 28.5l.1 0M59.2 28.4l.2 .1M-1.8 31.5l-.7 .3M28.2 31.8l-.3 .6M1 35.8l.1 .5M6.8 35.2l0 .2M24.4 37.8l.9 .1M30.3 37.9l0 .6M7.5 39.9l-.3 .4M24 43.1l-.2 .1M57.3 43.8l0 0M-.8 45.4l0 .1M15.4 44.5l.1 .1M8.7 47.8l-.1 .4M26.5 48.2l-.7 0M34.5 47.5l.1 .2M50.9 47.9l-.3 .2M65.1 47.4l0 .3"/><path stroke="#6ec040" stroke-width="1.2" d="M31.8-1.3l-.4 .2M35.7-1.8l.1 .1M40.9-1.7l.6 .3M49.6-1.5l-.2 .2M22 .2l-.8 .4M26.2 .2l0 .2M48.9 1.5l-.1 .1M12.2 3.1l-.2 .2M14.1 3.1l.7 .3M28.1 2.5l.7 .1M63.6 2.5l.7 .4M10.6 5.9l-.4 .1M14 4.9l-.6 .4M19.6 6.4l-.4 .2M42.4 5.4l.9 .1M59.2 6.1l-.7 .2M61.9 5.3l.5 .3M.8 7.3l-.2 .1M31.4 7.9l-.3 .3M39.5 6.8l-.1 .7M43.9 7.6l-.2 .8M46.1 7.3l.7 .3M60.3 8.3l-.2 .3M45.3 10.7l-.2 .1M30.7 11.8l-.2 .4M34.1 12.5l-.8 .3M38.7 12.1l-.6 .2M49.1 11.9l.5 .4M-.8 15.7l.5 .3M2 14.9l.8 .4M5.5 15l-.1 .1M13.7 14.7l.5 .6M21.6 15.5l-.5 .5M53.9 15.4l.6 .6M64.5 15.5l.3 .4M-.6 17.6l-.2 .9M18.2 17l.2 .7M20.8 17.7l.4 .3M7.1 19.5l.4 .6M39.8 19.2l.4 .2M53.8 19l0 .6M59.5 19l0 .1M62.7 18.9l.3 .2M64.3 19.1l0 .3M.6 22.7l.4 .1M15.3 21.4l.1 .3M18 22.5l-.6 .6M4.9 24.8l-.2 0M17.2 24.6l-.5 .7M29.8 23.4l0 .3M40.6 24.3l-.8 0M42.8 25l.7 .1M7.2 25.9l-.1 .3M25.9 25.9l.2 .5M47.5 27.3l0 .1M63.3 25.9l.4 .5M25 28.5l-.2 .3M43.6 29.7l.2 .2M48.1 28.8l-.3 .3M54 28.3l0 0M62.8 28.4l.1 0M18 30.5l.1 .3M20.6 31.8l.2 .5M26 31.9l-.2 .1M29.3 34.3l0 .1M32.8 33.1l-.2 .1M34.6 33.9l.9 .3M42.8 34l-.2 .1M28.4 35.2l-.7 .2M53 35l0 .5M21.3 38.9l-.3 .3M54.4 37.7l.1 .8M10.1 40.6l-.6 .5M27.6 40.9l.4 .1M34.1 41.5l-.1 0M52.6 40.6l.4 .5M57.2 40.8l0 .5M60.6 40.9l0 .2M3.3 43.7l-.3 .1M7.5 43.2l0 .7M16.1 43l.1 .4M19.2 43.4l-.9 .3M52.3 43.3l-.3 .7M58.7 42.2l-.1 .5M62.3 42.2l0 0M3.6 44.9l-.4 .6M19.8 45.6l0 0M30.3 46l.3 .2M11.6 48l-.2 .1M36.8 47.9l.4 .5M62.1 48.1l-.2 .3"/></g>
<rect x="0.5" y="0.5" width="63.3" height="46" fill="none" stroke="#081204" stroke-opacity="0.75" stroke-width="1"/>
</svg>
<rect x="156.8" y="421.3" width="24.2" height="7.6" fill="#fff"/>
<text x="179" y="428.6" font-size="8.4" fill="#333" text-anchor="end" textLength="18.6" lengthAdjust="spacingAndGlyphs" stroke="#333" stroke-width="0.2">5 min</text>
<svg x="49" y="480.6" width="64.6" height="47" overflow="hidden">
<rect width="65.6" height="48" fill="#1e300c"/>
<g filter="url(#b6)" fill="none" stroke-linecap="round"><path stroke="#3a5f25" stroke-width="1.5" d="M35.9 27.1l0 0M42.9 1.8l0 0M9.9 47.2l0 0M29.3 31.5l0 0M37.4 30.6l0 0M25.1 29.3l0 0M25.6 44.5l0 0M4.9 28l0 0"/><path stroke="#3a5f25" stroke-width="1.2" d="M61.7 14.5l0 0M6.2 44.6l0 0M37.7 38.6l0 0M50.3 44.2l0 0M15.1 25l0 0M58.2 42.9l0 0"/><path stroke="#3a5f25" stroke-width="1" d="M49.8-.7l0 0M54.6 9.6l0 0"/></g>
<rect x="0.5" y="0.5" width="63.6" height="46" fill="none" stroke="#081204" stroke-opacity="0.75" stroke-width="1"/>
</svg>
<rect x="88.8" y="519.8" width="24.8" height="7.8" fill="#fff"/>
<text x="91.8" y="526.9" font-size="8.4" fill="#333" textLength="20.2" lengthAdjust="spacingAndGlyphs" stroke="#333" stroke-width="0.2">0 min</text>
<rect x="56.9" y="524.4" width="7.6" height="1.7" fill="#d4dccb"/>
<svg x="116.7" y="480.6" width="64.3" height="47" overflow="hidden">
<rect width="65.3" height="48" fill="#0a2406"/>
<g filter="url(#b5)" fill="none" stroke-linecap="round"><path stroke="#14420a" stroke-width="2.5" d="M-1.5-1l1.8 .1M1.3-1.8l1 .8M4-.8l-1.4 0M5.3-1.7l.7 1.1M6.6-1.9l.6 .5M13.1-2.1l-2.1 .8M13.4-1.6l.5 .8M16.4-.6l.2 0M19.8-2l1.4 1.7M23.8-1.6l-.3 .4M30.2-2l-1.4 .6M32.8-.5l1.5 0M45.5-.9l-.4 1.2M47.3-2.2l1 .9M54.4-1.6l.1 1.1M57.3-.8l-1.7 .1M65.6-2.5l-.1 2M.9 .5l-.4 0M7.3 0l-1.8 1.2M20.2-.5l0 1.4M30.2 .1l.9 .2M32.9 .5l.9 1.7M36 .1l-1.1 .7M37 .6l.4 .3M41.2 .2l0 1.4M46.3 .2l-.3 .8M54 1.1l.4 .8M57.5-.2l-1 .3M59.4-.1l-1.3 1.1M64.5 .2l.1 .1M65.3-.5l.1 1.8M-2.3 2.9l.8 .1M5.6 1.9l-1.8 .1M9.5 2.9l-1 .3M11.8 2.3l-.6 .5M16.4 2.1l.2 .1M21.8 1.6l-.1 1.3M24.6 2.8l-1.9 .6M25.7 2.5l.2 .9M32.3 2.8l.2 .3M35.6 1.7l1.4 .6M39 2.4l-.9 1.3M46.8 2.7l.6 .7M56.4 1.7l-.4 1.3M62.4 3.1l1.3 .3M66 2.2l-.3 0M-.8 5l-.1 .5M3 4.5l.2 .3M7.3 3.9l-.7 .2M12.1 3.8l1.7 .5M16.1 4.4l0 1.7M17.9 4.4l-1.3 1.1M21.3 4.1l0 0M27.3 3.7l-.5 1.5M30.4 3.4l.2 1.4M38.2 4.2l-.1 0M44.4 5.4l-.2 0M45.1 3.4l1.6 .8M48.1 4.1l-.1 0M50.9 4.5l2 .5M55.3 3.3l.6 1.5M58.6 4.2l-1.9 1M61.5 4.2l.2 1.4M64.5 2.8l-.5 2.1M-.6 5.4l-.8 .9M3 5.3l1.1 1.5M7.5 6.5l-.1 .9M10.5 6.7l-1.9 .8M11.9 6.1l-.9 1.1M20.2 6.7l-.1 1.5M30.1 6.8l-.8 .7M31.7 5.3l0 1.1M34.5 6.3l-.2 .3M46.3 7.3l.3 .2M51.3 6.9l-.3 .2M56.2 6l1.4 .3M57.5 7.1l2 .3M60.3 6.4l.6 .1M64.5 6.6l0 1.3M-.2 9.2l.2 .1M8.5 7.8l.9 .8M10.5 7.6l-.1 .1M12.9 8.5l-.3 .4M16 8.8l-.2 .2M18.4 8.2l.2 .1M19.8 8.1l1.4 .5M27.1 8.4l.1 .9M29.5 7.4l-1.9 .9M32.6 8.4l-.3 .1M37.9 8.1l.6 1M39.9 8.1l-1 .5M41.3 7.9l-.5 1.5M43.9 7.2l-.5 1.9M46.3 8l.8 1.1M47.7 7.8l.3 1.6M51.6 8.8l-.9 .6M52.1 7.8l-.4 .3M56.6 6.9l.5 2.1M58.8 7.7l1.3 0M61.8 8.6l-.1 .1M63.4 8.1l-.3 1.6M11.6 9.8l0 0M16.1 10.8l-1.9 .6M17.2 10.5l0 .5M19.3 10.5l0 .9M22.2 10l.1 .1M25.4 10.2l.2 .2M27.1 9.6l.2 .3M33.2 10.6l-1.4 .4M34.7 9.9l0 1.5M38.3 10l1.8 .3M42.6 9.4l.7 1.1M45.6 10.5l-.4 1.2M50.3 10.9l-.7 .3M50.9 9l1.1 .8M53.8 9.4l.3 1.5M55.4 10l-.4 1M60.7 10.1l.1 .4M62.2 10.9l2.1 .5M65.5 10.4l0 0M1.9 12.2l-.6 1.4M4.4 11.1l-.6 2.1M5.7 12.2l.2 0M16.3 11.7l-.1 .1M19.7 12.9l-.6 .1M23.3 13l-1.9 .1M24.2 11.1l-.4 1.1M25.9 12.8l1.3 .1M28.9 11.6l-.5 .9M31.1 12.1l-2 .2M32.7 11.8l0 .1M36 11.7l-.5 1M40.3 12.4l0 .1M46.6 11.8l0 .2M47.7 12.4l-.3 1.4M52.3 11.4l-.1 .1M54.6 12.2l0 1M58.9 12.7l-1.8 .8M60.1 11.8l1.9 .3M64.5 11.1l-.5 1.7M4.4 14.8l.4 .1M7.9 13.8l.8 .9M9.7 13.3l1.7 .1M12.1 14.3l1.6 .6M14.9 14.6l.1 .1M16.3 14.4l-.2 .1M17.2 13.7l1.4 1.4M20.7 14l1.3 .2M25 13.5l.2 .3M26 13.6l1.3 .4M35 13.3l0 .1M40.1 14l-.1 .1M44.1 14l-1.6 .5M48.5 13.9l-1 .5M51.1 14.3l1.9 1M52.7 13.1l1.2 1.3M57.6 13.5l-1.4 .5M59.1 14.3l-.5 .4M63.6 13.8l-.8 0M-1.4 16l1.9 .1M2.1 14.7l1.1 1.3M4.6 15.7l1.1 .7M9.5 16.8l-1.1 0M12.8 14.6l-.3 1.3M20.4 15.7l-.4 .3M26.7 14.8l-2 .7M30.7 16.1l.1 1M32.1 15.5l.2 .6M36.7 16.3l.2 .1M38.5 16.4l1.5 .1M41.7 16.6l.8 .2M43.6 15.5l-.2 .8M46.3 16.4l0 0M48.4 16.3l0 0M50.1 15.7l.3 .5M54.9 15.7l1 1M58 15.5l1.8 1M61.2 16.5l.6 .4M64.5 16.4l-.2 .3M65.4 15.9l-.1 .2M-1.2 18.7l0 0M1.7 17.6l-.1 1.4M3.2 18.5l-.1 .4M5.9 18.1l-.1 0M13.3 18.2l-1.9 .3M19.7 18.5l-1.9 .4M23.2 16.8l.9 .8M24.6 17.9l.2 .1M28.1 17.3l.1 .8M28.6 16.9l.6 1.6M31.7 17.3l1.3 .2M33.9 16.7l1.1 1.2M43.7 17l-1.2 1.6M44.7 18.4l-.9 .7M49.7 17.4l.2 1.6M56.2 17.1l-.8 .7M58 17.8l-.8 .1M62 18.4l-.3 .1M64.1 17.4l.7 .4M-.9 18.9l1.3 .6M2.6 19.5l-.3 .4M7.5 19.3l-2.2 .3M11.6 20.4l-.2 .3M13.2 18.8l.5 .4M20 19.5l-.4 .6M22.3 19.8l1 .3M24.2 19l.2 .7M26.2 19.9l.2 .3M29.6 19.3l-.6 1.2M30.6 18.3l-.5 1.8M34.8 18.9l-2 .6M36.1 19.1l1.1 .6M39.5 19.3l1.7 .1M43.4 19.3l-.1 0M46.2 19.1l-.3 .4M47.7 19.7l.8 1.5M50.4 20.4l.2 .1M53.1 20.5l-1.2 0M56 19.5l-1.4 .4M59.6 19.9l.9 1.1M61.7 18.5l-.7 .9M64.7 18.9l-.1 .5M66.6 19.3l-1.4 1M2 21.2l0 .1M3.2 21.6l.1 .2M4.5 20.6l.5 .7M7.1 21.5l.2 .1M10.3 21.1l.1 1M17 21.9l1.7 .1M25 21.1l-.9 1.4M28.3 21.5l-.1 .7M28.8 21.6l0 0M34.8 21.7l.3 0M36.4 21.6l.1 .2M37.4 20.6l.6 .9M48.8 21.2l-.1 1.5M53.3 20.8l1.3 .9M56.3 21.3l-.3 1M61 21.1l-.2 .6M62.6 20.6l1.4 1.4M65.3 21.2l.4 .1M-.5 23.2l.8 1.4M2.6 23.5l-.5 .1M5.6 22.7l-1.3 .5M8.3 22.7l-1.8 .7M8.5 23.7l-.9 .1M11.5 23.3l-.2 .5M13.5 24.5l0 0M14.8 22.9l.2 0M20 23.1l1.1 .8M23 23.6l-1.1 .5M23.1 24.4l1.1 .3M26.2 22.2l1 1.1M27.7 22.9l0 0M30.4 22.4l1.1 1.2M32.4 22.8l-.5 .9M36 23.1l-.7 .6M37.7 23.7l.4 1.4M41.7 24.3l1.5 .1M44.3 23.4l.8 1.5M44.9 22.9l2 .3M48.1 23.2l-.3 .6M52.1 24l.3 .5M58.3 23.6l-1.4 .5M66 24l-.6 .3M.5 25.5l.3 .3M2.8 25.9l1.3 .6M5.1 26.4l-.1 0M7.7 26.1l0 .6M14.9 24.8l0 .8M16.7 26.2l-.3 .1M18.4 25.1l.9 .5M20.7 24.9l0 .4M25.4 25.8l.3 1.4M26.2 26.2l1.3 .4M30.8 24.7l-1.3 1.5M36 24.4l.8 .5M42.1 24.6l.5 1.1M44.9 24.1l-1.3 1.7M49 24.6l-.3 .2M52.2 25.7l.5 .7M55.5 26.2l.3 .1M61.3 25.4l-1.5 .3M65.9 24.5l-.2 1.9M2.7 26.8l1.8 .1M6.7 27.5l-.7 1.1M10.3 27.5l0 1.2M22.6 26.8l0 0M23.5 26.3l.4 1.2M28.1 27.2l0 .5M30.3 26.1l-.2 1.1M35.4 27.2l.6 1.1M37.1 26.6l-.8 .4M39.7 27l-.8 1.4M41.3 27.5l0 .2M45.1 27.3l.6 .5M52.9 27.9l.8 .5M54.3 26.6l0 1.2M57.5 26.9l-.1 .1M60.1 27.1l-.2 .3M60.9 27.2l-.4 0M65.4 27l.5 .5M2.1 28.7l-.6 0M4.6 28.7l-.9 1.7M5.1 29l1.6 .5M7.2 30l0 0M12.4 28.1l.2 1.7M23.7 29.4l.4 .2M26.9 28.3l.5 2M32.3 29.2l.7 1.5M33.7 28.7l0 .5M38.2 29l.2 .3M40.9 27.9l-.4 2.1M42.4 29.1l.2 1.6M44.6 29.1l.7 1.5M48.9 29.7l-1.5 0M53.2 29.8l.4 .8M56.9 29.7l-.6 .4M58.9 27.9l.5 1.6M60.2 29.9l.1 .1M66.3 29.5l-1 .3M-.7 30.9l-.4 .3M1.5 29.7l1 1.5M6.5 31.5l.3 .3M12 30.1l-.8 1.1M12.2 31.5l.8 1.1M20.4 31l-1 2M22 31.4l-.1 1.5M24.3 31.3l.9 .5M29.1 30.1l-1.4 .8M31.4 30l-.4 1M33.9 31.7l-.9 .8M35.9 30.9l-.3 .3M39.4 29.8l-.4 1.4M41.4 31.4l0 .7M45.9 30.5l-1.1 0M49 30.8l.5 .2M51.1 31.9l.4 .2M55.2 31.1l-1.6 .2M58.9 31.5l1.7 .9M62.4 30.1l-.1 1.6M63.3 31.6l.5 1.1M66.9 30.3l-1.3 .9M.1 33.1l-.8 1M1.3 32.4l-.7 .1M3.2 33.4l-.7 .4M5 33.2l.1 .6M8.6 31.9l-1.1 .8M12.4 32.4l0 .3M15.4 32.6l2 .8M23.2 32.7l1.1 1.4M28.3 33.8l-1 .5M30.4 32.8l0 .2M36.2 32.7l.4 .4M38.6 33.3l-1.4 .3M40.7 33.1l-.2 .6M43.5 33l-1.2 .8M49.8 33.7l-.1 .2M52.2 33.5l.7 .9M53.4 32.1l1.2 .7M56.5 33.2l-.2 .5M57.3 33.5l.6 1M59.3 32.9l1.9 .6M-.3 34.1l.5 1.2M2.4 34.2l-.1 0M6.9 34.9l.1 1.6M9 35.2l-.4 1M22.8 34.8l-.1 0M24.8 34l-.3 1.3M25.4 35l.6 1M36.1 34.2l-.5 .3M41.9 34.3l-.7 .6M44.6 33.9l.5 .7M45.4 33.9l0 1.2M52.6 34.3l.9 .3M54.4 34.8l2 .5M58.5 34.1l-1.4 .8M63.6 34.4l.4 .3M-2.2 37.1l.4 .2M.3 36.5l1.6 .2M3.5 36.2l-.1 .2M7.2 37.1l-2 .3M17.3 36l-.3 1.2M29.2 35.5l-.7 1.7M34.5 36.1l-.6 1.3M38.6 36.5l.3 .5M40.5 36.1l-.3 1.1M42.5 37.2l-1 1M44.2 36.3l1.8 1.2M48.7 36.6l.6 .2M52.5 36l-.5 1.5M52.2 36l1.9 .8M57 36.5l-.2 1.7M58.4 36.5l.3 0M61.3 37.6l0 0M.9 37.9l-.3 1M4.1 38.8l-.2 1.6M6 38.7l.2 .4M10.8 38.4l.5 .9M14.9 39.2l-.8 .1M21.4 37.9l.7 .7M28.5 38.7l-.1 .6M33.3 38.9l.1 0M35.3 39.5l.8 0M37.5 38.6l-.8 .3M39.8 39.2l-.1 .2M42.3 38.3l-.7 1.6M44.4 38.3l-.2 .5M45.4 38.7l.2 .6M53.3 38.9l.5 1.1M55.5 38.4l-.2 1.7M58.1 38.6l-.4 1.7M58.9 37.5l1.4 1.2M61.3 37.8l2.1 .7M-.5 39.9l-.6 .4M2.4 40l-1.5 .9M2.3 40.2l.2 0M5.6 40.2l1.5 1M8.2 40.6l-.3 .4M11.6 40.3l.6 .1M14.1 40.7l.4 .1M16 41.2l.1 .1M18.7 40.5l0 .1M23.6 39.8l-.5 .8M24.8 41.2l2.1 .4M29.2 41l.1 .4M31.4 40.5l.7 .7M36.4 39l0 2M37.7 39l.5 2.1M39.1 40.4l1.8 .6M50.1 40.7l-1.1 1.5M50.8 41.3l.3 .3M58.3 39.7l-.2 .6M61.2 40.3l-2.1 .4M65.6 40.2l.1 .4M.4 42.1l.4 .5M9.3 42.2l-.7 1.2M10.1 42l1.6 .1M12.9 41.5l.8 1.3M15.9 42.9l-.1 .2M18.1 43l-.8 .6M20.6 42.7l-.4 1.4M22.6 42.4l-.1 0M39.6 43l.5 .4M41.7 41.9l.5 .3M44.8 41.7l-.8 1.3M45.1 41.8l1 .7M48.2 42.3l0 0M49.9 42.7l1.1 .2M55.3 42.7l.5 .1M58 42.7l-.3 .2M64.4 42.3l-.4 .7M-2.5 43.3l1.4 .9M.9 44.2l-1.5 .9M2.9 44.2l0 0M16.8 44.1l.1 .6M18.8 44l-.1 1.2M22.7 44.7l1.3 0M28.4 45l-.6 0M32.1 44.1l.7 1.1M35.4 44.8l.9 .9M37.7 43.9l.9 1.3M48.1 43.9l-.1 .2M50.7 43.3l1.2 1.7M54 43.9l-.2 .1M55.9 45.1l.6 .3M58.2 44l-.2 .6M61.2 45l0 0M62.5 44.4l-.6 2.1M63.7 44l.8 1.6M.4 46.1l.6 .6M3.3 46.8l-1.1 .4M5.6 46.5l-1.5 .4M6.9 47.3l.1 .1M8 46.5l.6 .7M17.9 46.9l-.7 .9M19.7 46.3l1.8 .6M21.7 46.4l.2 .2M24.1 46.4l1.1 .2M29.4 46.8l1.7 .6M34.7 45.9l-.3 .1M36.4 46.6l.2 .6M44.2 46.9l0 0M49 45.9l-.6 .4M61.1 45.8l1.4 .7M63.8 47.2l0 .3M66.1 45.9l-.5 1.2M-.4 48.8l.1 0M6.2 48.8l-.4 .3M10.5 47.7l-1.4 .3M12.6 47.6l.5 .1M14.5 47.3l-.9 1.4M17 48l-.3 .1M21.6 49.1l1.6 .3M28.3 48.7l-.1 .7M32.3 48.5l-1.5 .4M35.7 48l.5 1.8M42.8 49l-1.5 0M55.6 47.9l.2 2M58.3 47.4l-1 .6M61 48l.4 .3M63.1 48.9l0 .7"/><path stroke="#5cd01a" stroke-width="1.5" d="M16.4-.6l.2 0M23.8-1.6l-.3 .4M21.3 4.1l0 0M38.3 10l1.8 .3M54.6 12.2l0 1M32.1 15.5l.2 .6M48.4 16.3l0 0M58 17.8l-.8 .1M66.6 19.3l-1.4 1M62.6 20.6l1.4 1.4M23.1 24.4l1.1 .3M27.7 22.9l0 0M48.1 23.2l-.3 .6M36.2 32.7l.4 .4M24.8 34l-.3 1.3M63.6 34.4l.4 .3M58.1 38.6l-.4 1.7M35.4 44.8l.9 .9"/><path stroke="#5cd01a" stroke-width="2" d="M19.8-2l1.4 1.7M25.7 2.5l.2 .9M35.6 1.7l1.4 .6M57.5 7.1l2 .3M60.3 6.4l.6 .1M19.8 8.1l1.4 .5M46.3 8l.8 1.1M11.6 9.8l0 0M50.3 10.9l-.7 .3M1.9 12.2l-.6 1.4M4.4 11.1l-.6 2.1M25.9 12.8l1.3 .1M52.3 11.4l-.1 .1M1.7 17.6l-.1 1.4M5.9 18.1l-.1 0M23.2 16.8l.9 .8M29.6 19.3l-.6 1.2M39.5 19.3l1.7 .1M59.6 19.9l.9 1.1M-.5 23.2l.8 1.4M44.3 23.4l.8 1.5M36 24.4l.8 .5M61.3 25.4l-1.5 .3M2.7 26.8l1.8 .1M41.3 27.5l0 .2M5.1 29l1.6 .5M33.7 28.7l0 .5M38.2 29l.2 .3M20.4 31l-1 2M15.4 32.6l2 .8M3.5 36.2l-.1 .2M38.6 36.5l.3 .5M48.7 36.6l.6 .2M31.4 40.5l.7 .7M20.6 42.7l-.4 1.4M2.9 44.2l0 0M61.2 45l0 0M21.7 46.4l.2 .2M63.8 47.2l0 .3M14.5 47.3l-.9 1.4M42.8 49l-1.5 0"/><path stroke="#5cd01a" stroke-width="1.8" d="M54.4-1.6l.1 1.1M32.9 .5l.9 1.7M66 2.2l-.3 0M55.3 3.3l.6 1.5M-.6 5.4l-.8 .9M56.2 6l1.4 .3M10.5 7.6l-.1 .1M32.6 8.4l-.3 .1M52.1 7.8l-.4 .3M16.3 14.4l-.2 .1M35 13.3l0 .1M51.1 14.3l1.9 1M36.7 16.3l.2 .1M64.5 16.4l-.2 .3M24.6 17.9l.2 .1M64.1 17.4l.7 .4M64.7 18.9l-.1 .5M3.2 21.6l.1 .2M28.3 21.5l-.1 .7M65.3 21.2l.4 .1M30.4 22.4l1.1 1.2M32.4 22.8l-.5 .9M.5 25.5l.3 .3M39.7 27l-.8 1.4M6.5 31.5l.3 .3M55.2 31.1l-1.6 .2M40.7 33.1l-.2 .6M6.9 34.9l.1 1.6M45.4 33.9l0 1.2M44.4 38.3l-.2 .5M5.6 40.2l1.5 1M8.2 40.6l-.3 .4M61.2 40.3l-2.1 .4M39.6 43l.5 .4"/><path stroke="#5cd01a" stroke-width="2.2" d="M60.1 11.8l1.9 .3M34.8 21.7l.3 0M26.2 22.2l1 1.1M55.5 26.2l.3 .1M-.5 39.9l-.6 .4M23.6 39.8l-.5 .8M50.1 40.7l-1.1 1.5M24.1 46.4l1.1 .2M21.6 49.1l1.6 .3"/><path stroke="#6ede26" stroke-width="1.8" d="M-1.5-1l1.8 .1M5.3-1.7l.7 1.1M37 .6l.4 .3M59.4-.1l-1.3 1.1M5.6 1.9l-1.8 .1M16.4 2.1l.2 .1M39 2.4l-.9 1.3M17.9 4.4l-1.3 1.1M27.3 3.7l-.5 1.5M64.5 6.6l0 1.3M18.4 8.2l.2 .1M29.5 7.4l-1.9 .9M39.9 8.1l-1 .5M43.9 7.2l-.5 1.9M56.6 6.9l.5 2.1M27.1 9.6l.2 .3M34.7 9.9l0 1.5M55.4 10l-.4 1M24.2 11.1l-.4 1.1M36 11.7l-.5 1M46.6 11.8l0 .2M9.7 13.3l1.7 .1M20.7 14l1.3 .2M44.1 14l-1.6 .5M65.4 15.9l-.1 .2M-1.2 18.7l0 0M33.9 16.7l1.1 1.2M22.3 19.8l1 .3M24.2 19l.2 .7M34.8 18.9l-2 .6M56 19.5l-1.4 .4M8.3 22.7l-1.8 .7M11.5 23.3l-.2 .5M37.7 23.7l.4 1.4M66 24l-.6 .3M52.2 25.7l.5 .7M23.5 26.3l.4 1.2M54.3 26.6l0 1.2M60.1 27.1l-.2 .3M65.4 27l.5 .5M26.9 28.3l.5 2M56.9 29.7l-.6 .4M24.3 31.3l.9 .5M49 30.8l.5 .2M62.4 30.1l-.1 1.6M43.5 33l-1.2 .8M22.8 34.8l-.1 0M44.6 33.9l.5 .7M7.2 37.1l-2 .3M52.5 36l-.5 1.5M.9 37.9l-.3 1M10.8 38.4l.5 .9M45.4 38.7l.2 .6M37.7 39l.5 2.1M22.7 44.7l1.3 0M32.3 48.5l-1.5 .4"/><path stroke="#6ede26" stroke-width="2" d="M1.3-1.8l1 .8M57.3-.8l-1.7 .1M65.6-2.5l-.1 2M41.2 .2l0 1.4M11.8 2.3l-.6 .5M7.5 6.5l-.1 .9M34.5 6.3l-.2 .3M27.1 8.4l.1 .9M16.3 11.7l-.1 .1M28.9 11.6l-.5 .9M40.3 12.4l0 .1M12.1 14.3l1.6 .6M26 13.6l1.3 .4M48.5 13.9l-1 .5M52.7 13.1l1.2 1.3M12.8 14.6l-.3 1.3M20.4 15.7l-.4 .3M49.7 17.4l.2 1.6M62 18.4l-.3 .1M7.5 19.3l-2.2 .3M26.2 19.9l.2 .3M46.2 19.1l-.3 .4M47.7 19.7l.8 1.5M53.1 20.5l-1.2 0M53.3 20.8l1.3 .9M58.3 23.6l-1.4 .5M16.7 26.2l-.3 .1M30.3 26.1l-.2 1.1M57.5 26.9l-.1 .1M23.7 29.4l.4 .2M12.2 31.5l.8 1.1M22 31.4l-.1 1.5M31.4 30l-.4 1M58.9 31.5l1.7 .9M12.4 32.4l0 .3M23.2 32.7l1.1 1.4M56.5 33.2l-.2 .5M-.3 34.1l.5 1.2M29.2 35.5l-.7 1.7M42.5 37.2l-1 1M55.5 38.4l-.2 1.7M41.7 41.9l.5 .3M58 42.7l-.3 .2M-2.5 43.3l1.4 .9M16.8 44.1l.1 .6M54 43.9l-.2 .1M55.9 45.1l.6 .3M62.5 44.4l-.6 2.1M5.6 46.5l-1.5 .4M-.4 48.8l.1 0"/><path stroke="#6ede26" stroke-width="1.5" d="M13.1-2.1l-2.1 .8M13.4-1.6l.5 .8M30.2 .1l.9 .2M9.5 2.9l-1 .3M44.4 5.4l-.2 0M60.7 10.1l.1 .4M58.9 12.7l-1.8 .8M56.2 17.1l-.8 .7M-.9 18.9l1.3 .6M20 19.5l-.4 .6M23 23.6l-1.1 .5M44.9 22.9l2 .3M22.6 26.8l0 0M45.1 27.3l.6 .5M4.6 28.7l-.9 1.7M5 33.2l.1 .6M.3 36.5l1.6 .2M52.2 36l1.9 .8M37.7 43.9l.9 1.3M49 45.9l-.6 .4"/><path stroke="#6ede26" stroke-width="2.2" d="M65.3-.5l.1 1.8M25 21.1l-.9 1.4M53.3 38.9l.5 1.1M39.1 40.4l1.8 .6M63.7 44l.8 1.6M8 46.5l.6 .7M34.7 45.9l-.3 .1"/><path stroke="#82e638" stroke-width="1.5" d="M30.2-2l-1.4 .6M45.5-.9l-.4 1.2M7.3 0l-1.8 1.2M30.1 6.8l-.8 .7M47.7 7.8l.3 1.6M51.6 8.8l-.9 .6M17.2 13.7l1.4 1.4M-1.4 16l1.9 .1M4.6 15.7l1.1 .7M28.6 16.9l.6 1.6M56.3 21.3l-.3 1M14.9 24.8l0 .8M10.3 27.5l0 1.2M37.1 26.6l-.8 .4M2.1 28.7l-.6 0M7.2 30l0 0M1.3 32.4l-.7 .1M21.4 37.9l.7 .7M35.3 39.5l.8 0M2.3 40.2l.2 0M.4 42.1l.4 .5M18.1 43l-.8 .6M48.1 43.9l-.1 .2M12.6 47.6l.5 .1"/><path stroke="#82e638" stroke-width="1.8" d="M32.8-.5l1.5 0M.9 .5l-.4 0M54 1.1l.4 .8M57.5-.2l-1 .3M-2.3 2.9l.8 .1M56.4 1.7l-.4 1.3M3 4.5l.2 .3M45.1 3.4l1.6 .8M48.1 4.1l-.1 0M50.9 4.5l2 .5M58.6 4.2l-1.9 1M64.5 2.8l-.5 2.1M3 5.3l1.1 1.5M20.2 6.7l-.1 1.5M41.3 7.9l-.5 1.5M16.1 10.8l-1.9 .6M22.2 10l.1 .1M50.9 9l1.1 .8M5.7 12.2l.2 0M14.9 14.6l.1 .1M57.6 13.5l-1.4 .5M11.6 20.4l-.2 .3M43.4 19.3l-.1 0M50.4 20.4l.2 .1M61.7 18.5l-.7 .9M28.8 21.6l0 0M37.4 20.6l.6 .9M26.2 26.2l1.3 .4M65.9 24.5l-.2 1.9M52.9 27.9l.8 .5M1.5 29.7l1 1.5M33.9 31.7l-.9 .8M63.3 31.6l.5 1.1M38.6 33.3l-1.4 .3M52.2 33.5l.7 .9M58.5 34.1l-1.4 .8M17.3 36l-.3 1.2M40.5 36.1l-.3 1.1M28.5 38.7l-.1 .6M33.3 38.9l.1 0M50.8 41.3l.3 .3M12.9 41.5l.8 1.3M48.2 42.3l0 0M.9 44.2l-1.5 .9M6.9 47.3l.1 .1M36.4 46.6l.2 .6"/><path stroke="#82e638" stroke-width="2.2" d="M47.3-2.2l1 .9M24.6 2.8l-1.9 .6M62.2 10.9l2.1 .5M32.7 11.8l0 .1M36.1 19.1l1.1 .6M2 21.2l0 .1M20 23.1l1.1 .8M6.7 27.5l-.7 1.1M12.4 28.1l.2 1.7M49.8 33.7l-.1 .2M58.4 36.5l.3 0M61.3 37.6l0 0M3.3 46.8l-1.1 .4M10.5 47.7l-1.4 .3M58.3 47.4l-1 .6M63.1 48.9l0 .7"/><path stroke="#82e638" stroke-width="2" d="M-.8 5l-.1 .5M8.5 7.8l.9 .8M12.9 8.5l-.3 .4M16 8.8l-.2 .2M37.9 8.1l.6 1M58.8 7.7l1.3 0M63.4 8.1l-.3 1.6M42.6 9.4l.7 1.1M45.6 10.5l-.4 1.2M65.5 10.4l0 0M23.3 13l-1.9 .1M4.4 14.8l.4 .1M40.1 14l-.1 .1M63.6 13.8l-.8 0M26.7 14.8l-2 .7M43.6 15.5l-.2 .8M19.7 18.5l-1.9 .4M31.7 17.3l1.3 .2M43.7 17l-1.2 1.6M4.5 20.6l.5 .7M36.4 21.6l.1 .2M61 21.1l-.2 .6M5.6 22.7l-1.3 .5M14.8 22.9l.2 0M36 23.1l-.7 .6M52.1 24l.3 .5M2.8 25.9l1.3 .6M30.8 24.7l-1.3 1.5M28.1 27.2l0 .5M60.2 29.9l.1 .1M-.7 30.9l-.4 .3M12 30.1l-.8 1.1M35.9 30.9l-.3 .3M.1 33.1l-.8 1M28.3 33.8l-1 .5M36.1 34.2l-.5 .3M52.6 34.3l.9 .3M54.4 34.8l2 .5M34.5 36.1l-.6 1.3M39.8 39.2l-.1 .2M42.3 38.3l-.7 1.6M61.3 37.8l2.1 .7M2.4 40l-1.5 .9M10.1 42l1.6 .1M49.9 42.7l1.1 .2M55.3 42.7l.5 .1M28.4 45l-.6 0M32.1 44.1l.7 1.1M50.7 43.3l1.2 1.7M.4 46.1l.6 .6M29.4 46.8l1.7 .6M61.1 45.8l1.4 .7M28.3 48.7l-.1 .7"/><path stroke="#9cee54" stroke-width="1.8" d="M4-.8l-1.4 0M20.2-.5l0 1.4M46.3 .2l-.3 .8M21.8 1.6l-.1 1.3M32.3 2.8l.2 .3M16.1 4.4l0 1.7M38.2 4.2l-.1 0M10.5 6.7l-1.9 .8M19.3 10.5l0 .9M64.5 11.1l-.5 1.7M25 13.5l.2 .3M2.1 14.7l1.1 1.3M46.3 16.4l0 0M50.1 15.7l.3 .5M58 15.5l1.8 1M61.2 16.5l.6 .4M3.2 18.5l-.1 .4M28.1 17.3l.1 .8M2.6 19.5l-.3 .4M13.2 18.8l.5 .4M7.1 21.5l.2 .1M13.5 24.5l0 0M5.1 26.4l-.1 0M7.7 26.1l0 .6M20.7 24.9l0 .4M42.1 24.6l.5 1.1M44.9 24.1l-1.3 1.7M35.4 27.2l.6 1.1M58.9 27.9l.5 1.6M41.4 31.4l0 .7M30.4 32.8l0 .2M57.3 33.5l.6 1M59.3 32.9l1.9 .6M25.4 35l.6 1M4.1 38.8l-.2 1.6M24.8 41.2l2.1 .4M29.2 41l.1 .4M9.3 42.2l-.7 1.2M22.6 42.4l-.1 0M64.4 42.3l-.4 .7M18.8 44l-.1 1.2M44.2 46.9l0 0M66.1 45.9l-.5 1.2"/><path stroke="#9cee54" stroke-width="2.2" d="M6.6-1.9l.6 .5M7.3 3.9l-.7 .2M31.7 5.3l0 1.1M51.3 6.9l-.3 .2M33.2 10.6l-1.4 .4M8.5 23.7l-.9 .1M25.4 25.8l.3 1.4M49 24.6l-.3 .2M48.9 29.7l-1.5 0M29.1 30.1l-1.4 .8M6 38.7l.2 .4M58.9 37.5l1.4 1.2M14.1 40.7l.4 .1M36.4 39l0 2M58.2 44l-.2 .6M35.7 48l.5 1.8"/><path stroke="#9cee54" stroke-width="1.5" d="M36 .1l-1.1 .7M46.8 2.7l.6 .7M61.5 4.2l.2 1.4M46.3 7.3l.3 .2M25.4 10.2l.2 .2M19.7 12.9l-.6 .1M7.9 13.8l.8 .9M54.9 15.7l1 1M13.3 18.2l-1.9 .3M2.6 23.5l-.5 .1M60.9 27.2l-.4 0M42.4 29.1l.2 1.6M44.6 29.1l.7 1.5M53.2 29.8l.4 .8M66.3 29.5l-1 .3M3.2 33.4l-.7 .4M53.4 32.1l1.2 .7M2.4 34.2l-.1 0M9 35.2l-.4 1M44.2 36.3l1.8 1.2M14.9 39.2l-.8 .1M15.9 42.9l-.1 .2M17.9 46.9l-.7 .9M55.6 47.9l.2 2"/><path stroke="#9cee54" stroke-width="2" d="M64.5 .2l.1 .1M62.4 3.1l1.3 .3M12.1 3.8l1.7 .5M30.4 3.4l.2 1.4M11.9 6.1l-.9 1.1M-.2 9.2l.2 .1M61.8 8.6l-.1 .1M17.2 10.5l0 .5M53.8 9.4l.3 1.5M31.1 12.1l-2 .2M47.7 12.4l-.3 1.4M59.1 14.3l-.5 .4M9.5 16.8l-1.1 0M30.7 16.1l.1 1M38.5 16.4l1.5 .1M41.7 16.6l.8 .2M44.7 18.4l-.9 .7M30.6 18.3l-.5 1.8M10.3 21.1l.1 1M17 21.9l1.7 .1M48.8 21.2l-.1 1.5M41.7 24.3l1.5 .1M18.4 25.1l.9 .5M32.3 29.2l.7 1.5M40.9 27.9l-.4 2.1M39.4 29.8l-.4 1.4M45.9 30.5l-1.1 0M51.1 31.9l.4 .2M66.9 30.3l-1.3 .9M8.6 31.9l-1.1 .8M41.9 34.3l-.7 .6M-2.2 37.1l.4 .2M57 36.5l-.2 1.7M37.5 38.6l-.8 .3M11.6 40.3l.6 .1M16 41.2l.1 .1M18.7 40.5l0 .1M58.3 39.7l-.2 .6M65.6 40.2l.1 .4M44.8 41.7l-.8 1.3M45.1 41.8l1 .7M19.7 46.3l1.8 .6M6.2 48.8l-.4 .3M17 48l-.3 .1M61 48l.4 .3"/></g>
<rect x="0.5" y="0.5" width="63.3" height="46" fill="none" stroke="#081204" stroke-opacity="0.75" stroke-width="1"/>
</svg>
<rect x="156.8" y="520" width="24.2" height="7.6" fill="#fff"/>
<text x="179" y="527.3" font-size="8.4" fill="#333" text-anchor="end" textLength="18.6" lengthAdjust="spacingAndGlyphs" stroke="#333" stroke-width="0.2">5 min</text>
<svg x="49" y="533.3" width="64.6" height="47" overflow="hidden">
<rect width="65.6" height="48" fill="#141d0a"/>
<g filter="url(#b6)" fill="none" stroke-linecap="round"><path stroke="#2a4019" stroke-width="1" d="M-.4 7.1l0 0M20.7 7.6l0 0M45.9 30.1l0 0M28.2 28.4l0 0M3.1 40.4l0 0"/><path stroke="#2a4019" stroke-width="1.5" d="M29 25.1l0 0M2.2 2.6l0 0"/><path stroke="#2a4019" stroke-width=".8" d="M26.9 16.9l0 0M31.4 39.3l0 0M55 18.8l0 0M38.1 21.1l0 0"/><path stroke="#2a4019" stroke-width="1.2" d="M.5 38.7l0 0"/></g>
<rect x="0.5" y="0.5" width="63.6" height="46" fill="none" stroke="#081204" stroke-opacity="0.75" stroke-width="1"/>
</svg>
<rect x="88.8" y="572.5" width="24.8" height="7.8" fill="#fff"/>
<text x="91.8" y="579.6" font-size="8.4" fill="#333" textLength="20.2" lengthAdjust="spacingAndGlyphs" stroke="#333" stroke-width="0.2">0 min</text>
<rect x="56.9" y="577.1" width="7.6" height="1.7" fill="#d4dccb"/>
<svg x="116.7" y="533.3" width="64.3" height="47" overflow="hidden">
<rect width="65.3" height="48" fill="#121e09"/>
<g filter="url(#b6)" fill="none" stroke-linecap="round"><path stroke="#4a7e32" stroke-width="1" d="M23.9 7.7l0 0M14.9 1.3l0 0M19.3 10.7l0 0M36.7 17.4l0 0"/><path stroke="#27441a" stroke-width="1.5" d="M16.2 44.7l0 0M33.6 25.8l0 0M2.5 6.6l0 0M34.3 7.2l0 0M1.8 14.5l0 0M20.8 34.7l0 0M60 38.1l0 0M.9 11.2l0 0"/><path stroke="#315a20" stroke-width="1.2" d="M6.9 26.7l0 0M29.5 5l0 0M58 39.1l0 0M12.5 4.5l0 0M.6 41.7l0 0M21.7 32.7l0 0M35.9 33.5l0 0M29.3 2.5l0 0M62 14.7l0 0"/><path stroke="#4a7e32" stroke-width="1.5" d="M42.1 41.2l0 0M.7 5.1l0 0M50.7 43.5l0 0M5.2 24.7l0 0M50 37.1l0 0M34.4 30.2l0 0M40.4 31.6l0 0"/><path stroke="#3e6e2a" stroke-width="1.2" d="M11.3 .7l0 0M30.3 46.9l0 0M30.6 18.6l0 0M53 5.3l0 0"/><path stroke="#27441a" stroke-width="1" d="M1.5 10.7l0 0M59.7 28.9l0 0"/><path stroke="#27441a" stroke-width="1.8" d="M44.2 10.5l0 0M38.3 26.9l0 0M64.5 12.6l0 0M58.1 37.5l0 0M3.4 28.7l0 0M26.8 7.2l0 0"/><path stroke="#4a7e32" stroke-width="1.2" d="M4.9 9.5l0 0M63.3 6.7l0 0M60.6 4.2l0 0M25.5 8.3l0 0"/><path stroke="#315a20" stroke-width="1" d="M64.8 12.8l0 0M35 16.5l0 0M17.6 13.1l0 0"/><path stroke="#315a20" stroke-width="1.5" d="M38 14.4l0 0M16.1 3.2l0 0M56.3 21.2l0 0M14 37.3l0 0"/><path stroke="#315a20" stroke-width="1.8" d="M19.7 42.3l0 0M43.3 24.8l0 0M39.5 27.4l0 0M4 24.4l0 0M7.3 17l0 0"/><path stroke="#3e6e2a" stroke-width="2" d="M52.3 9.6l0 0M33.4 32.6l0 0M65.1 23l0 0M35.7 28.9l0 0"/><path stroke="#3e6e2a" stroke-width="1.5" d="M17.6 30.9l0 0M34.2 32l0 0M21.8 12.9l0 0M51.2 18.4l0 0M37.2 42l0 0M48.7 26.1l0 0M-.4 40l0 0M47.9 15.3l0 0"/><path stroke="#27441a" stroke-width="1.2" d="M26.6 6.9l0 0M16.1 5.4l0 0M43.5 37.2l0 0M11.6 27.4l0 0M0 3.1l0 0M47.3 31.8l0 0"/><path stroke="#4a7e32" stroke-width="1.8" d="M45.7 33l0 0M47.6 29l0 0M59.4 24.7l0 0M7.3 44.9l0 0M16.9 12.1l0 0"/><path stroke="#3e6e2a" stroke-width="1.8" d="M64.2 27.2l0 0"/><path stroke="#4a7e32" stroke-width="2" d="M28.1 43.4l0 0M10.8 11.7l0 0M23.3 32.1l0 0M42.4 42.8l0 0M16.9 30l0 0M43.7 43.7l0 0"/><path stroke="#27441a" stroke-width="2" d="M14.4 3.4l0 0"/><path stroke="#315a20" stroke-width="2" d="M36.5 16.3l0 0M27.6 36.4l0 0M65.3 32.9l0 0"/></g>
<g filter="url(#b6)" fill="#7ccb54"><circle cx="42" cy="17" r="1.3"/><circle cx="47" cy="20" r="1.1"/><circle cx="52" cy="19" r="1.4"/><circle cx="58" cy="19.5" r="1.6"/><circle cx="50" cy="28" r="1.3"/><circle cx="26" cy="10" r="1"/><circle cx="6" cy="37" r="1"/><circle cx="30" cy="21" r="0.9"/><circle cx="36" cy="24" r="0.8"/></g>
<rect x="0.5" y="0.5" width="63.3" height="46" fill="none" stroke="#081204" stroke-opacity="0.75" stroke-width="1"/>
</svg>
<rect x="156.8" y="572.7" width="24.2" height="7.6" fill="#fff"/>
<text x="179" y="580" font-size="8.4" fill="#333" text-anchor="end" textLength="18.6" lengthAdjust="spacingAndGlyphs" stroke="#333" stroke-width="0.2">5 min</text>
<svg x="49" y="609.7" width="64.6" height="47" overflow="hidden">
<rect width="65.6" height="48" fill="#243e13"/>
<g filter="url(#b6)" fill="none" stroke-linecap="round"><path stroke="#2c4a1b" stroke-width="1.2" d="M20.9 21.3l0 0M65 44.2l0 0"/><path stroke="#2c4a1b" stroke-width="1.5" d="M26.5 20.7l0 0"/></g>
<rect x="0.5" y="0.5" width="63.6" height="46" fill="none" stroke="#081204" stroke-opacity="0.75" stroke-width="1"/>
</svg>
<rect x="88.8" y="648.9" width="24.8" height="7.8" fill="#fff"/>
<text x="91.8" y="656" font-size="8.4" fill="#333" textLength="20.2" lengthAdjust="spacingAndGlyphs" stroke="#333" stroke-width="0.2">0 min</text>
<rect x="56.9" y="653.5" width="7.6" height="1.7" fill="#d4dccb"/>
<svg x="116.7" y="609.7" width="64.3" height="47" overflow="hidden">
<rect width="65.3" height="48" fill="#061806"/>
<g filter="url(#b5)" fill="none" stroke-linecap="round"><path stroke="#14400a" stroke-width="2.2" d="M5.1-1.5l.5 .9M7-1.8l.9 1M10.7-.9l.7 .2M12.2-1.3l1.1 1.2M13.8-1.2l1.2 .3M19.9-.9l-.6 0M20.7-.5l0 .2M24.6-1.2l1.5 .8M27.1-.3l-1.3 .1M28.6-1.9l1 .2M34.3-1.1l-1.4 1M43.2-1.3l.4 .2M44.6-.9l.5 .5M48.1-1l-.9 1.5M54-.3l-1.2 .1M56.6-2.3l-.3 1.5M58.3-1l-.1 0M61.3-1.6l-.5 .1M63.1-.8l1.4 .8M-.1 .9l-.1 .1M6.6-.3l-1 1.1M8.1 .8l-1.1 1M10.1 .6l-1.6 .7M11.7 .1l1.7 .9M16.1-.2l1.3 1.2M21.7 0l-.1 .1M26.4 1.4l0 .2M30-.1l-.2 0M33.1 .2l-.9 .9M38.4 .9l-.3 0M39.9 .9l.3 .3M41.6 .1l-.1 .5M50.8 .6l-.5 0M54.4 0l-.4 .4M56-.7l.6 1.4M60.8-.3l-1 1.7M66.4 .9l-1.6 1M-2 1.9l.9 1.3M.7 2.7l-.4 .1M2.3 1.8l.3 1.9M4.8 2.7l-.5 .3M14.6 2.4l.4 0M18.2 2.2l-1.1 .2M20.2 2.8l-.9 .8M25.7 1l-.2 1.9M30.9 2.5l1.1 1.1M33.9 2.8l-.4 .4M34.1 2.5l1.8 .4M37.2 1.3l-.8 1.2M38.9 1.6l.6 .8M43.1 2.4l-.1 .3M46.8 2.6l.9 .8M48.9 2.3l.4 .3M53.9 1.6l-.6 1M60.8 1.3l1.3 1.1M63 1.5l-.3 .9M2.4 4.4l-.2 .5M6.2 3.7l-1.2 1.1M8.2 4.6l1.1 .1M10.9 2.9l-1.5 1.1M12.6 4.3l-.4 .3M19 2.9l-.4 1.4M22.8 3.6l-.5 1.4M28 3l-.9 1.5M34.1 3.8l-.1 1M36.8 3.5l-.2 .7M39 3.2l-1 1.3M42 3.9l.3 .2M43.8 3.4l-.7 1.4M46 3.1l.2 .6M49.9 4.3l-.4 .7M54.2 3.8l1.1 1.2M56.8 4.5l-.5 .4M59.4 4.6l-.2 .8M62 4.2l-.6 .2M65.5 3.6l-.3 1.5M10.4 5.6l.3 .1M16.5 5l-.3 .4M19.8 5.4l-1.4 .5M19.7 5.3l1.7 .8M23.6 5.5l-.7 .5M27.6 5.3l.4 .4M28.3 5.7l.2 .2M31.2 5.7l.9 1M32.7 5l0 .4M36 5l-1.3 .7M43.1 6.2l1.3 .1M44.5 5.9l-.2 0M48.4 5l.6 .6M51.5 6.2l0 .1M56 5.8l-.5 1M59.2 6l1.3 .3M62.6 6.3l-.1 .5M.7 7.3l.2 .6M3.7 7l1.5 .4M9.3 6.4l.6 .9M17.5 6.8l.3 .2M20.1 6.5l.5 1.8M21.8 8.3l-1 .1M25.4 7.1l-.4 .8M27.5 7.7l-.1 .2M31.2 8l-.9 .1M33.9 7.4l.9 1M37.7 8l-.2 .5M39.2 7.8l.3 .4M42.8 7.3l-.6 1.2M49.9 7.8l0 .4M55.5 8l-1.4 .1M56.9 7.3l-.5 1.4M62.2 6.9l-.3 .9M63.9 7.4l.3 1.6M-1.6 9.9l0 0M1.6 8.2l-.5 1.3M1.4 8.7l1.6 .9M5.3 8.6l.9 .1M9 8.6l.7 .3M13.6 8.9l-.6 .2M15.2 8.8l.4 .3M19.6 8.6l-.8 .6M23.8 8.6l-1.4 .1M30.8 9.4l1 .5M39.2 9.5l-1.5 .9M40.2 9.4l.1 .4M43.4 8.6l-1.2 .1M44.9 9.5l-.1 .6M48.5 9.5l-.1 .6M52.8 8.3l.7 1.7M56.8 9.1l-.1 0M58.6 9.3l-.5 .2M61.7 9.6l1.9 .1M-.4 10.4l-.3 0M3.4 11.6l-.2 .1M6.9 11.6l1.7 .3M11.6 10.4l1.2 .1M13.9 11.7l1.1 .1M15.9 10.7l.3 1.4M18.6 11l0 1.4M22.2 10.5l-.2 .3M24.3 11.3l-1 .6M26.7 10.6l-.6 .3M29 11.2l-1.1 .1M34.5 10.6l0 .1M40.1 11.3l-1.2 .5M41.5 11.3l0 .8M44.1 10.6l.3 1.3M47.5 11.5l-1.5 .4M48.2 10l.9 1.6M50.1 10.5l-.7 .8M52.3 10.4l-.3 .2M60.7 10.6l.1 .3M-2 13.3l1.8 .3M-.1 12.8l.6 1.1M3.3 13.4l-.6 .3M4.6 12.9l.7 .4M7 12.7l-1.1 1.2M14.5 13.4l.3 0M16.2 12.8l.2 .7M18.7 12l.1 .5M22.5 13l.2 .3M29.3 12.8l-1.4 .5M32.7 12.6l-.2 0M35.7 12.1l-.3 1.3M37.2 13.5l.1 .2M38.4 13.6l1.5 0M40.7 12.2l1.3 1.4M45.4 12.6l.7 .4M49.5 12.9l-.3 .5M50.2 12.2l1.9 .4M53.5 13.4l-.9 .2M57.3 11.8l.6 .7M59.6 11.9l-1.5 .4M60.5 12.8l.9 1M63.3 12.5l.2 0M66.2 12.7l-1 .5M6.1 14.4l.2 .2M10.4 14.1l-1.7 1M14.4 15.1l-.4 .4M16.2 15.1l-.7 .5M18.6 14.1l-.2 2M23.2 13.6l.6 1M26.4 14.6l-.8 .2M29.1 14.8l-1.5 .6M29.9 13.9l-.3 .5M33.7 14.9l.2 .1M36.5 14.1l-.3 .1M38.6 13.9l.1 .4M42.4 14.6l.1 .4M43.2 15.1l.1 .1M46.2 14.7l-.3 .4M48.5 14.1l-.2 .9M48.7 15.2l1.5 .1M52.9 13.7l-.3 .2M53.4 14.6l-.2 .3M55.5 14.6l.9 .2M58.3 14.2l-.3 0M63.8 13.5l.7 1.4M-1.5 15.9l.6 1.7M3.9 16.2l-1.6 .3M5.1 15.6l.1 .2M6.3 15.6l1.1 .9M8.4 16.4l0 .2M9.6 16.3l1.4 0M15.8 16.1l-.8 .7M17.1 15.6l.7 .9M20 15.7l-1.6 .6M23.4 15.9l-.8 .1M28.7 15.3l.1 1.1M36.6 15.1l.5 1.3M40.9 15.5l0 1M43.5 15.4l-.6 .4M45.2 16.3l-.5 .4M54.8 16.6l-.1 .3M57.1 16.4l-.9 .6M62.9 16.8l.9 .1M-.4 17l0 .8M1.2 18.1l.9 .8M4.6 17.8l.2 .8M9 17.8l-.8 1.4M16.6 18.3l-.5 .9M22.9 17.2l-1.1 .7M22.8 18.5l1.4 .4M26.4 17.5l-1.2 .8M30.9 18.2l-.6 .1M33.8 17.7l-1.1 .3M38 16.9l.6 .8M41.5 17.2l0 .2M44.6 17.1l-1.1 .5M49.3 17.4l.2 1.4M51.4 17.3l.1 .9M54.7 17.8l-.6 1.1M55 18.1l.3 .8M61 18l-1.9 0M64.1 18.3l.1 0M2.2 19.5l0 1.7M5.2 19.8l-.6 .3M8.5 19.2l.6 1.2M11.9 19.7l-.4 .1M16.1 19l1 1M20.4 19.1l-1.7 .3M20.7 19.1l.2 .4M25.5 20.2l-.1 .1M26.9 19.9l1.3 1.3M29.2 19.9l.8 .3M32.5 19.8l-1.8 .2M36.9 20l.3 .9M41.1 19.8l-1.4 .6M43.3 18.9l-.6 1.3M44.2 19.8l.6 1.1M49.9 19.1l-.7 1.1M55.3 20l-.3 .6M62.5 19.9l.1 .1M65.1 19.8l-1 .2M.4 20.7l-1 1.4M1.7 22l.2 .1M9.3 21.4l-1.5 .9M12.9 22.2l-.3 0M14.4 20.9l.4 .9M15.7 21.4l-.2 0M19 20.8l.5 1M23.2 21.5l.1 0M27.1 20.8l.6 .8M28.8 20.5l.9 .9M42.9 20.5l-.5 1.6M44.5 21.6l-.7 1.4M46.9 21l.9 1.4M51.8 21.3l.7 1.5M53.9 22l-.4 .4M56.7 20.7l-.3 0M58.6 20.9l-.4 .6M59.3 21.1l.8 .1M66.6 22.1l-.1 .1M-1.6 23.7l1.6 .2M1.3 23.7l.5 .3M13.2 22.6l-.2 .2M15.9 22.3l-1.6 .6M18.2 23.2l1.6 .9M21.4 22.5l1.7 .8M28.6 22.6l0 .1M32.5 23.8l-.2 .3M38.7 22.8l0 0M43.2 22.9l0 0M47.2 23.9l.8 .2M49.3 23.3l-.7 0M49.8 23.7l1.8 .1M53 22.9l.1 .2M53.5 23.5l1.7 .3M59.1 21.9l-.6 1.3M60.7 23.2l.1 .1M62.5 22.8l-.4 .3M65.1 23.4l-.6 .5M-.4 24.3l-.1 .2M2.6 24.8l-.6 .9M4.3 23.6l-.1 1.2M7.9 24.1l.1 1M9.2 25.7l.3 .2M11.4 24.7l1.2 1.1M15 23.6l-.4 1.4M15.3 24.4l1.1 1.5M18.6 24.5l0 .5M22.6 25l-.2 .3M24.4 24.5l0 0M26.5 25.2l-.3 .5M28.1 23.9l.7 1M29.5 23.8l1 1.6M31.3 24.6l1.5 .2M34.5 23.6l0 1.5M38.4 24.3l-1.2 .3M39.7 24.1l-.3 1.3M41 24.5l.7 .1M43.5 23.8l.2 1.6M46.7 24.8l-.5 1.4M48.2 24.4l.3 .9M52.1 25l.6 1.1M54.1 25l.1 .3M56.6 25.3l.1 .4M59.8 25l.4 1.5M62.1 25.1l-.8 1M64.1 24.6l-1 .6M66.6 25.1l0 0M-.3 26.7l-.2 .6M5.3 27.2l0 0M6.4 26.9l1.8 0M9.7 25.8l-.5 1.7M11.8 25.9l-1.1 1.3M13.3 27l-.2 .2M14.8 26.1l-.1 .7M19.6 26.2l-.4 .6M21 26.8l-.1 0M22.9 25.8l.4 1.4M33.1 26.9l-1.1 .1M35 26.7l-1 1.5M37.2 26.1l.1 .3M39.4 26.3l-.1 .1M42.1 25.4l-.8 1.3M42.4 25.9l1.4 .6M45 26.3l.4 .1M51 26.3l-.2 0M59.8 25.8l0 .7M63.9 27l1.3 .4M.8 28.4l-.1 0M4.1 28.8l-1.5 .2M4.9 27.7l1.3 1.3M8.7 28.3l-.3 .2M10 28.9l-.3 .3M11.9 28.6l.2 1M14.7 28.3l-1.2 .7M16.1 28.7l.8 .6M23.6 27.7l.9 .3M27.9 27.4l-.5 .5M30.4 27.7l-.4 1.1M33.7 28.5l.6 1.2M37.1 27.7l1.5 .2M39.8 28.1l.8 1.1M41.8 27.4l1.2 .6M45.1 28.5l1.4 .2M47.2 28.9l.1 .1M49.7 28.3l.1 .3M53.3 27.7l-1.2 .4M58.4 28.1l0 .3M60.2 28.2l-.2 1.7M61.7 29.2l-.1 .1M63.2 27.9l.5 .7M65.3 27.9l.1 2M-.8 29.8l0 .1M5.4 29.4l-1.4 .4M7.7 30.7l-1.6 .1M14.6 29.6l.1 .1M17.8 29l.9 1.2M22.6 30.7l0 .1M24.9 29.3l.7 .2M28.8 29.8l-.7 .3M32.5 29.2l.2 1M34.8 29.4l.1 .1M36 29.3l.7 .4M40.6 30.4l0 .1M42.7 29.9l.4 .1M45 29.9l-1.1 .3M49.8 29.6l-.4 .9M52.3 29.8l1 .4M55.8 28.9l-.6 .9M56.4 29.1l.6 .8M59.1 30.2l.6 .2M65 30.1l.1 .2M-.8 32l.2 0M2.5 31.8l0 .2M3.7 31.8l-.3 .1M5.8 32l.5 .5M9.1 31l-1.2 .7M10.3 31.6l.3 .5M12.3 31.7l-1 .2M13.9 32.3l.5 .5M17.5 31.2l0 0M21 31.9l-1.2 1.3M20.9 32.4l.6 .2M24.4 31.5l-.2 .5M34.4 31.5l-.5 .5M35.8 31.2l-.1 0M38.9 30.8l1.2 .8M42.4 31.8l-.4 .3M44.8 32.1l-1.3 .3M46.6 32.2l1.4 .4M50.2 32.1l-.3 1M52.6 31l.3 .4M53.1 31.9l.8 1.1M57.3 31.3l-.2 .2M60 31.1l.8 .5M.6 32.7l.4 .3M4.1 33.7l-1.6 .8M4.1 32.6l.3 .7M8.5 31.9l.4 1.9M10.7 33.8l1.4 1M13.9 32.3l-.8 1.6M17.3 32.7l.9 1.4M21.5 32l-.2 1.8M25.6 33.4l.1 .3M27.1 33.5l1.1 1.4M31.3 34l-.2 .2M32.5 34l1.8 .1M34.5 33.4l-.1 .8M37.8 32.8l-.1 .3M40.9 32.1l0 1.7M43.7 33.6l-1.6 .8M43.9 32.8l.9 1.7M48.5 33.2l1.3 .2M50.2 32.7l.8 .4M51.7 33.7l1.6 .1M57.2 32.7l-1.6 .9M62.8 33l1.3 1M1.1 35l1 1.1M3.6 35.1l-.2 0M5.4 35.1l-.1 0M10.6 35l.4 .7M16.7 34.5l.2 .9M22.7 35.2l1.5 1.2M26.3 35.5l-.9 .9M30.4 35.3l0 .5M35.8 35.2l1.3 1M38.4 35.4l0 0M42 34.6l.3 .3M46 34.5l1.5 1.2M48.1 34.8l-.4 1.6M49.6 34.6l1 .2M51.1 35.7l.4 .6M57.9 35.5l1.8 .2M59.9 35.4l.5 1.3M-.6 36.2l.2 .3M.5 37.2l.3 1.3M13.3 37.7l-1.5 .2M18.5 37.3l-.3 .7M23.5 36.7l-.6 .8M24.3 36.4l0 .1M31.7 37.5l-.2 .2M32 36.3l.4 .6M34.5 36.9l1.5 .8M36.7 36l1.5 .7M41.7 36.5l-.2 .3M42.5 36.5l.1 0M46 36.2l.6 .9M51.1 37.4l-.2 .8M52.2 35.8l.4 1.8M53.7 37.4l1.1 1.1M57.6 36.2l-1.9 .4M62.2 36.5l-.8 1.3M1.7 38l-.2 .7M4.1 38.6l1 1.4M5.3 38.4l-.1 .1M6.8 37.5l.9 1.3M12.7 39.1l-.3 .2M14.2 37.4l.5 1.9M19.1 39l-1.1 .3M19 38.7l.8 0M22.4 38.1l-.2 .1M25.4 38.4l-1.4 .5M27.9 38.3l.4 .2M33.8 39.4l1 .3M36.9 38.2l1.1 1M39.8 38.2l0 .2M44 38.7l-1.4 .1M47.7 39.1l-.2 1M52 38.6l-.4 1.8M57.6 37.9l-.2 1.1M-1.2 40.1l1.3 .2M2.7 40.5l-.9 .1M4.9 39.9l-.9 .2M7.4 40.8l-1.2 .3M12.2 40.3l.1 .4M15.9 41.3l-.3 .1M17.9 39.7l-1.4 .8M20.9 40.1l0 .2M23.5 40.1l-1 1.6M27.7 40.7l-.1 .3M30.4 40.6l.3 .6M32 39.8l1.5 .1M36.3 39.7l-1.8 .7M35.8 39.7l1.3 .2M38.6 41l1.2 .4M41.7 39.7l-.3 .7M45.6 40.8l-.6 .2M49.1 40.6l-.2 .8M7.9 42.5l-.2 .7M19.9 41.6l1.7 .9M23.6 41.7l.6 .3M27.2 41.7l1.2 1.2M30.1 41.7l0 .1M33.4 42.1l1.2 .4M36 42l-.4 .6M37.1 42.7l.8 .4M44.3 42.3l-.4 .3M45.7 42l-.8 .3M48.4 42.5l-.3 1.1M59.2 40.8l-.7 1.6M60.6 42.8l.1 0M66.5 41.9l-.6 .5M-2.5 44.3l1.5 .5M1.1 44.4l.2 .3M1.5 43.5l1.8 .5M6 43.8l-.5 .8M6.9 43.5l.9 1.3M11 43.9l1.2 1.2M11.7 43.6l1.8 .2M17.1 43.6l.7 .8M21.4 42.8l0 1.3M21.8 43.1l1 .5M24.4 43.9l-.1 .5M28.4 43.3l.9 1.2M30.3 43.6l1.5 .8M38.1 44.4l-.8 .6M37.7 42.8l1.3 1.3M42.8 43.3l1 1.2M45.8 43.8l-.2 1.5M49.4 44.1l-.3 .1M50.4 44.4l-.3 0M57.8 43.2l-.2 .2M59.3 43l-.1 .7M65.8 43.2l-.4 1.1M2.3 45.6l.3 .1M5.4 46.1l.2 .8M9.7 44.7l.6 1.2M11.4 45.6l-.2 1.7M13.8 46l.4 .8M17.5 46.3l.1 .2M22 44.3l.2 1.8M26.1 45.8l.2 .4M28.5 45.6l-.1 .1M29.4 46l1.8 .8M31.6 46.5l0 .1M33.9 46l-.6 1.1M36.9 44.9l-.8 .3M38.1 45.6l.2 .3M38.9 46.1l.6 0M45.1 44.6l-.6 1M46.7 46.4l0 0M47.8 45.2l-1.1 1M52.4 45.3l0 0M54.2 45.5l1.2 .1M55.6 45.3l1.6 .7M59.7 45.5l.7 .1M61.9 45.6l1.4 1M63 45.8l1.2 .9M66 45.6l-.8 .8M-.4 47.6l.4 .5M2 47.1l-1.8 .7M6.5 47.1l1.9 .3M8.4 47.6l.1 .3M12.1 48l.4 .1M17.1 48l1.2 .1M20.4 46.6l-1.4 1.3M25.7 46.7l.1 1.4M31.8 46.6l-.2 .4M32.9 47.5l-.7 1.1M35.8 47.6l-.2 1.1M36.7 47.6l.5 .7M41.2 47.6l-.1 .8M42.4 47.8l.2 .2M45.9 46.2l-1.2 1.3M48.6 47.4l-.5 1.2M54.2 47.6l0 .1M57.3 46.8l0 .1M59.7 46.8l-.6 .7M59.8 46.3l.9 1.1M62.2 46.7l1 1"/><path stroke="#66d41c" stroke-width="1.5" d="M10.7-.9l.7 .2M24.6-1.2l1.5 .8M28.6-1.9l1 .2M16.1-.2l1.3 1.2M21.7 0l-.1 .1M30-.1l-.2 0M54.4 0l-.4 .4M22.8 3.6l-.5 1.4M42 3.9l.3 .2M56.8 4.5l-.5 .4M63.9 7.4l.3 1.6M60.7 10.6l.1 .3M45.4 12.6l.7 .4M8.4 16.4l0 .2M17.1 15.6l.7 .9M57.1 16.4l-.9 .6M33.8 17.7l-1.1 .3M5.2 19.8l-.6 .3M8.5 19.2l.6 1.2M41.1 19.8l-1.4 .6M46.9 21l.9 1.4M56.7 20.7l-.3 0M38.4 24.3l-1.2 .3M54.1 25l.1 .3M64.1 24.6l-1 .6M.8 28.4l-.1 0M53.3 27.7l-1.2 .4M28.8 29.8l-.7 .3M52.6 31l.3 .4M4.1 33.7l-1.6 .8M62.8 33l1.3 1M10.6 35l.4 .7M57.9 35.5l1.8 .2M52.2 35.8l.4 1.8M57.6 36.2l-1.9 .4M12.7 39.1l-.3 .2M14.2 37.4l.5 1.9M36.9 38.2l1.1 1M57.6 37.9l-.2 1.1M33.4 42.1l1.2 .4M6 43.8l-.5 .8M24.4 43.9l-.1 .5M59.8 46.3l.9 1.1"/><path stroke="#66d41c" stroke-width="1.8" d="M27.1-.3l-1.3 .1M10.1 .6l-1.6 .7M30.9 2.5l1.1 1.1M33.9 2.8l-.4 .4M48.9 2.3l.4 .3M63 1.5l-.3 .9M43.8 3.4l-.7 1.4M31.2 5.7l.9 1M36 5l-1.3 .7M1.6 8.2l-.5 1.3M61.7 9.6l1.9 .1M6.9 11.6l1.7 .3M44.1 10.6l.3 1.3M18.6 14.1l-.2 2M20 15.7l-1.6 .6M4.6 17.8l.2 .8M49.3 17.4l.2 1.4M25.5 20.2l-.1 .1M59.3 21.1l.8 .1M38.7 22.8l0 0M43.2 22.9l0 0M47.2 23.9l.8 .2M41 24.5l.7 .1M5.3 27.2l0 0M6.4 26.9l1.8 0M13.3 27l-.2 .2M35 26.7l-1 1.5M8.7 28.3l-.3 .2M45.1 28.5l1.4 .2M22.6 30.7l0 .1M12.3 31.7l-1 .2M46.6 32.2l1.4 .4M32.5 34l1.8 .1M48.5 33.2l1.3 .2M48.1 34.8l-.4 1.6M24.3 36.4l0 .1M42.5 36.5l.1 0M4.1 38.6l1 1.4M7.4 40.8l-1.2 .3M30.1 41.7l0 .1M37.1 42.7l.8 .4M48.4 42.5l-.3 1.1M-2.5 44.3l1.5 .5M38.1 45.6l.2 .3M20.4 46.6l-1.4 1.3M25.7 46.7l.1 1.4M35.8 47.6l-.2 1.1M54.2 47.6l0 .1"/><path stroke="#66d41c" stroke-width="1.2" d="M18.2 2.2l-1.1 .2M59.4 4.6l-.2 .8M62 4.2l-.6 .2M19.7 5.3l1.7 .8M62.6 6.3l-.1 .5M9 8.6l.7 .3M39.2 9.5l-1.5 .9M38.4 13.6l1.5 0M40.9 15.5l0 1M43.5 15.4l-.6 .4M41.5 17.2l0 .2M44.6 17.1l-1.1 .5M61 18l-1.9 0M.4 20.7l-1 1.4M44.5 21.6l-.7 1.4M15.9 22.3l-1.6 .6M9.2 25.7l.3 .2M22.6 25l-.2 .3M39.7 24.1l-.3 1.3M-.3 26.7l-.2 .6M50.2 32.7l.8 .4M31.7 37.5l-.2 .2M51.1 37.4l-.2 .8M38.1 44.4l-.8 .6M42.8 43.3l1 1.2M50.4 44.4l-.3 0M55.6 45.3l1.6 .7M66 45.6l-.8 .8"/><path stroke="#66d41c" stroke-width="2" d="M12.9 22.2l-.3 0M-1.2 40.1l1.3 .2M27.7 40.7l-.1 .3M17.1 48l1.2 .1"/><path stroke="#7ade28" stroke-width="1.8" d="M19.9-.9l-.6 0M58.3-1l-.1 0M26.4 1.4l0 .2M39.9 .9l.3 .3M60.8-.3l-1 1.7M-2 1.9l.9 1.3M4.8 2.7l-.5 .3M20.2 2.8l-.9 .8M46.8 2.6l.9 .8M19.8 5.4l-1.4 .5M23.6 5.5l-.7 .5M43.1 6.2l1.3 .1M48.4 5l.6 .6M55.5 8l-1.4 .1M5.3 8.6l.9 .1M15.2 8.8l.4 .3M7 12.7l-1.1 1.2M6.1 14.4l.2 .2M52.9 13.7l-.3 .2M3.9 16.2l-1.6 .3M9.6 16.3l1.4 0M36.6 15.1l.5 1.3M54.8 16.6l-.1 .3M22.8 18.5l1.4 .4M32.5 19.8l-1.8 .2M43.3 18.9l-.6 1.3M49.9 19.1l-.7 1.1M23.2 21.5l.1 0M58.6 20.9l-.4 .6M49.3 23.3l-.7 0M65.1 23.4l-.6 .5M26.5 25.2l-.3 .5M66.6 25.1l0 0M14.8 26.1l-.1 .7M10 28.9l-.3 .3M47.2 28.9l.1 .1M63.2 27.9l.5 .7M59.1 30.2l.6 .2M13.9 32.3l.5 .5M60 31.1l.8 .5M17.3 32.7l.9 1.4M25.6 33.4l.1 .3M40.9 32.1l0 1.7M1.1 35l1 1.1M5.4 35.1l-.1 0M16.7 34.5l.2 .9M23.5 36.7l-.6 .8M32 36.3l.4 .6M34.5 36.9l1.5 .8M19.1 39l-1.1 .3M19 38.7l.8 0M44 38.7l-1.4 .1M35.8 39.7l1.3 .2M38.6 41l1.2 .4M36 42l-.4 .6M1.5 43.5l1.8 .5M2 47.1l-1.8 .7M8.4 47.6l.1 .3"/><path stroke="#7ade28" stroke-width="1.5" d="M20.7-.5l0 .2M38.4 .9l-.3 0M41.6 .1l-.1 .5M2.4 4.4l-.2 .5M19 2.9l-.4 1.4M65.5 3.6l-.3 1.5M.7 7.3l.2 .6M17.5 6.8l.3 .2M13.6 8.9l-.6 .2M19.6 8.6l-.8 .6M40.2 9.4l.1 .4M43.4 8.6l-1.2 .1M52.8 8.3l.7 1.7M15.9 10.7l.3 1.4M48.2 10l.9 1.6M52.3 10.4l-.3 .2M37.2 13.5l.1 .2M42.4 14.6l.1 .4M63.8 13.5l.7 1.4M5.1 15.6l.1 .2M15.8 16.1l-.8 .7M1.2 18.1l.9 .8M30.9 18.2l-.6 .1M54.7 17.8l-.6 1.1M16.1 19l1 1M65.1 19.8l-1 .2M1.7 22l.2 .1M14.4 20.9l.4 .9M28.6 22.6l0 .1M59.1 21.9l-.6 1.3M62.5 22.8l-.4 .3M7.9 24.1l.1 1M18.6 24.5l0 .5M52.1 25l.6 1.1M59.8 25l.4 1.5M39.4 26.3l-.1 .1M63.9 27l1.3 .4M60.2 28.2l-.2 1.7M14.6 29.6l.1 .1M36 29.3l.7 .4M3.7 31.8l-.3 .1M31.3 34l-.2 .2M49.6 34.6l1 .2M59.9 35.4l.5 1.3M36.7 36l1.5 .7M6.8 37.5l.9 1.3M12.2 40.3l.1 .4M41.7 39.7l-.3 .7M65.8 43.2l-.4 1.1M22 44.3l.2 1.8M26.1 45.8l.2 .4M47.8 45.2l-1.1 1M54.2 45.5l1.2 .1"/><path stroke="#7ade28" stroke-width="1.2" d="M43.2-1.3l.4 .2M6.6-.3l-1 1.1M66.4 .9l-1.6 1M34.1 2.5l1.8 .4M43.1 2.4l-.1 .3M6.2 3.7l-1.2 1.1M51.5 6.2l0 .1M56 5.8l-.5 1M20.1 6.5l.5 1.8M21.8 8.3l-1 .1M30.8 9.4l1 .5M48.5 9.5l-.1 .6M58.6 9.3l-.5 .2M50.1 10.5l-.7 .8M-2 13.3l1.8 .3M57.3 11.8l.6 .7M26.4 14.6l-.8 .2M22.9 17.2l-1.1 .7M26.4 17.5l-1.2 .8M38 16.9l.6 .8M20.4 19.1l-1.7 .3M26.9 19.9l1.3 1.3M29.2 19.9l.8 .3M18.2 23.2l1.6 .9M49.8 23.7l1.8 .1M60.7 23.2l.1 .1M2.6 24.8l-.6 .9M24.4 24.5l0 0M11.8 25.9l-1.1 1.3M37.2 26.1l.1 .3M27.9 27.4l-.5 .5M17.8 29l.9 1.2M9.1 31l-1.2 .7M10.3 31.6l.3 .5M24.4 31.5l-.2 .5M44.8 32.1l-1.3 .3M4.1 32.6l.3 .7M13.9 32.3l-.8 1.6M22.7 35.2l1.5 1.2M30.4 35.3l0 .5M38.4 35.4l0 0M.5 37.2l.3 1.3M18.5 37.3l-.3 .7M45.6 40.8l-.6 .2M21.4 42.8l0 1.3M59.7 45.5l.7 .1M63 45.8l1.2 .9M6.5 47.1l1.9 .3M41.2 47.6l-.1 .8"/><path stroke="#7ade28" stroke-width="2" d="M-.8 29.8l0 .1M-.8 32l.2 0"/><path stroke="#90e83a" stroke-width="1.5" d="M5.1-1.5l.5 .9M2.3 1.8l.3 1.9M14.6 2.4l.4 0M8.2 4.6l1.1 .1M10.9 2.9l-1.5 1.1M34.1 3.8l-.1 1M49.9 4.3l-.4 .7M54.2 3.8l1.1 1.2M-1.6 9.9l0 0M34.5 10.6l0 .1M47.5 11.5l-1.5 .4M3.3 13.4l-.6 .3M16.2 12.8l.2 .7M29.3 12.8l-1.4 .5M32.7 12.6l-.2 0M60.5 12.8l.9 1M14.4 15.1l-.4 .4M43.2 15.1l.1 .1M64.1 18.3l.1 0M11.9 19.7l-.4 .1M44.2 19.8l.6 1.1M51.8 21.3l.7 1.5M66.6 22.1l-.1 .1M1.3 23.7l.5 .3M15.3 24.4l1.1 1.5M43.5 23.8l.2 1.6M48.2 24.4l.3 .9M56.6 25.3l.1 .4M33.1 26.9l-1.1 .1M4.1 28.8l-1.5 .2M23.6 27.7l.9 .3M65.3 27.9l.1 2M7.7 30.7l-1.6 .1M45 29.9l-1.1 .3M49.8 29.6l-.4 .9M56.4 29.1l.6 .8M50.2 32.1l-.3 1M5.3 38.4l-.1 .1M39.8 38.2l0 .2M20.9 40.1l0 .2M30.4 40.6l.3 .6M32 39.8l1.5 .1M7.9 42.5l-.2 .7M23.6 41.7l.6 .3M6.9 43.5l.9 1.3M11 43.9l1.2 1.2M11.7 43.6l1.8 .2M49.4 44.1l-.3 .1M9.7 44.7l.6 1.2M13.8 46l.4 .8M17.5 46.3l.1 .2M31.6 46.5l0 .1"/><path stroke="#90e83a" stroke-width="1.8" d="M12.2-1.3l1.1 1.2M13.8-1.2l1.2 .3M-.1 .9l-.1 .1M33.1 .2l-.9 .9M56-.7l.6 1.4M38.9 1.6l.6 .8M36.8 3.5l-.2 .7M9.3 6.4l.6 .9M37.7 8l-.2 .5M39.2 7.8l.3 .4M42.8 7.3l-.6 1.2M1.4 8.7l1.6 .9M23.8 8.6l-1.4 .1M13.9 11.7l1.1 .1M14.5 13.4l.3 0M18.7 12l.1 .5M49.5 12.9l-.3 .5M33.7 14.9l.2 .1M46.2 14.7l-.3 .4M48.7 15.2l1.5 .1M53.4 14.6l-.2 .3M-1.5 15.9l.6 1.7M6.3 15.6l1.1 .9M9 17.8l-.8 1.4M16.6 18.3l-.5 .9M55 18.1l.3 .8M36.9 20l.3 .9M62.5 19.9l.1 .1M15.7 21.4l-.2 0M19 20.8l.5 1M27.1 20.8l.6 .8M11.4 24.7l1.2 1.1M29.5 23.8l1 1.6M46.7 24.8l-.5 1.4M19.6 26.2l-.4 .6M33.7 28.5l.6 1.2M58.4 28.1l0 .3M8.5 31.9l.4 1.9M51.7 33.7l1.6 .1M46 34.5l1.5 1.2M46 36.2l.6 .9M53.7 37.4l1.1 1.1M62.2 36.5l-.8 1.3M22.4 38.1l-.2 .1M52 38.6l-.4 1.8M17.9 39.7l-1.4 .8M19.9 41.6l1.7 .9M60.6 42.8l.1 0M21.8 43.1l1 .5M28.4 43.3l.9 1.2M30.3 43.6l1.5 .8M37.7 42.8l1.3 1.3M57.8 43.2l-.2 .2M2.3 45.6l.3 .1M36.9 44.9l-.8 .3M31.8 46.6l-.2 .4M36.7 47.6l.5 .7"/><path stroke="#90e83a" stroke-width="2" d="M34.3-1.1l-1.4 1M48.1-1l-.9 1.5M62.2 6.9l-.3 .9M53.5 13.4l-.9 .2M42.9 20.5l-.5 1.6"/><path stroke="#90e83a" stroke-width="1.2" d="M8.1 .8l-1.1 1M27.6 5.3l.4 .4M32.7 5l0 .4M59.2 6l1.3 .3M31.2 8l-.9 .1M33.9 7.4l.9 1M56.9 7.3l-.5 1.4M24.3 11.3l-1 .6M40.1 11.3l-1.2 .5M40.7 12.2l1.3 1.4M50.2 12.2l1.9 .4M59.6 11.9l-1.5 .4M10.4 14.1l-1.7 1M23.2 13.6l.6 1M55.5 14.6l.9 .2M45.2 16.3l-.5 .4M55.3 20l-.3 .6M59.8 25.8l0 .7M14.7 28.3l-1.2 .7M37.1 27.7l1.5 .2M42.7 29.9l.4 .1M55.8 28.9l-.6 .9M42.4 31.8l-.4 .3M57.3 31.3l-.2 .2M37.8 32.8l-.1 .3M43.7 33.6l-1.6 .8M43.9 32.8l.9 1.7M57.2 32.7l-1.6 .9M-.6 36.2l.2 .3M23.5 40.1l-1 1.6M1.1 44.4l.2 .3M45.8 43.8l-.2 1.5M5.4 46.1l.2 .8M11.4 45.6l-.2 1.7M-.4 47.6l.4 .5M12.1 48l.4 .1M62.2 46.7l1 1"/><path stroke="#a8ee58" stroke-width="1.8" d="M7-1.8l.9 1M44.6-.9l.5 .5M54-.3l-1.2 .1M63.1-.8l1.4 .8M37.2 1.3l-.8 1.2M53.9 1.6l-.6 1M28 3l-.9 1.5M39 3.2l-1 1.3M46 3.1l.2 .6M10.4 5.6l.3 .1M11.6 10.4l1.2 .1M18.6 11l0 1.4M22.2 10.5l-.2 .3M-.1 12.8l.6 1.1M4.6 12.9l.7 .4M63.3 12.5l.2 0M66.2 12.7l-1 .5M29.1 14.8l-1.5 .6M48.5 14.1l-.2 .9M58.3 14.2l-.3 0M51.4 17.3l.1 .9M53.9 22l-.4 .4M21.4 22.5l1.7 .8M-.4 24.3l-.1 .2M42.1 25.4l-.8 1.3M45 26.3l.4 .1M11.9 28.6l.2 1M16.1 28.7l.8 .6M49.7 28.3l.1 .3M34.8 29.4l.1 .1M17.5 31.2l0 0M20.9 32.4l.6 .2M34.4 31.5l-.5 .5M10.7 33.8l1.4 1M26.3 35.5l-.9 .9M35.8 35.2l1.3 1M42 34.6l.3 .3M13.3 37.7l-1.5 .2M1.7 38l-.2 .7M36.3 39.7l-1.8 .7M49.1 40.6l-.2 .8M44.3 42.3l-.4 .3M17.1 43.6l.7 .8M33.9 46l-.6 1.1M46.7 46.4l0 0M52.4 45.3l0 0M32.9 47.5l-.7 1.1M45.9 46.2l-1.2 1.3"/><path stroke="#a8ee58" stroke-width="1.2" d="M56.6-2.3l-.3 1.5M50.8 .6l-.5 0M25.7 1l-.2 1.9M16.5 5l-.3 .4M28.3 5.7l.2 .2M3.7 7l1.5 .4M25.4 7.1l-.4 .8M44.9 9.5l-.1 .6M56.8 9.1l-.1 0M3.4 11.6l-.2 .1M26.7 10.6l-.6 .3M41.5 11.3l0 .8M35.7 12.1l-.3 1.3M-.4 17l0 .8M20.7 19.1l.2 .4M32.5 23.8l-.2 .3M53.5 23.5l1.7 .3M4.3 23.6l-.1 1.2M15 23.6l-.4 1.4M9.7 25.8l-.5 1.7M21 26.8l-.1 0M4.9 27.7l1.3 1.3M41.8 27.4l1.2 .6M61.7 29.2l-.1 .1M5.4 29.4l-1.4 .4M32.5 29.2l.2 1M52.3 29.8l1 .4M65 30.1l.1 .2M5.8 32l.5 .5M35.8 31.2l-.1 0M53.1 31.9l.8 1.1M.6 32.7l.4 .3M27.1 33.5l1.1 1.4M51.1 35.7l.4 .6M41.7 36.5l-.2 .3M27.2 41.7l1.2 1.2M45.7 42l-.8 .3M66.5 41.9l-.6 .5M59.3 43l-.1 .7M29.4 46l1.8 .8M61.9 45.6l1.4 1M42.4 47.8l.2 .2M48.6 47.4l-.5 1.2M59.7 46.8l-.6 .7"/><path stroke="#a8ee58" stroke-width="1.5" d="M61.3-1.6l-.5 .1M11.7 .1l1.7 .9M.7 2.7l-.4 .1M60.8 1.3l1.3 1.1M12.6 4.3l-.4 .3M44.5 5.9l-.2 0M27.5 7.7l-.1 .2M49.9 7.8l0 .4M29 11.2l-1.1 .1M22.5 13l.2 .3M16.2 15.1l-.7 .5M29.9 13.9l-.3 .5M36.5 14.1l-.3 .1M38.6 13.9l.1 .4M23.4 15.9l-.8 .1M28.7 15.3l.1 1.1M62.9 16.8l.9 .1M2.2 19.5l0 1.7M28.8 20.5l.9 .9M13.2 22.6l-.2 .2M53 22.9l.1 .2M28.1 23.9l.7 1M31.3 24.6l1.5 .2M62.1 25.1l-.8 1M22.9 25.8l.4 1.4M42.4 25.9l1.4 .6M51 26.3l-.2 0M30.4 27.7l-.4 1.1M39.8 28.1l.8 1.1M24.9 29.3l.7 .2M40.6 30.4l0 .1M2.5 31.8l0 .2M21 31.9l-1.2 1.3M38.9 30.8l1.2 .8M21.5 32l-.2 1.8M34.5 33.4l-.1 .8M3.6 35.1l-.2 0M25.4 38.4l-1.4 .5M27.9 38.3l.4 .2M33.8 39.4l1 .3M47.7 39.1l-.2 1M2.7 40.5l-.9 .1M4.9 39.9l-.9 .2M15.9 41.3l-.3 .1M59.2 40.8l-.7 1.6M28.5 45.6l-.1 .1M45.1 44.6l-.6 1M57.3 46.8l0 .1"/><path stroke="#a8ee58" stroke-width="2" d="M-.4 10.4l-.3 0M9.3 21.4l-1.5 .9M-1.6 23.7l1.6 .2M34.5 23.6l0 1.5M38.9 46.1l.6 0"/></g>
<rect x="0.5" y="0.5" width="63.3" height="46" fill="none" stroke="#081204" stroke-opacity="0.75" stroke-width="1"/>
</svg>
<rect x="156.8" y="649.1" width="24.2" height="7.6" fill="#fff"/>
<text x="179" y="656.4" font-size="8.4" fill="#333" text-anchor="end" textLength="18.6" lengthAdjust="spacingAndGlyphs" stroke="#333" stroke-width="0.2">5 min</text>
<svg x="49" y="662.5" width="64.6" height="47" overflow="hidden">
<rect width="65.6" height="48" fill="#233d12"/>
<g filter="url(#b6)" fill="none" stroke-linecap="round"><path stroke="#2c4a1b" stroke-width="1.5" d="M58.1 2l0 0M39.4 26.9l0 0"/><path stroke="#2c4a1b" stroke-width="1.2" d="M42.2 32.3l0 0"/></g>
<rect x="0.5" y="0.5" width="63.6" height="46" fill="none" stroke="#081204" stroke-opacity="0.75" stroke-width="1"/>
</svg>
<rect x="88.8" y="701.7" width="24.8" height="7.8" fill="#fff"/>
<text x="91.8" y="708.8" font-size="8.4" fill="#333" textLength="20.2" lengthAdjust="spacingAndGlyphs" stroke="#333" stroke-width="0.2">0 min</text>
<rect x="56.9" y="706.3" width="7.6" height="1.7" fill="#d4dccb"/>
<svg x="116.7" y="662.5" width="64.3" height="47" overflow="hidden">
<rect width="65.3" height="48" fill="#061806"/>
<g filter="url(#b5)" fill="none" stroke-linecap="round"><path stroke="#14400a" stroke-width="2.2" d="M3.5-.3l0 .1M5.5-1.3l-1.3 .5M9.3-.9l.1 .4M19.6-1l-.4 .5M21-1.3l-.7 .1M24.9-1.8l-.1 .3M26.6-1.4l-.6 .2M31.1-.5l-.2 .2M34.1-1l.5 1.5M37.6-1.1l0 0M43.3-.6l-.6 .7M48.9-1.4l0 1.7M59-.8l-.2 .1M60.9-.9l.6 .2M.7 .4l-.6 .5M15.2 .7l-1.8 .2M16.5 .9l-1.3 1.2M22 .4l.2 .5M24 .3l-.1 .8M30.5-.1l-.4 .5M32.4 1.3l0 0M35.4 .2l1.1 .4M40.2 1.2l.1 .2M44.2 .4l1 1.3M51.3 .8l.2 .1M52.6 0l1.3 .5M59.2 .2l1.6 .1M61.3 .4l-.1 .6M64 .1l-1 1M-1.6 1.1l.9 1.5M1.8 2.3l-.9 1.1M6.8 1.4l-.9 1.7M11.1 2.6l1.1 .9M12.7 2.8l-.7 .2M18.2 1.7l-1.5 .3M20.3 2l2 .3M23.4 2.4l-1.2 .4M25.4 2.6l.2 .1M34.8 1.3l.6 1.3M36.4 2.3l.4 .1M41 3.1l.5 .4M43.4 1.6l.1 .4M45.4 2.8l-.2 .3M46.3 1.2l1.1 1.1M49.5 1.8l.3 1.3M52.7 2.1l.6 .3M61.1 1.9l-.1 .1M63.4 1.7l-1.9 .2M65 2.3l-1.4 1.2M.6 4.7l0 0M1.4 4.5l0 .4M6.1 3.3l.2 1.3M12.4 4.5l.6 .8M14.9 3.9l-.5 .6M15.6 4.5l1.4 0M17.6 3.5l.1 .1M21.9 4.2l.4 .1M25.1 4.2l-1.9 .2M25.4 4.6l-.1 .7M27.5 3.9l-.5 .2M29.7 3.5l.1 .3M36.4 3.6l-.1 .1M37.6 2.8l.6 1.3M39.2 4.5l.1 .1M44.1 4.5l.5 .4M46.2 4.4l-.1 .2M47.4 4.5l0 0M52.2 4.1l-.2 .4M53.2 4.6l.4 .3M56.1 3.5l-.1 .1M57.7 4.2l-.4 .3M60.5 4.6l-.2 .7M63.2 4.9l.3 .1M3.9 5.8l1.4 .3M10.2 5.4l-1.4 .8M13.5 5l-1 .5M19.7 6.1l-1.1 .4M26 5l-1.2 1.5M30 5.3l.6 .5M33.1 5.8l-1.3 1.3M38 5l-.5 .8M38.9 4.9l.3 1.1M41 5.9l-.4 1.5M43 6l.8 .4M44.1 5.1l.3 1.1M49.8 5.1l-1 .2M52.3 5.7l-1.6 1M52.7 5.5l.1 .1M56.9 5.3l-.5 .2M57.8 6.1l.9 .7M63.8 5.7l-1.8 .3M64.9 4.8l1.6 .7M-.8 7.9l.2 .1M2.5 7.7l.4 .3M11 8.2l-1.4 .1M11.6 7.6l1.1 1.1M16.6 7.9l.1 .1M18.6 7l-.6 .3M21.5 7.9l-.1 .1M23.4 6.7l-.1 .6M26.5 6.7l-.8 .5M29.8 7.2l1.3 1M32.8 6.7l-.1 .4M39.2 8.1l1.6 .4M48.6 7.5l-.4 1.1M50 7.3l-.6 .8M53.3 6.4l.1 1.2M59.1 7.1l-1.8 .5M60.2 7l1 .1M62.3 7.1l-1.4 .1M63.3 6.8l1 .5M65.9 7.7l1.6 .4M-.2 9.9l-.1 0M2.9 9.1l-.5 1M4.4 9.5l.5 .4M7.2 8.6l.8 1.1M8.4 9.6l.5 .1M13.6 9.2l-.3 .6M19.6 8.9l-.7 .6M22.2 8.8l-1 .6M25.2 8.6l.6 1.5M26.6 8.5l.2 1.4M31.3 8.4l.9 1.6M32.9 8.5l.8 .3M34.4 8.2l.4 1.1M38.7 8.6l-.8 1.1M41.4 9.2l0 0M46.4 9l-1.2 .3M48.5 8.8l-1.8 .1M48.2 8.6l0 .1M49.6 9.8l1.4 .1M53 8l-.4 1.9M58.9 8.7l0 .2M63.1 8.9l-.2 .2M1.6 10.8l-1.6 .9M1.8 11.7l-.9 .2M4.5 10.4l-1.2 .7M8.1 11.4l0 .7M10.7 9.8l-.7 1.5M11.5 11l.4 .2M13.9 11.2l-.3 1M15.7 10.8l0 0M17.8 10.9l1.6 0M21.9 10.9l-.8 1M25.9 10.5l1.4 1.3M28.5 10.2l-.3 .5M34.1 10.9l-.7 .4M35.8 11.6l1.2 .6M39.1 10.7l-1.4 .3M39.1 11.6l.4 .1M49.6 11.8l-1.9 0M49.4 10.1l.2 1M52.3 10.5l-.6 1M53.4 11.5l.5 .5M55.6 10.8l.7 1.6M57.9 10.9l-.3 .1M60.3 10.9l1 1.1M61.3 10.6l.4 1.1M66.2 11.6l-.6 0M-1.4 13l.5 0M1.4 12l-1.3 1M4.3 12.4l-.2 .4M7.2 12.6l0 0M10 12.2l-.9 1.7M11.3 13.3l-.8 .2M12.9 12.4l1.6 .1M14.9 12.6l1.5 .7M21.7 12.9l0 0M31 13.4l-.1 0M33.4 13l.1 .5M35.6 11.8l-.4 1.6M36.4 12.6l1.9 .1M39.1 12.6l-1.6 .1M41.5 13.4l0 .3M43.6 12.4l-.1 .1M50.2 12.1l.7 .8M53.9 11.5l-.3 1.5M61.6 12.2l.1 0M62.7 12.4l.4 1.4M.7 13.8l-.1 .3M1.3 15.2l.4 .1M4 13.2l.6 1.8M7.8 13.3l.3 1.9M11.4 14l-.1 0M13.4 14.2l.4 .9M16.3 13.7l-.2 .5M19.5 13.4l-.5 1.3M24.3 14.1l-.9 .8M25.5 13.5l-.2 1.5M28.5 14l-.5 1.1M30.4 14.2l-.4 .4M39.2 13.9l1.6 .9M46 14.8l.4 .7M47.3 14.1l0 .2M49.4 13.3l.6 1.1M51.2 15.3l.1 .2M53.8 14.7l.7 .8M57.5 13.9l-.6 .1M60.2 13.8l.3 .4M66 14.4l.7 .6M6.7 15.1l.8 1.6M8.6 16.4l.3 .1M14.5 16.3l-.5 1.6M17.3 15.2l-1.2 1.3M19.6 17.1l0 0M22.8 15.8l.1 .8M24.9 16.2l.6 .5M26.7 16.3l-.1 0M28.8 15.2l.6 .7M31.2 15.3l.2 1M33.1 15.3l-.3 1.6M35.4 16.5l-.7 .4M38.7 16.7l.8 .9M47.5 16.2l-.2 .7M48.4 16l.4 .6M50.7 16.2l1.7 .4M53.8 17.1l0 0M55.2 16l.1 .7M60.4 16.1l1.2 .7M66.2 16.3l-1.4 .2M3.9 17.8l-.9 .9M6.1 17.4l0 0M7.5 17.5l-.2 .4M9.9 18.3l-.2 .7M15.6 17.4l.4 .1M17.9 17.4l.1 .1M20.2 18.1l-1.2 .3M21.2 17.8l.9 .1M23.8 17.3l.2 .7M25.1 18.3l1.6 .6M27.6 17.4l.7 0M32.8 17.7l-1.1 .5M38.5 18.6l.2 .1M42.4 18l.1 .3M45.2 18.3l-1.1 .2M48.2 17.3l-1.7 .9M49.2 18.6l0 0M52.8 18.5l.9 .5M58.5 16.7l.3 1.2M61.1 18.7l-1.5 .2M61.2 18.2l1.7 .9M67.2 17.5l-1.3 1M-1.8 19.7l1.2 1.4M1.1 19.3l.4 .5M2.5 19.5l1.5 .1M4.5 18.8l0 .7M7.3 19.1l-.3 1.8M10.3 20l-1.3 .9M14.3 19.7l-1.8 .7M16.9 19.2l-.2 .3M18.9 18.8l1.1 .7M22.6 18.5l-.8 1M25.3 19.1l-1.5 .5M27.2 19l-1.3 .7M29.4 19.6l0 0M30.6 18.9l.9 .6M32.2 19.9l.1 1.1M35.4 19.6l.1 .3M39.5 19.1l-1.5 .7M46.6 19.7l1.3 .2M51 19.7l-.3 .8M53.6 19.6l-1 .4M54.3 19.5l-.1 .5M58.3 19.8l.3 .5M60.4 19.6l1.4 .7M62 20.1l1 .3M4.7 21l-.5 .1M6.1 21.9l.3 .2M7.4 20.8l0 2M12.4 21.2l.1 1.2M14.2 21.6l-1.7 .5M15.8 21.6l-.1 .2M18.1 20.3l-.4 1.1M19.9 21.8l0 .2M22.3 20.5l.7 1.4M26.6 21.6l-1.7 .7M29.3 20.7l-.1 .2M32.7 20.2l-1 1.5M36.6 21.2l.1 0M39.3 19.9l.6 1.7M42.7 20.2l-1 1.2M46.6 21.5l-.5 .2M47.4 21l.1 0M64.7 22l-1.1 .2M65.7 20.6l-.1 1.1M-.7 22.9l-.5 1.3M1.2 23.1l.5 1M3.8 22.9l-1.6 .2M4.3 22.7l.3 .3M7.4 22.6l-.3 .6M18.9 23.3l.4 1.4M20.8 22.2l-.8 1.5M27.5 22.2l-.6 1.5M31.4 23.5l.2 .2M32.9 23.8l.1 .1M36.3 23.2l.6 .6M43.1 22.1l-.5 1.7M44.3 23.2l0 .1M50.2 23.9l-1.7 .2M50.7 22.6l.9 .5M53.1 22.6l.2 .1M54.8 23.3l.1 1.5M57.4 23.5l1.8 .1M1.1 24.8l-.6 .4M2.4 24.7l.5 .7M2.8 24l1 1.1M6.4 24.2l-.3 .7M7.6 23.9l-.6 1.4M10.3 24.7l-.9 .2M16.4 23.8l-1.4 .9M19.8 25.8l0 0M21.7 24.1l-.4 1.3M32.4 24.2l-.6 1M34.2 24.8l-.3 .1M40.2 23.7l-1 1.2M42.3 24.5l1.8 .7M45.4 24.6l0 .5M50.6 23.9l-.3 1M51 25.1l1.6 .2M55.8 25.5l-.5 .5M57.9 24.7l.1 .2M59.6 25.4l-.1 .6M62.3 23.7l-.2 1.1M63.4 25.6l.1 .4M65.3 24.5l.1 .7M-.2 26.1l2 .2M2.1 27l1.5 .1M4.5 25.5l.2 1.2M9.5 26.3l.4 .4M12.7 27.4l0 .1M13.9 25.8l1.2 1M16.8 26.2l0 0M26.3 25.6l-1.4 1.4M29.8 26l1.1 0M33.2 26.1l.5 1.1M38.4 26.3l.8 .2M40.5 26.4l-.1 1.1M53.8 26.4l1.1 .4M55.7 26.4l1.5 1.1M58.9 26l1 .6M60.8 26.2l-1.1 .4M63.7 26.1l1.6 .6M.6 28.5l-.1 1.4M9.2 28l.1 0M15.6 28.8l.5 .1M22.7 27.3l.1 1.2M26 28.5l-1.2 .6M28.1 27.2l.2 1M33.4 27.8l1.9 .2M36.5 27.8l.2 1.2M37.4 27.9l.2 .5M39.3 27.8l0 0M44.7 28.4l1.2 1.4M47.8 28.8l-.9 0M58.1 27.9l.2 .8M60.9 28.7l1.5 .8M66.2 28.6l-.1 .3M4.7 30.6l1.5 0M5.8 29l1.2 1.1M7.8 29.2l.9 1.5M11.6 29.3l-1.8 .6M15.8 29.5l-.3 0M20.9 30.1l-.5 .2M23.8 29.7l-.3 .3M24.1 29.1l.4 1.3M36.8 30.7l.3 .5M41.2 30.4l-.6 .4M42.9 29.7l.8 .5M45.9 29.1l-1.7 .7M47.1 30.6l.3 .2M58 29.9l-.8 1M60 29.1l.9 1.7M63.3 29.8l-.1 0M65.3 29.6l.1 .6M5.1 32.4l-1 .1M6.3 31.8l-.4 .5M9.9 31.3l.5 .5M12 32.1l.3 .3M14.4 31.4l.1 .7M20.8 32.4l-1.3 0M22.5 31.7l0 .6M24.9 31.4l-.7 1.4M26.6 31.8l-.6 .3M28.6 31.5l-.8 1.2M31.2 30.8l.4 .8M33.4 30.9l1 1.2M38.6 31.5l-.1 .4M51 31.3l-1.5 .5M51.9 31.8l-1.3 .1M57 32.1l-1.8 .1M58.1 31.8l0 0M59.2 31.7l.2 1.5M62.4 30.9l-.6 1.1M63.4 31.6l-.1 1.2M65.3 32.5l.5 .1M-1.2 32.1l-.1 1.8M2.3 33.2l1.5 .2M4 32.8l.8 .2M6 33.4l.5 .7M14.6 32.6l.5 1M16.2 33.8l.6 0M20.7 33.9l.5 .4M23.5 33.1l-.1 1.5M24.8 33.8l1.1 .6M29.9 33.6l-.5 .4M30.6 33.8l-.3 1.1M33.7 33.1l-.4 .7M35.2 33.1l.5 .2M40.5 33.1l.2 1.8M47.5 33.9l.1 .1M53 33l.4 .1M60.8 33.6l.9 .1M.4 35.4l-1.1 1.4M2.2 35.4l-.1 .1M3.9 34.6l-.8 .1M8.3 35.4l.3 .2M9.6 34l1 1.2M15.6 34.8l.3 .5M21 35l-1.2 .5M27.8 34.7l-.4 .7M30.7 35.5l0 0M33.1 35.1l-1.5 1.2M33.7 34.6l-.8 .1M38.4 36l-1.9 .2M40.4 34.6l-.6 .3M42.2 34.2l.1 1.3M43.5 35.5l-.2 .4M45.8 34.4l.1 1.7M52.3 35.4l0 0M54.9 34.8l-.9 1M55 35.4l.6 .7M59.3 35l-1 1.6M60.5 35l-.3 .5M65.7 34.6l0 .4M-1.1 36.9l-1.3 1.1M1.7 36l-1.3 1M5.3 36.1l1.8 .6M9.6 37l0 1.6M12.6 37.1l-.1 0M19.6 36.2l-.6 .5M23.3 37l.1 1.7M27.1 35.9l-.3 1.3M30.9 36.7l.4 1.4M33 36.8l-.3 .4M34.5 36.1l-.1 1M37.4 36.9l-.4 .9M42.2 36.2l-1.4 1M42.4 36.7l-.1 .1M44.9 37.1l1.6 1M46.9 35.9l-.7 1M51.8 37.2l-.7 .3M52.6 37.3l-.3 .6M58.1 36.5l-1.4 .9M59.6 37.1l.1 1.4M60.9 37.4l-1 .6M62.1 37.1l.5 .5M64.5 37.6l1.6 .5M0 38.1l-.9 .1M2.2 38.2l-.4 .3M8.8 38.6l-.1 .4M9 37.5l1.5 1.3M14.1 39.2l1.1 0M16.4 38.1l1.8 .6M19.7 39.3l-.3 .1M22.4 39.1l.6 0M25 39.2l.8 .5M27.3 38.1l.6 1.1M38.8 39.3l-.6 0M40.2 38.8l-.1 .1M45.8 38.2l.4 .1M48.7 37.5l-.7 1.1M54.6 39.4l-.7 .3M56 38.6l-.3 .5M56.9 38.4l.8 .4M60.5 38l-.3 .5M64.8 39.1l-1.6 .9M66.2 38.9l-.1 .4M-1 40.3l-.7 .9M2.4 40.7l.1 0M7.4 40.6l.4 .2M15.2 41l-.3 .6M16.4 39.5l1.2 1.5M22.4 40.3l-1.3 1.4M27 39.3l-.8 1.4M29.5 40.2l0 1M33.2 40.5l-.1 .1M35.1 40.2l.6 .1M37 39.7l.7 .3M39.2 40.2l.4 .2M41.1 40.9l.1 .2M43.3 40.2l.1 .1M45.7 39.9l-.7 .5M50.6 39.9l-.1 .8M53.9 39.8l-.8 0M57.6 40.8l0 .6M60.4 40.3l.7 .2M63.5 40l-.5 1.9M65.1 40l.2 .3M.7 41.5l0 .1M3 41.7l-.8 .2M4.7 42.6l-.1 .1M8.3 42.7l.1 .2M9.9 41.9l0 .5M12.4 42.3l-.4 .7M13.6 41.8l.2 .7M15.2 41.6l0 .1M18.3 41.7l.5 1M20.3 41.8l.3 1.4M26.4 41.8l.1 .4M27.9 41.2l.6 1.5M30.5 41.8l0 1.4M35.3 41.9l1.4 .9M43.1 41.3l.8 .9M51.1 41.1l-.5 1.1M56.6 42.5l0 1.1M56.9 42.6l.8 .9M60.4 42.6l-.2 .7M61.2 41.7l1.6 .7M65.3 41.7l0 0M-1.4 43.7l.7 .1M13.8 44l-1.3 .4M16.5 44l-1.6 .6M17.2 44l-.3 .9M25.1 43.6l.7 1.1M34.5 44l-1.7 .9M35.2 44.2l.1 .7M43.3 43.8l.1 0M51.6 44.5l.1 0M54.9 43.9l.1 1.3M57.2 44l.1 1.1M60.6 44.3l0 .1M65.8 43.8l-.2 .2M2.6 45.6l-1 .6M10.3 45.6l-.2 1.4M16.2 45.5l.3 .3M22.4 45.5l-.4 .5M23.9 45.7l-.2 1.2M28.8 44.8l-1.4 .7M32.8 45.6l-.9 1.7M34.6 45.8l-.2 .1M37.9 44.9l-.5 1.7M41.5 45.6l1 .6M44.4 45.3l.5 .4M46.8 44.3l-1.2 1.5M48.3 44.6l-.9 1.3M51.3 45.2l-1.3 .1M51.6 45.7l-.1 .4M53.3 46.2l.1 .2M61.7 45.9l.5 .8M64.1 45.2l-.5 .3M66.7 46.5l-1.1 .2M5 46.7l-.6 .1M10.2 46.9l-1.5 .1M13.7 47.1l-.6 .2M17.6 46.5l-1.7 .9M18.7 47.2l.1 .1M20.3 47.2l.7 1.5M25.5 46.7l0 .1M26.2 46.7l1.5 .9M32.8 46.4l.8 1.3M36.7 47.2l-.3 .1M40.8 46.9l.9 1.4M43.6 46.9l-.4 .6M45.6 46.7l-1.1 .7M46.3 47.4l-.1 1.1M50.2 47.4l-1.3 .9M59.8 47.9l-.6 .6M60.7 46.5l-.4 .4M64 46.5l-.9 1.3"/><path stroke="#66d41c" stroke-width="1.8" d="M24.9-1.8l-.1 .3M26.6-1.4l-.6 .2M31.1-.5l-.2 .2M51.3 .8l.2 .1M64 .1l-1 1M1.8 2.3l-.9 1.1M18.2 1.7l-1.5 .3M23.4 2.4l-1.2 .4M37.6 2.8l.6 1.3M63.2 4.9l.3 .1M10.2 5.4l-1.4 .8M26 5l-1.2 1.5M41 5.9l-.4 1.5M23.4 6.7l-.1 .6M62.3 7.1l-1.4 .1M4.4 9.5l.5 .4M13.6 9.2l-.3 .6M58.9 8.7l0 .2M4.5 10.4l-1.2 .7M55.6 10.8l.7 1.6M12.9 12.4l1.6 .1M41.5 13.4l0 .3M13.4 14.2l.4 .9M47.3 14.1l0 .2M57.5 13.9l-.6 .1M53.8 17.1l0 0M7.5 17.5l-.2 .4M62 20.1l1 .3M14.2 21.6l-1.7 .5M51 25.1l1.6 .2M9.5 26.3l.4 .4M13.9 25.8l1.2 1M53.8 26.4l1.1 .4M22.7 27.3l.1 1.2M44.7 28.4l1.2 1.4M60.9 28.7l1.5 .8M42.9 29.7l.8 .5M33.4 30.9l1 1.2M51 31.3l-1.5 .5M51.9 31.8l-1.3 .1M65.3 32.5l.5 .1M20.7 33.9l.5 .4M33.7 33.1l-.4 .7M54.9 34.8l-.9 1M60.5 35l-.3 .5M65.7 34.6l0 .4M23.3 37l.1 1.7M42.4 36.7l-.1 .1M16.4 38.1l1.8 .6M38.8 39.3l-.6 0M48.7 37.5l-.7 1.1M12.4 42.3l-.4 .7M43.1 41.3l.8 .9M65.3 41.7l0 0M35.2 44.2l.1 .7M41.5 45.6l1 .6M26.2 46.7l1.5 .9M50.2 47.4l-1.3 .9"/><path stroke="#66d41c" stroke-width="1.5" d="M37.6-1.1l0 0M35.4 .2l1.1 .4M61.3 .4l-.1 .6M12.7 2.8l-.7 .2M41 3.1l.5 .4M6.1 3.3l.2 1.3M29.7 3.5l.1 .3M44.1 4.5l.5 .4M52.2 4.1l-.2 .4M49.8 5.1l-1 .2M56.9 5.3l-.5 .2M32.9 8.5l.8 .3M63.1 8.9l-.2 .2M39.1 10.7l-1.4 .3M57.9 10.9l-.3 .1M61.3 10.6l.4 1.1M1.4 12l-1.3 1M30.4 14.2l-.4 .4M46 14.8l.4 .7M28.8 15.2l.6 .7M61.2 18.2l1.7 .9M67.2 17.5l-1.3 1M27.2 19l-1.3 .7M54.3 19.5l-.1 .5M58.3 19.8l.3 .5M36.6 21.2l.1 0M3.8 22.9l-1.6 .2M43.1 22.1l-.5 1.7M40.2 23.7l-1 1.2M55.8 25.5l-.5 .5M63.4 25.6l.1 .4M26.3 25.6l-1.4 1.4M33.2 26.1l.5 1.1M63.7 26.1l1.6 .6M58.1 27.9l.2 .8M20.9 30.1l-.5 .2M41.2 30.4l-.6 .4M9.9 31.3l.5 .5M22.5 31.7l0 .6M38.6 31.5l-.1 .4M35.2 33.1l.5 .2M53 33l.4 .1M52.3 35.4l0 0M34.5 36.1l-.1 1M9 37.5l1.5 1.3M7.4 40.6l.4 .2M37 39.7l.7 .3M43.3 40.2l.1 .1M26.4 41.8l.1 .4M51.1 41.1l-.5 1.1M10.3 45.6l-.2 1.4M46.8 44.3l-1.2 1.5M17.6 46.5l-1.7 .9M43.6 46.9l-.4 .6"/><path stroke="#66d41c" stroke-width="1.2" d="M59.2 .2l1.6 .1M1.4 4.5l0 .4M30 5.3l.6 .5M21.5 7.9l-.1 .1M48.6 7.5l-.4 1.1M60.2 7l1 .1M-.2 9.9l-.1 0M25.2 8.6l.6 1.5M1.6 10.8l-1.6 .9M34.1 10.9l-.7 .4M11.3 13.3l-.8 .2M39.1 12.6l-1.6 .1M16.3 13.7l-.2 .5M35.4 16.5l-.7 .4M15.6 17.4l.4 .1M4.5 18.8l0 .7M10.3 20l-1.3 .9M29.4 19.6l0 0M35.4 19.6l.1 .3M7.6 23.9l-.6 1.4M16.4 23.8l-1.4 .9M.6 28.5l-.1 1.4M9.2 28l.1 0M15.6 28.8l.5 .1M31.2 30.8l.4 .8M15.6 34.8l.3 .5M33.7 34.6l-.8 .1M43.5 35.5l-.2 .4M9.6 37l0 1.6M19.7 39.3l-.3 .1M15.2 41.6l0 .1M16.5 44l-1.6 .6"/><path stroke="#66d41c" stroke-width="2" d="M15.7 10.8l0 0M60.3 10.9l1 1.1M8.6 16.4l.3 .1M66.2 16.3l-1.4 .2M21.2 17.8l.9 .1M38.4 26.3l.8 .2M14.4 31.4l.1 .7M3.9 34.6l-.8 .1"/><path stroke="#7ade28" stroke-width="1.5" d="M19.6-1l-.4 .5M34.8 1.3l.6 1.3M46.3 1.2l1.1 1.1M14.9 3.9l-.5 .6M21.9 4.2l.4 .1M25.1 4.2l-1.9 .2M25.4 4.6l-.1 .7M53.2 4.6l.4 .3M33.1 5.8l-1.3 1.3M-.8 7.9l.2 .1M59.1 7.1l-1.8 .5M7.2 8.6l.8 1.1M26.6 8.5l.2 1.4M48.2 8.6l0 .1M39.1 11.6l.4 .1M14.9 12.6l1.5 .7M62.7 12.4l.4 1.4M4 13.2l.6 1.8M19.6 17.1l0 0M50.7 16.2l1.7 .4M12.4 21.2l.1 1.2M44.3 23.2l0 .1M1.1 24.8l-.6 .4M6.4 24.2l-.3 .7M65.3 24.5l.1 .7M16.8 26.2l0 0M28.1 27.2l.2 1M37.4 27.9l.2 .5M47.8 28.8l-.9 0M36.8 30.7l.3 .5M47.1 30.6l.3 .2M58 29.9l-.8 1M63.3 29.8l-.1 0M57 32.1l-1.8 .1M40.5 33.1l.2 1.8M60.8 33.6l.9 .1M.4 35.4l-1.1 1.4M39.2 40.2l.4 .2M50.6 39.9l-.1 .8M53.9 39.8l-.8 0M60.4 40.3l.7 .2M3 41.7l-.8 .2M8.3 42.7l.1 .2M20.3 41.8l.3 1.4M34.5 44l-1.7 .9M43.3 43.8l.1 0M51.6 44.5l.1 0M60.6 44.3l0 .1M22.4 45.5l-.4 .5M25.5 46.7l0 .1M45.6 46.7l-1.1 .7"/><path stroke="#7ade28" stroke-width="1.2" d="M.7 .4l-.6 .5M12.4 4.5l.6 .8M13.5 5l-1 .5M43 6l.8 .4M11 8.2l-1.4 .1M65.9 7.7l1.6 .4M1.8 11.7l-.9 .2M17.8 10.9l1.6 0M66.2 11.6l-.6 0M10 12.2l-.9 1.7M49.4 13.3l.6 1.1M17.3 15.2l-1.2 1.3M33.1 15.3l-.3 1.6M6.1 17.4l0 0M9.9 18.3l-.2 .7M7.3 19.1l-.3 1.8M15.8 21.6l-.1 .2M26.6 21.6l-1.7 .7M39.3 19.9l.6 1.7M32.9 23.8l.1 .1M32.4 24.2l-.6 1M45.4 24.6l0 .5M5.8 29l1.2 1.1M26.6 31.8l-.6 .3M63.4 31.6l-.1 1.2M27.8 34.7l-.4 .7M33.1 35.1l-1.5 1.2M40.4 34.6l-.6 .3M64.8 39.1l-1.6 .9M16.4 39.5l1.2 1.5M41.1 40.9l.1 .2M13.6 41.8l.2 .7M-1.4 43.7l.7 .1M25.1 43.6l.7 1.1M34.6 45.8l-.2 .1M13.7 47.1l-.6 .2M32.8 46.4l.8 1.3"/><path stroke="#7ade28" stroke-width="1.8" d="M22 .4l.2 .5M24 .3l-.1 .8M52.6 0l1.3 .5M20.3 2l2 .3M27.5 3.9l-.5 .2M19.7 6.1l-1.1 .4M32.8 6.7l-.1 .4M63.3 6.8l1 .5M19.6 8.9l-.7 .6M48.5 8.8l-1.8 .1M21.7 12.9l0 0M1.3 15.2l.4 .1M60.2 13.8l.3 .4M31.2 15.3l.2 1M47.5 16.2l-.2 .7M60.4 16.1l1.2 .7M45.2 18.3l-1.1 .2M48.2 17.3l-1.7 .9M22.6 18.5l-.8 1M39.5 19.1l-1.5 .7M32.7 20.2l-1 1.5M18.9 23.3l.4 1.4M27.5 22.2l-.6 1.5M50.7 22.6l.9 .5M19.8 25.8l0 0M42.3 24.5l1.8 .7M33.4 27.8l1.9 .2M4.7 30.6l1.5 0M12 32.1l.3 .3M14.6 32.6l.5 1M29.9 33.6l-.5 .4M30.6 33.8l-.3 1.1M8.3 35.4l.3 .2M38.4 36l-1.9 .2M55 35.4l.6 .7M33 36.8l-.3 .4M58.1 36.5l-1.4 .9M60.9 37.4l-1 .6M8.8 38.6l-.1 .4M45.8 38.2l.4 .1M56.9 38.4l.8 .4M60.5 38l-.3 .5M63.5 40l-.5 1.9M4.7 42.6l-.1 .1M30.5 41.8l0 1.4M60.4 42.6l-.2 .7M32.8 45.6l-.9 1.7M36.7 47.2l-.3 .1"/><path stroke="#7ade28" stroke-width="2" d="M6.8 1.4l-.9 1.7M57.9 24.7l.1 .2M61.7 45.9l.5 .8"/><path stroke="#90e83a" stroke-width="1.5" d="M59-.8l-.2 .1M45.4 2.8l-.2 .3M49.5 1.8l.3 1.3M52.7 2.1l.6 .3M65 2.3l-1.4 1.2M47.4 4.5l0 0M44.1 5.1l.3 1.1M64.9 4.8l1.6 .7M11.6 7.6l1.1 1.1M2.9 9.1l-.5 1M49.6 9.8l1.4 .1M8.1 11.4l0 .7M53.4 11.5l.5 .5M-1.4 13l.5 0M11.4 14l-.1 0M25.5 13.5l-.2 1.5M17.9 17.4l.1 .1M52.8 18.5l.9 .5M16.9 19.2l-.2 .3M18.9 18.8l1.1 .7M46.6 19.7l1.3 .2M6.1 21.9l.3 .2M29.3 20.7l-.1 .2M47.4 21l.1 0M20.8 22.2l-.8 1.5M2.8 24l1 1.1M40.5 26.4l-.1 1.1M26 28.5l-1.2 .6M9.6 34l1 1.2M42.2 34.2l.1 1.3M37.4 36.9l-.4 .9M35.1 40.2l.6 .1M65.1 40l.2 .3M.7 41.5l0 .1M54.9 43.9l.1 1.3M57.2 44l.1 1.1M5 46.7l-.6 .1M10.2 46.9l-1.5 .1M60.7 46.5l-.4 .4"/><path stroke="#90e83a" stroke-width="1.8" d="M44.2 .4l1 1.3M25.4 2.6l.2 .1M63.4 1.7l-1.9 .2M15.6 4.5l1.4 0M17.6 3.5l.1 .1M56.1 3.5l-.1 .1M63.8 5.7l-1.8 .3M2.5 7.7l.4 .3M16.6 7.9l.1 .1M18.6 7l-.6 .3M50 7.3l-.6 .8M8.4 9.6l.5 .1M31.3 8.4l.9 1.6M38.7 8.6l-.8 1.1M49.6 11.8l-1.9 0M49.4 10.1l.2 1M52.3 10.5l-.6 1M33.4 13l.1 .5M61.6 12.2l.1 0M.7 13.8l-.1 .3M7.8 13.3l.3 1.9M28.5 14l-.5 1.1M66 14.4l.7 .6M6.7 15.1l.8 1.6M14.5 16.3l-.5 1.6M27.6 17.4l.7 0M58.5 16.7l.3 1.2M7.4 20.8l0 2M19.9 21.8l0 .2M65.7 20.6l-.1 1.1M1.2 23.1l.5 1M7.4 22.6l-.3 .6M53.1 22.6l.2 .1M62.3 23.7l-.2 1.1M39.3 27.8l0 0M66.2 28.6l-.1 .3M7.8 29.2l.9 1.5M24.1 29.1l.4 1.3M-1.2 32.1l-.1 1.8M16.2 33.8l.6 0M-1.1 36.9l-1.3 1.1M12.6 37.1l-.1 0M19.6 36.2l-.6 .5M27.1 35.9l-.3 1.3M22.4 39.1l.6 0M40.2 38.8l-.1 .1M22.4 40.3l-1.3 1.4M27 39.3l-.8 1.4M45.7 39.9l-.7 .5M35.3 41.9l1.4 .9M17.2 44l-.3 .9M65.8 43.8l-.2 .2M2.6 45.6l-1 .6M48.3 44.6l-.9 1.3M51.6 45.7l-.1 .4M18.7 47.2l.1 .1M46.3 47.4l-.1 1.1"/><path stroke="#90e83a" stroke-width="1.2" d="M.6 4.7l0 0M36.4 3.6l-.1 .1M26.5 6.7l-.8 .5M39.2 8.1l1.6 .4M34.4 8.2l.4 1.1M4.3 12.4l-.2 .4M7.2 12.6l0 0M35.6 11.8l-.4 1.6M53.8 14.7l.7 .8M48.4 16l.4 .6M20.2 18.1l-1.2 .3M-1.8 19.7l1.2 1.4M18.1 20.3l-.4 1.1M42.7 20.2l-1 1.2M-.7 22.9l-.5 1.3M36.3 23.2l.6 .6M59.6 25.4l-.1 .6M60.8 26.2l-1.1 .4M45.9 29.1l-1.7 .7M28.6 31.5l-.8 1.2M58.1 31.8l0 0M2.2 35.4l-.1 .1M45.8 34.4l.1 1.7M51.8 37.2l-.7 .3M27.9 41.2l.6 1.5M56.9 42.6l.8 .9M66.7 46.5l-1.1 .2"/><path stroke="#90e83a" stroke-width="2" d="M4 32.8l.8 .2M27.3 38.1l.6 1.1M53.3 46.2l.1 .2"/><path stroke="#a8ee58" stroke-width="1.8" d="M3.5-.3l0 .1M5.5-1.3l-1.3 .5M9.3-.9l.1 .4M21-1.3l-.7 .1M38.9 4.9l.3 1.1M41.4 9.2l0 0M10.7 9.8l-.7 1.5M21.9 10.9l-.8 1M28.5 10.2l-.3 .5M35.8 11.6l1.2 .6M31 13.4l-.1 0M43.6 12.4l-.1 .1M50.2 12.1l.7 .8M19.5 13.4l-.5 1.3M24.3 14.1l-.9 .8M51.2 15.3l.1 .2M3.9 17.8l-.9 .9M25.1 18.3l1.6 .6M49.2 18.6l0 0M1.1 19.3l.4 .5M14.3 19.7l-1.8 .7M25.3 19.1l-1.5 .5M32.2 19.9l.1 1.1M22.3 20.5l.7 1.4M46.6 21.5l-.5 .2M4.3 22.7l.3 .3M2.4 24.7l.5 .7M50.6 23.9l-.3 1M15.8 29.5l-.3 0M65.3 29.6l.1 .6M6.3 31.8l-.4 .5M20.8 32.4l-1.3 0M59.2 31.7l.2 1.5M6 33.4l.5 .7M47.5 33.9l.1 .1M21 35l-1.2 .5M5.3 36.1l1.8 .6M30.9 36.7l.4 1.4M42.2 36.2l-1.4 1M44.9 37.1l1.6 1M25 39.2l.8 .5M-1 40.3l-.7 .9M29.5 40.2l0 1M33.2 40.5l-.1 .1M18.3 41.7l.5 1M20.3 47.2l.7 1.5M59.8 47.9l-.6 .6"/><path stroke="#a8ee58" stroke-width="1.5" d="M34.1-1l.5 1.5M43.3-.6l-.6 .7M60.9-.9l.6 .2M15.2 .7l-1.8 .2M30.5-.1l-.4 .5M32.4 1.3l0 0M11.1 2.6l1.1 .9M36.4 2.3l.4 .1M61.1 1.9l-.1 .1M57.7 4.2l-.4 .3M38 5l-.5 .8M52.3 5.7l-1.6 1M52.7 5.5l.1 .1M29.8 7.2l1.3 1M22.2 8.8l-1 .6M46.4 9l-1.2 .3M53 8l-.4 1.9M13.9 11.2l-.3 1M22.8 15.8l.1 .8M26.7 16.3l-.1 0M55.2 16l.1 .7M23.8 17.3l.2 .7M32.8 17.7l-1.1 .5M38.5 18.6l.2 .1M61.1 18.7l-1.5 .2M2.5 19.5l1.5 .1M51 19.7l-.3 .8M53.6 19.6l-1 .4M4.7 21l-.5 .1M31.4 23.5l.2 .2M57.4 23.5l1.8 .1M10.3 24.7l-.9 .2M34.2 24.8l-.3 .1M4.5 25.5l.2 1.2M12.7 27.4l0 .1M23.8 29.7l-.3 .3M5.1 32.4l-1 .1M24.9 31.4l-.7 1.4M62.4 30.9l-.6 1.1M2.3 33.2l1.5 .2M24.8 33.8l1.1 .6M46.9 35.9l-.7 1M52.6 37.3l-.3 .6M59.6 37.1l.1 1.4M0 38.1l-.9 .1M14.1 39.2l1.1 0M56 38.6l-.3 .5M2.4 40.7l.1 0M15.2 41l-.3 .6M57.6 40.8l0 .6M9.9 41.9l0 .5M13.8 44l-1.3 .4M16.2 45.5l.3 .3M51.3 45.2l-1.3 .1M64.1 45.2l-.5 .3"/><path stroke="#a8ee58" stroke-width="1.2" d="M48.9-1.4l0 1.7M40.2 1.2l.1 .2M43.4 1.6l.1 .4M39.2 4.5l.1 .1M46.2 4.4l-.1 .2M60.5 4.6l-.2 .7M3.9 5.8l1.4 .3M57.8 6.1l.9 .7M53.3 6.4l.1 1.2M25.9 10.5l1.4 1.3M36.4 12.6l1.9 .1M53.9 11.5l-.3 1.5M39.2 13.9l1.6 .9M24.9 16.2l.6 .5M38.7 16.7l.8 .9M42.4 18l.1 .3M30.6 18.9l.9 .6M60.4 19.6l1.4 .7M64.7 22l-1.1 .2M50.2 23.9l-1.7 .2M54.8 23.3l.1 1.5M21.7 24.1l-.4 1.3M2.1 27l1.5 .1M29.8 26l1.1 0M55.7 26.4l1.5 1.1M36.5 27.8l.2 1.2M11.6 29.3l-1.8 .6M60 29.1l.9 1.7M23.5 33.1l-.1 1.5M30.7 35.5l0 0M59.3 35l-1 1.6M62.1 37.1l.5 .5M64.5 37.6l1.6 .5M54.6 39.4l-.7 .3M66.2 38.9l-.1 .4M56.6 42.5l0 1.1M61.2 41.7l1.6 .7M23.9 45.7l-.2 1.2M44.4 45.3l.5 .4M40.8 46.9l.9 1.4M64 46.5l-.9 1.3"/><path stroke="#a8ee58" stroke-width="2" d="M16.5 .9l-1.3 1.2M-1.6 1.1l.9 1.5M11.5 11l.4 .2M-.2 26.1l2 .2M58.9 26l1 .6M1.7 36l-1.3 1M2.2 38.2l-.4 .3M28.8 44.8l-1.4 .7M37.9 44.9l-.5 1.7"/></g>
<rect x="0.5" y="0.5" width="63.3" height="46" fill="none" stroke="#081204" stroke-opacity="0.75" stroke-width="1"/>
</svg>
<rect x="156.8" y="701.9" width="24.2" height="7.6" fill="#fff"/>
<text x="179" y="709.2" font-size="8.4" fill="#333" text-anchor="end" textLength="18.6" lengthAdjust="spacingAndGlyphs" stroke="#333" stroke-width="0.2">5 min</text>
<path d="M238 147.8 C238.7 147.7 240.4 147.8 242 147.3 C243.6 146.8 244.9 146.8 247.3 144.6 C249.7 142.4 253 137.7 256.5 134.2 C260 130.7 264.2 127.1 268.1 123.8 C272 120.5 275.8 117.9 279.6 114.6 C283.5 111.3 287.7 107.3 291.2 104.2 C294.7 101.1 296.6 98.4 300.4 96.2 C304.2 94 309.2 93.1 314 91.3 C318.8 89.5 325.5 86.8 328.9 85.6 C332.2 84.4 332.2 83.9 334.1 83.9 C336 83.9 339.4 85.3 340.5 85.6 L339.4 91.9 C338.5 91.4 335.9 89 334.1 88.8 C332.4 88.6 332.2 89.7 328.9 90.9 C325.5 92.1 318.4 94.4 314 96.2 C309.6 98 306.5 99.6 302.7 101.9 C298.9 104.2 295 107.1 291.2 110 C287.4 112.9 283.5 116.1 279.6 119.2 C275.8 122.3 272 125.4 268.1 128.5 C264.2 131.6 260 134.8 256.5 137.7 C253 140.6 249.7 144.2 247.3 145.8 C244.9 147.4 243.6 147.2 242 147.5 C240.4 147.8 238.7 147.8 238 147.8 Z" fill="#d68a7f"/>
<path d="M246 148 C247.8 147.4 252.8 146.3 256.5 144.6 C260.2 142.9 264.2 139.8 268.1 137.7 C272 135.6 275.8 134 279.6 131.9 C283.5 129.8 287.4 127.5 291.2 125 C295 122.5 298.9 120 302.7 116.9 C306.5 113.8 310.4 109 314 106.5 C317.6 104 320.7 102.6 324.6 101.6 C328.5 100.6 335.2 100.6 337.3 100.4 L337.3 116.3 C335.2 116.4 328.5 116.3 324.6 116.9 C320.7 117.5 317.6 118.1 314 119.8 C310.4 121.5 306.5 125.3 302.7 127.3 C298.9 129.3 295 130.4 291.2 131.9 C287.4 133.4 283.5 134.9 279.6 136.5 C275.8 138.1 272 139.6 268.1 141.2 C264.2 142.8 260.2 144.7 256.5 145.8 C252.8 146.9 247.8 147.6 246 148 Z" fill="#c4daf1"/>
<path d="M268 148 C270.4 147.6 276.4 146.6 282.3 145.4 C288.2 144.2 296.4 142.1 303.5 140.6 C310.6 139.1 318.4 137.5 324.6 136.4 C330.8 135.3 337.9 134.6 340.5 134.2 L339.4 138.5 C336.9 138.8 330.6 139.4 324.6 140.2 C318.6 141 310.6 142.1 303.5 143.1 C296.4 144.1 289.2 145.1 282.3 145.9 C275.4 146.7 265.4 147.7 262 148 Z" fill="#c6c7de"/>
<line x1="230.7" y1="67.2" x2="230.7" y2="149.7" stroke="#2b2b2b" stroke-width="1.3"/>
<line x1="230.1" y1="148.2" x2="342.5" y2="148.2" stroke="#2b2b2b" stroke-width="1.3"/>
<line x1="228.1" y1="148.2" x2="230.7" y2="148.2" stroke="#2b2b2b" stroke-width="1.1"/>
<text x="225.3" y="151.1" font-size="8.3" fill="#3a3a3a" text-anchor="end">0</text>
<line x1="228.1" y1="128.6" x2="230.7" y2="128.6" stroke="#2b2b2b" stroke-width="1.1"/>
<text x="225.3" y="131.5" font-size="8.3" fill="#3a3a3a" text-anchor="end">0.1</text>
<line x1="228.1" y1="109" x2="230.7" y2="109" stroke="#2b2b2b" stroke-width="1.1"/>
<text x="225.3" y="111.9" font-size="8.3" fill="#3a3a3a" text-anchor="end">0.2</text>
<line x1="228.1" y1="89.5" x2="230.7" y2="89.5" stroke="#2b2b2b" stroke-width="1.1"/>
<text x="225.3" y="92.4" font-size="8.3" fill="#3a3a3a" text-anchor="end">0.3</text>
<line x1="228.1" y1="69.9" x2="230.7" y2="69.9" stroke="#2b2b2b" stroke-width="1.1"/>
<text x="225.3" y="72.8" font-size="8.3" fill="#3a3a3a" text-anchor="end">0.4</text>
<line x1="252.5" y1="148.2" x2="252.5" y2="150.6" stroke="#2b2b2b" stroke-width="1.1"/>
<text x="252.5" y="162.3" font-size="8.3" fill="#3a3a3a" text-anchor="middle">60</text>
<line x1="274.4" y1="148.2" x2="274.4" y2="150.6" stroke="#2b2b2b" stroke-width="1.1"/>
<text x="274.4" y="162.3" font-size="8.3" fill="#3a3a3a" text-anchor="middle">120</text>
<line x1="296.2" y1="148.2" x2="296.2" y2="150.6" stroke="#2b2b2b" stroke-width="1.1"/>
<text x="296.2" y="162.3" font-size="8.3" fill="#3a3a3a" text-anchor="middle">180</text>
<line x1="318.1" y1="148.2" x2="318.1" y2="150.6" stroke="#2b2b2b" stroke-width="1.1"/>
<text x="318.1" y="162.3" font-size="8.3" fill="#3a3a3a" text-anchor="middle">240</text>
<line x1="339.9" y1="148.2" x2="339.9" y2="150.6" stroke="#2b2b2b" stroke-width="1.1"/>
<text x="339.9" y="162.3" font-size="8.3" fill="#3a3a3a" text-anchor="middle">300</text>
<text x="286.8" y="173.9" font-size="9.4" fill="#333" text-anchor="middle" textLength="35.5" lengthAdjust="spacingAndGlyphs" stroke="#333" stroke-width="0.25">Time (sec)</text>
<text transform="translate(205.0 107.3) rotate(-90)" font-size="9.6" fill="#333" stroke="#333" stroke-width="0.25" text-anchor="middle" textLength="60.8" lengthAdjust="spacingAndGlyphs">Platelet coverage</text>
<path d="M238 147.8 C238.7 147.8 240.4 147.8 242 147.5 C243.6 147.2 244.9 147.4 247.3 145.8 C249.7 144.2 253 140.6 256.5 137.7 C260 134.8 264.2 131.6 268.1 128.5 C272 125.4 275.8 122.3 279.6 119.2 C283.5 116.1 287.4 112.9 291.2 110 C295 107.1 298.9 104.2 302.7 101.9 C306.5 99.6 309.6 98 314 96.2 C318.4 94.4 325.5 92.1 328.9 90.9 C332.2 89.7 332.4 88.6 334.1 88.8 C335.9 89 338.5 91.4 339.4 91.9" fill="none" stroke="#b0142d" stroke-width="2.4" stroke-linejoin="round" stroke-linecap="round"/>
<path d="M246 148 C247.8 147.6 252.8 146.9 256.5 145.8 C260.2 144.7 264.2 142.8 268.1 141.2 C272 139.6 275.8 138.1 279.6 136.5 C283.5 134.9 287.4 133.4 291.2 131.9 C295 130.4 298.9 129.3 302.7 127.3 C306.5 125.3 310.4 121.5 314 119.8 C317.6 118.1 320.7 117.5 324.6 116.9 C328.5 116.3 335.2 116.4 337.3 116.3" fill="none" stroke="#78b3e0" stroke-width="1.9" stroke-linejoin="round" stroke-linecap="round"/>
<path d="M262 148 C265.4 147.7 275.4 146.7 282.3 145.9 C289.2 145.1 296.4 144.1 303.5 143.1 C310.6 142.1 318.6 141 324.6 140.2 C330.6 139.4 336.9 138.8 339.4 138.5" fill="none" stroke="#6e78a6" stroke-width="1.9" stroke-linejoin="round" stroke-linecap="round"/>
<path d="M231.5 147.2 C236.2 147.2 248.6 147.2 260 147.2 C271.4 147.2 286.5 147.1 300 147 C313.5 146.9 334.2 146.7 341 146.6" fill="none" stroke="#2a4585" stroke-width="2.0" stroke-linejoin="round" stroke-linecap="round"/>
<line x1="233.7" y1="28.7" x2="255.8" y2="28.7" stroke="#b0142d" stroke-width="2.3"/>
<text x="258.1" y="31.7" font-size="8.4" fill="#333" textLength="24" lengthAdjust="spacingAndGlyphs">DMSO</text>
<line x1="233.7" y1="40.2" x2="255.8" y2="40.2" stroke="#78b3e0" stroke-width="2.3"/>
<text x="258.1" y="43.2" font-size="8.4" fill="#333" textLength="57.2" lengthAdjust="spacingAndGlyphs">Ibrutinib 0.2 µM</text>
<line x1="233.7" y1="52.3" x2="255.8" y2="52.3" stroke="#6e78a6" stroke-width="2.3"/>
<text x="258.1" y="55.3" font-size="8.4" fill="#333" textLength="57.2" lengthAdjust="spacingAndGlyphs">Ibrutinib 0.5 µM</text>
<line x1="233.7" y1="64.2" x2="255.8" y2="64.2" stroke="#2a4585" stroke-width="2.3"/>
<text x="258.1" y="67.2" font-size="8.4" fill="#333" textLength="50.2" lengthAdjust="spacingAndGlyphs">Ibrutinib 1 µM</text>
<line x1="321.5" y1="23.1" x2="321.5" y2="44.7" stroke="#333" stroke-width="1.3"/>
<text x="326.8" y="36" font-size="9.2" fill="#222" text-anchor="middle" font-weight="bold" transform="rotate(90 326.8 31.4)">*</text>
<text x="326.8" y="41" font-size="9.2" fill="#222" text-anchor="middle" font-weight="bold" transform="rotate(90 326.8 36.4)">*</text>
<line x1="330.5" y1="23.1" x2="330.5" y2="57.2" stroke="#333" stroke-width="1.3"/>
<text x="336.5" y="38.6" font-size="9.2" fill="#222" text-anchor="middle" font-weight="bold" transform="rotate(90 336.5 34)">*</text>
<text x="336.5" y="43.5" font-size="9.2" fill="#222" text-anchor="middle" font-weight="bold" transform="rotate(90 336.5 38.9)">*</text>
<text x="336.5" y="48.3" font-size="9.2" fill="#222" text-anchor="middle" font-weight="bold" transform="rotate(90 336.5 43.7)">*</text>
<line x1="340.5" y1="23.2" x2="340.5" y2="68.7" stroke="#333" stroke-width="1.3"/>
<text x="346.6" y="46.4" font-size="9.2" fill="#222" text-anchor="middle" font-weight="bold" transform="rotate(90 346.6 41.8)">*</text>
<text x="346.6" y="51.2" font-size="9.2" fill="#222" text-anchor="middle" font-weight="bold" transform="rotate(90 346.6 46.6)">*</text>
<text x="346.6" y="55.9" font-size="9.2" fill="#222" text-anchor="middle" font-weight="bold" transform="rotate(90 346.6 51.3)">*</text>
<line x1="351.5" y1="37.4" x2="351.5" y2="68.8" stroke="#333" stroke-width="1.3"/>
<text x="356.4" y="53.5" font-size="9.2" fill="#222" text-anchor="middle" font-weight="bold" transform="rotate(90 356.4 48.9)">*</text>
<text x="356.4" y="58.3" font-size="9.2" fill="#222" text-anchor="middle" font-weight="bold" transform="rotate(90 356.4 53.7)">*</text>
<text x="356.4" y="63.2" font-size="9.2" fill="#222" text-anchor="middle" font-weight="bold" transform="rotate(90 356.4 58.6)">*</text>
<line x1="362.5" y1="37.4" x2="362.5" y2="58.2" stroke="#333" stroke-width="1.3"/>
<text x="368.2" y="49.7" font-size="9.2" fill="#222" text-anchor="middle" font-weight="bold" transform="rotate(90 368.2 45.1)">*</text>
<text x="368.2" y="54.5" font-size="9.2" fill="#222" text-anchor="middle" font-weight="bold" transform="rotate(90 368.2 49.9)">*</text>
<g stroke="#222" stroke-width="1.3" stroke-dasharray="2.6 2" fill="none">
<line x1="350.4" y1="139.1" x2="376.1" y2="87.1"/>
<line x1="351.7" y1="149.4" x2="376.1" y2="168"/>
<rect x="376.6" y="51.6" width="137.6" height="116.8"/>
</g>
<text x="385.6" y="64" font-size="10.2" fill="#2a2a2a" textLength="42.6" lengthAdjust="spacingAndGlyphs" stroke="#2a2a2a" stroke-width="0.25">Adhesion</text>
<line x1="382.4" y1="76.2" x2="404.3" y2="76.2" stroke="#2a3c78" stroke-width="2.2"/>
<text x="406.6" y="78.6" font-size="8.2" fill="#333" textLength="49.5" lengthAdjust="spacingAndGlyphs">Ibrutinib 1 µM</text>
<path d="M378 137.3 L379 138.4 L379.6 137.2 L381 137.2 L381.6 138.4 L382.4 137.3 L383 136.1 L384.4 136.1 L385 137.3 L385.8 135.4 L386.4 134.2 L387.8 134.2 L388.4 135.4 L389.2 132 L389.8 130.8 L391.2 130.8 L391.8 132 L392.6 128.6 L393.2 127.4 L394.6 127.4 L395.2 128.6 L396 125.2 L396.6 124 L398 124 L398.6 125.2 L399.4 121.8 L400 120.6 L401.4 120.6 L402 121.8 L402.8 118.4 L403.4 117.2 L404.8 117.2 L405.4 118.4 L406.2 115.7 L406.8 114.5 L408.2 114.5 L408.8 115.7 L409.6 113.3 L410.2 112.1 L411.6 112.1 L412.2 113.3 L413 111 L413.6 109.8 L415 109.8 L415.6 111 L416.4 108 L417 106.8 L418.4 106.8 L419 108 L419.8 105 L420.4 103.8 L421.8 103.8 L422.4 105 L423.2 101.9 L423.8 100.7 L425.2 100.7 L425.8 101.9 L426.6 99.9 L427.2 98.7 L428.6 98.7 L429.2 99.9 L430 97.8 L430.6 96.6 L432 96.6 L432.6 97.8 L433.4 95.9 L434 94.7 L435.4 94.7 L436 95.9 L436.8 94.4 L437.4 93.2 L438.8 93.2 L439.4 94.4 L440.2 93 L440.8 91.8 L442.2 91.8 L442.8 93 L443.6 91.5 L444.2 90.3 L445.6 90.3 L446.2 91.5 L447 90.6 L447.6 89.4 L449 89.4 L449.6 90.6 L450.4 91.3 L451 90.1 L452.4 90.1 L453 91.3 L453.8 92 L454.4 90.8 L455.8 90.8 L456.4 92 L457.2 91.9 L457.8 90.7 L459.2 90.7 L459.8 91.9 L460.6 90.8 L461.2 89.6 L462.6 89.6 L463.2 90.8 L464 89.6 L464.6 88.4 L466 88.4 L466.6 89.6 L465.5 81 L466 97.9 L465 98.9 L462 100.2 L459 101.9 L456 103.6 L453 103 L450 102.3 L447 102.3 L444 103.6 L441 104.9 L438 106.2 L435 107.5 L432 108.8 L429 110.3 L426 111.9 L423 113.4 L420 115.2 L417 117 L414 118.8 L411 120.6 L408 122.3 L405 124.1 L402 126.2 L399 128.7 L396 131.1 L393 133.5 L390 136 L387 137.5 L384 137.8 L381 138.1 L378 138.3 Z" fill="#6e80b9"/>
<path d="M378 137.2 L380 136.8 L381.7 137.5 L383.4 137.3 L385.1 137.2 L386.8 136.1 L388.5 135.9 L390.2 134.5 L391.9 133.9 L393.6 132.5 L395.3 131.1 L397 129.8 L398.7 127.5 L400.4 126.1 L402.1 124.8 L403.8 124.3 L405.5 123.3 L407.2 122.3 L408.9 120.4 L410.6 119.4 L412.3 118.4 L414 117.4 L415.7 117.3 L417.4 116.2 L419.1 115.2 L420.8 113.3 L422.5 112.3 L424.2 111.4 L425.9 111.4 L427.6 110.5 L429.3 109.7 L431 108.8 L432.7 107.1 L434.4 106.4 L436.1 105.6 L437.8 105.8 L439.5 105 L441.2 104.3 L442.9 102.7 L444.6 101.9 L446.3 101.2 L448 100.4 L449.7 101.7 L451.4 102.1 L453.1 102.5 L454.8 102.1 L456.5 101.9 L458.2 101 L459.9 100.9 L461.6 100 L463.3 99" fill="none" stroke="#2b3d78" stroke-width="2.2" stroke-linejoin="round"/>
<line x1="466.3" y1="77.7" x2="466.3" y2="137.9" stroke="#2b2b2b" stroke-width="1.3"/>
<line x1="377" y1="137.3" x2="466.9" y2="137.3" stroke="#2b2b2b" stroke-width="1.3"/>
<line x1="466.3" y1="79.2" x2="469" y2="79.2" stroke="#2b2b2b" stroke-width="1.1"/>
<text x="470.8" y="82.1" font-size="8.3" fill="#3a3a3a">0.009</text>
<line x1="466.3" y1="98.8" x2="469" y2="98.8" stroke="#2b2b2b" stroke-width="1.1"/>
<text x="470.8" y="101.7" font-size="8.3" fill="#3a3a3a">0.006</text>
<line x1="466.3" y1="117.7" x2="469" y2="117.7" stroke="#2b2b2b" stroke-width="1.1"/>
<text x="470.8" y="120.6" font-size="8.3" fill="#3a3a3a">0.003</text>
<line x1="466.3" y1="137.3" x2="469" y2="137.3" stroke="#2b2b2b" stroke-width="1.1"/>
<text x="470.8" y="140.2" font-size="8.3" fill="#3a3a3a">0</text>
<line x1="397.7" y1="137.3" x2="397.7" y2="139.7" stroke="#2b2b2b" stroke-width="1.1"/>
<text x="397.7" y="150.4" font-size="8.3" fill="#3a3a3a" text-anchor="middle">60</text>
<line x1="414.5" y1="137.3" x2="414.5" y2="139.7" stroke="#2b2b2b" stroke-width="1.1"/>
<text x="414.5" y="150.4" font-size="8.3" fill="#3a3a3a" text-anchor="middle">120</text>
<line x1="431.3" y1="137.3" x2="431.3" y2="139.7" stroke="#2b2b2b" stroke-width="1.1"/>
<text x="431.3" y="150.4" font-size="8.3" fill="#3a3a3a" text-anchor="middle">180</text>
<line x1="448.1" y1="137.3" x2="448.1" y2="139.7" stroke="#2b2b2b" stroke-width="1.1"/>
<text x="448.1" y="150.4" font-size="8.3" fill="#3a3a3a" text-anchor="middle">240</text>
<line x1="465" y1="137.3" x2="465" y2="139.7" stroke="#2b2b2b" stroke-width="1.1"/>
<text x="465" y="150.4" font-size="8.3" fill="#3a3a3a" text-anchor="middle">300</text>
<text x="422" y="163" font-size="9.6" fill="#333" text-anchor="middle" textLength="37.5" lengthAdjust="spacingAndGlyphs" stroke="#333" stroke-width="0.25">Time (sec)</text>
<text transform="translate(506.0 104.9) rotate(-90)" font-size="10" fill="#333" stroke="#333" stroke-width="0.25" text-anchor="middle" textLength="64.5" lengthAdjust="spacingAndGlyphs">Platelet coverage</text>
<path d="M248 281.5 C250 280.9 256.3 279.3 260 278 C263.7 276.7 265.8 275.6 270 273.5 C274.2 271.4 280.4 268.3 285 265.7 C289.6 263.1 293.5 260.8 297.8 258 C302.1 255.2 306.4 252.1 310.7 249.1 C315 246.1 319.6 242.6 323.5 240.1 C327.4 237.6 331.1 235.4 333.8 234.3 C336.6 233.2 339 233.8 340 233.7 L340 241.4 C337.2 242.3 328.4 245.1 323.5 247 C318.6 248.9 315 250.5 310.7 253 C306.4 255.5 302.1 259.1 297.8 262 C293.5 264.9 290.5 267.9 285 270.5 C279.5 273.1 270.8 275.7 265 277.5 C259.2 279.3 252.5 280.8 250 281.5 Z" fill="#e3eaf6"/>
<path d="M250 281.5 C252.5 280.8 259.2 279.3 265 277.5 C270.8 275.7 279.5 273.1 285 270.5 C290.5 267.9 293.5 264.9 297.8 262 C302.1 259.1 306.4 255.5 310.7 253 C315 250.5 318.6 248.9 323.5 247 C328.4 245.1 337.2 242.3 340 241.4 L340 281.7 C333.3 281.7 315.8 281.7 300 281.7 C284.2 281.7 254.2 281.7 245 281.7 Z" fill="#c6c7de"/>
<path d="M245 281.5 C248.3 280.9 258.3 279.1 265 278 C271.7 276.9 279.5 275.6 285 274.7 C290.5 273.8 293.5 273.6 297.8 272.8 C302.1 272.1 306.4 271.1 310.7 270.2 C315 269.3 318.6 268.6 323.5 267.7 C328.4 266.8 337.4 265 340.2 264.5 L340.2 277.3 C336.8 277.5 328.4 278.2 320 278.7 C311.6 279.2 301.7 279.7 290 280.2 C278.3 280.7 256.7 281.4 250 281.7 Z" fill="#8792c0"/>
<path d="M248 281.5 C250 280.6 256.3 278.2 260 276 C263.7 273.8 265.8 271.6 270 268 C274.2 264.4 280.4 258.2 285 254.2 C289.6 250.2 293.5 247.5 297.8 243.9 C302.1 240.3 306.4 236 310.7 232.4 C315 228.8 319.9 224.6 323.5 222.1 C327.1 219.6 329.7 218.3 332.5 217.6 C335.3 216.8 338.9 217.6 340.2 217.6 L340.2 233.7 C339.1 233.8 336.6 233.2 333.8 234.3 C331 235.4 327.4 237.6 323.5 240.1 C319.6 242.6 315 246.1 310.7 249.1 C306.4 252.1 302.1 255.2 297.8 258 C293.5 260.8 289.6 263.1 285 265.7 C280.4 268.3 274.2 271.4 270 273.5 C265.8 275.6 263.7 276.7 260 278 C256.3 279.3 250 280.9 248 281.5 Z" fill="#c4daf1"/>
<path d="M240 281.5 C240.8 281.2 243.3 280.8 245 280 C246.7 279.2 247.2 279.7 250 276.9 C252.8 274.1 257.6 267.5 261.5 263.1 C265.4 258.7 269.2 254.6 273.1 250.4 C277 246.2 280.8 241.5 284.6 237.7 C288.5 233.8 291.9 231.6 296.2 227.3 C300.5 223 306.1 216.1 310.7 211.8 C315.2 207.5 320.3 203.9 323.5 201.6 C326.7 199.2 327.1 198.6 329.9 197.7 C332.7 196.8 338.5 196.6 340.2 196.4 L340.2 210.5 C339.1 210.3 336.6 208.9 333.8 209.3 C331 209.7 326.6 211.6 323.5 213.1 C320.4 214.6 318 216.5 315 218.5 C312 220.5 308.5 222.8 305.4 225 C302.3 227.2 299.7 229 296.2 231.9 C292.7 234.8 288.5 238.7 284.6 242.3 C280.8 246 277 249.8 273.1 253.8 C269.2 257.8 265.4 262.3 261.5 266.5 C257.6 270.7 252.8 276.8 250 279.2 C247.2 281.6 246.7 280.6 245 281 C243.3 281.4 240.8 281.4 240 281.5 Z" fill="#d68a7f"/>
<line x1="230.7" y1="194.7" x2="230.7" y2="283.2" stroke="#2b2b2b" stroke-width="1.3"/>
<line x1="230.1" y1="281.7" x2="342.5" y2="281.7" stroke="#2b2b2b" stroke-width="1.3"/>
<line x1="228.1" y1="281.7" x2="230.7" y2="281.7" stroke="#2b2b2b" stroke-width="1.1"/>
<text x="225.3" y="284.6" font-size="8.3" fill="#3a3a3a" text-anchor="end">0</text>
<line x1="228.1" y1="262.2" x2="230.7" y2="262.2" stroke="#2b2b2b" stroke-width="1.1"/>
<text x="225.3" y="265.1" font-size="8.3" fill="#3a3a3a" text-anchor="end">0.1</text>
<line x1="228.1" y1="242.8" x2="230.7" y2="242.8" stroke="#2b2b2b" stroke-width="1.1"/>
<text x="225.3" y="245.7" font-size="8.3" fill="#3a3a3a" text-anchor="end">0.2</text>
<line x1="228.1" y1="223.3" x2="230.7" y2="223.3" stroke="#2b2b2b" stroke-width="1.1"/>
<text x="225.3" y="226.2" font-size="8.3" fill="#3a3a3a" text-anchor="end">0.3</text>
<line x1="228.1" y1="203.9" x2="230.7" y2="203.9" stroke="#2b2b2b" stroke-width="1.1"/>
<text x="225.3" y="206.8" font-size="8.3" fill="#3a3a3a" text-anchor="end">0.4</text>
<line x1="252.5" y1="281.7" x2="252.5" y2="284.1" stroke="#2b2b2b" stroke-width="1.1"/>
<text x="252.5" y="295.8" font-size="8.3" fill="#3a3a3a" text-anchor="middle">60</text>
<line x1="274.4" y1="281.7" x2="274.4" y2="284.1" stroke="#2b2b2b" stroke-width="1.1"/>
<text x="274.4" y="295.8" font-size="8.3" fill="#3a3a3a" text-anchor="middle">120</text>
<line x1="296.2" y1="281.7" x2="296.2" y2="284.1" stroke="#2b2b2b" stroke-width="1.1"/>
<text x="296.2" y="295.8" font-size="8.3" fill="#3a3a3a" text-anchor="middle">180</text>
<line x1="318.1" y1="281.7" x2="318.1" y2="284.1" stroke="#2b2b2b" stroke-width="1.1"/>
<text x="318.1" y="295.8" font-size="8.3" fill="#3a3a3a" text-anchor="middle">240</text>
<line x1="339.9" y1="281.7" x2="339.9" y2="284.1" stroke="#2b2b2b" stroke-width="1.1"/>
<text x="339.9" y="295.8" font-size="8.3" fill="#3a3a3a" text-anchor="middle">300</text>
<text x="286.8" y="309.3" font-size="9.4" fill="#333" text-anchor="middle" textLength="35.5" lengthAdjust="spacingAndGlyphs" stroke="#333" stroke-width="0.25">Time (sec)</text>
<text transform="translate(205.0 245.7) rotate(-90)" font-size="9.6" fill="#333" stroke="#333" stroke-width="0.25" text-anchor="middle" textLength="60" lengthAdjust="spacingAndGlyphs">Platelet coverage</text>
<path d="M240 281.2 C240.8 281.1 243.3 281.1 245 280.8 C246.7 280.5 247.2 281.6 250 279.2 C252.8 276.8 257.6 270.7 261.5 266.5 C265.4 262.3 269.2 257.8 273.1 253.8 C277 249.8 280.8 246 284.6 242.3 C288.5 238.7 292.7 234.8 296.2 231.9 C299.7 229 302.3 227.2 305.4 225 C308.5 222.8 312 220.5 315 218.5 C318 216.5 320.4 214.6 323.5 213.1 C326.6 211.6 331 209.7 333.8 209.3 C336.6 208.9 339.1 210.3 340.2 210.5" fill="none" stroke="#b0142d" stroke-width="2.4" stroke-linejoin="round" stroke-linecap="round"/>
<path d="M248 281.2 C250 280.7 256.3 279.3 260 278 C263.7 276.7 265.8 275.6 270 273.5 C274.2 271.4 280.4 268.3 285 265.7 C289.6 263.1 293.5 260.8 297.8 258 C302.1 255.2 306.4 252.1 310.7 249.1 C315 246.1 319.6 242.6 323.5 240.1 C327.4 237.6 331.1 235.4 333.8 234.3 C336.5 233.2 338.6 233.8 339.6 233.7" fill="none" stroke="#78b3e0" stroke-width="1.8" stroke-linejoin="round" stroke-linecap="round"/>
<path d="M250 281.2 C252.5 280.6 259.2 279.3 265 277.5 C270.8 275.7 279.5 273.1 285 270.5 C290.5 267.9 293.5 264.9 297.8 262 C302.1 259.1 306.4 255.5 310.7 253 C315 250.5 318.9 248.9 323.5 247 C328.1 245.1 335.8 242.3 338.3 241.4" fill="none" stroke="#6e78a6" stroke-width="1.9" stroke-linejoin="round" stroke-linecap="round"/>
<path d="M231.5 281 C233.8 281 239.4 281.5 245 281 C250.6 280.5 258.3 279.1 265 278 C271.7 276.9 279.5 275.6 285 274.7 C290.5 273.8 293.5 273.6 297.8 272.8 C302.1 272.1 306.4 271.1 310.7 270.2 C315 269.3 318.6 268.6 323.5 267.7 C328.4 266.8 337.4 265 340.2 264.5" fill="none" stroke="#2a4585" stroke-width="2.0" stroke-linejoin="round" stroke-linecap="round"/>
<line x1="349.4" y1="219.4" x2="371.8" y2="219.4" stroke="#b0142d" stroke-width="2.3"/>
<text x="374.9" y="222.4" font-size="8.4" fill="#333" textLength="24" lengthAdjust="spacingAndGlyphs">DMSO</text>
<line x1="349.4" y1="230.2" x2="371.8" y2="230.2" stroke="#78b3e0" stroke-width="2.3"/>
<text x="374.9" y="233.2" font-size="8.4" fill="#333" textLength="57.2" lengthAdjust="spacingAndGlyphs">Ibrutinib 0.2 µM</text>
<line x1="349.4" y1="241.7" x2="371.8" y2="241.7" stroke="#6e78a6" stroke-width="2.3"/>
<text x="374.9" y="244.7" font-size="8.4" fill="#333" textLength="57.2" lengthAdjust="spacingAndGlyphs">Ibrutinib 0.5 µM</text>
<line x1="349.4" y1="253" x2="371.8" y2="253" stroke="#2a4585" stroke-width="2.3"/>
<text x="374.9" y="256" font-size="8.4" fill="#333" textLength="50.2" lengthAdjust="spacingAndGlyphs">Ibrutinib 1 µM</text>
<line x1="441.5" y1="214.1" x2="441.5" y2="233.8" stroke="#333" stroke-width="1.3"/>
<text x="447.7" y="226.9" font-size="9.2" fill="#222" text-anchor="middle" font-weight="bold" transform="rotate(90 447.7 222.3)">*</text>
<text x="447.7" y="231.7" font-size="9.2" fill="#222" text-anchor="middle" font-weight="bold" transform="rotate(90 447.7 227.1)">*</text>
<line x1="452.5" y1="214.1" x2="452.5" y2="245.4" stroke="#333" stroke-width="1.3"/>
<text x="458.3" y="229.7" font-size="9.2" fill="#222" text-anchor="middle" font-weight="bold" transform="rotate(90 458.3 225.1)">*</text>
<text x="458.3" y="234.3" font-size="9.2" fill="#222" text-anchor="middle" font-weight="bold" transform="rotate(90 458.3 229.7)">*</text>
<text x="458.3" y="239" font-size="9.2" fill="#222" text-anchor="middle" font-weight="bold" transform="rotate(90 458.3 234.4)">*</text>
<line x1="463.5" y1="214.1" x2="463.5" y2="256.9" stroke="#333" stroke-width="1.3"/>
<text x="469.1" y="236.1" font-size="9.2" fill="#222" text-anchor="middle" font-weight="bold" transform="rotate(90 469.1 231.5)">*</text>
<text x="469.1" y="240.8" font-size="9.2" fill="#222" text-anchor="middle" font-weight="bold" transform="rotate(90 469.1 236.2)">*</text>
<text x="469.1" y="245.4" font-size="9.2" fill="#222" text-anchor="middle" font-weight="bold" transform="rotate(90 469.1 240.8)">*</text>
<path d="M235 409.3 C235.9 408.9 238.2 409.1 240.4 406.8 C242.7 404.5 246 398.4 248.5 395.4 C251 392.4 253 390.9 255.2 388.6 C257.4 386.4 259.7 383.8 261.9 381.9 C264.1 380 266.4 378.5 268.6 377.2 C270.9 375.9 272 375.6 275.4 373.8 C278.8 372 285.3 368.4 288.8 366.4 C292.3 364.3 293.3 363.3 296.5 361.5 C299.7 359.7 304.2 357.3 308.1 355.5 C312 353.7 315.8 352.1 319.6 350.8 C323.5 349.5 327.7 348.9 331.2 347.9 C334.7 346.9 338.9 345.5 340.4 345 L340.4 348.5 C338.9 349 334.7 350.2 331.2 351.3 C327.7 352.4 323.5 353.5 319.6 354.8 C315.8 356.1 311 358.1 308.1 359.4 C305.2 360.7 305.5 360.7 302.3 362.4 C299.1 364.1 293.3 367 288.8 369.8 C284.3 372.6 278.8 377.1 275.4 379.2 C272 381.3 270.9 381.2 268.6 382.6 C266.4 384 264.1 385.5 261.9 387.3 C259.7 389.1 257.4 391.3 255.2 393.4 C253 395.5 251 397.6 248.5 400.1 C246 402.6 242.5 406.7 240.4 408.2 C238.3 409.7 236.7 409.1 236 409.3 Z" fill="#cbc6dc"/>
<path d="M236 409.3 C236.7 409.1 238.3 409.7 240.4 408.2 C242.5 406.7 246 402.6 248.5 400.1 C251 397.6 253 395.5 255.2 393.4 C257.4 391.3 259.7 389.1 261.9 387.3 C264.1 385.5 266.4 384 268.6 382.6 C270.9 381.2 272 381.3 275.4 379.2 C278.8 377.1 284.3 372.6 288.8 369.8 C293.3 367 299.1 364.1 302.3 362.4 C305.5 360.7 305.2 360.7 308.1 359.4 C311 358.1 315.8 356.1 319.6 354.8 C323.5 353.5 327.7 352.4 331.2 351.3 C334.7 350.2 338.9 349 340.4 348.5 L341.5 356 C339.8 356.1 334.8 356 331.2 356.5 C327.6 357 324.4 356.6 319.6 359 C314.8 361.4 307.4 367.5 302.3 371 C297.2 374.5 293.3 377.2 288.8 380 C284.3 382.8 279.9 384.8 275.4 388 C270.9 391.2 266.1 395.4 261.9 399 C257.7 402.6 252 407.7 250 409.4 Z" fill="#c4d9f0"/>
<path d="M245 409.2 C247.8 408.1 256.8 404.8 261.9 402.8 C267 400.8 270.9 399.8 275.4 397.4 C279.9 395 284.3 392.1 288.8 388.6 C293.3 385.1 299.1 379.8 302.3 376.5 C305.5 373.2 305.2 372.2 308.1 369 C311 365.8 315.8 360.3 319.6 357 C323.5 353.7 327.7 350.8 331.2 349 C334.7 347.2 338.9 346.9 340.5 346.5 L339.2 349 C337.9 349.5 334.5 350.1 331.2 351.9 C327.9 353.7 323.5 356.7 319.6 360 C315.8 363.3 311.7 367.6 308.1 371.5 C304.6 375.4 301.5 380 298.3 383.3 C295.1 386.6 292.6 388.6 288.8 391.3 C285 394 279.9 397.1 275.4 399.4 C270.9 401.6 266.4 403.3 261.9 404.8 C257.4 406.3 253.5 407.5 248.5 408.2 C243.5 408.9 234.8 409 232 409.2 Z" fill="#a2abd0"/>
<path d="M232 409.2 C234.8 409 243.5 408.9 248.5 408.2 C253.5 407.5 257.4 406.3 261.9 404.8 C266.4 403.3 270.9 401.6 275.4 399.4 C279.9 397.1 285 394 288.8 391.3 C292.6 388.6 295.1 386.6 298.3 383.3 C301.5 380 304.6 375.4 308.1 371.5 C311.7 367.6 315.8 363.3 319.6 360 C323.5 356.7 327.9 353.7 331.2 351.9 C334.5 350.1 337.9 349.5 339.2 349 L340.5 352.5 C338.9 352.9 334.7 352.8 331.2 355 C327.7 357.2 323.5 361.8 319.6 366 C315.8 370.2 311 376.4 308.1 380 C305.2 383.6 305.5 384.3 302.3 387.3 C299.1 390.3 293.3 395.1 288.8 398 C284.3 400.9 279.9 403.1 275.4 404.8 C270.9 406.5 265.3 407.4 261.9 408.2 C258.5 409 256.1 409.2 255 409.4 Z" fill="#7482b6"/>
<line x1="230.7" y1="328.4" x2="230.7" y2="410.9" stroke="#2b2b2b" stroke-width="1.3"/>
<line x1="230.1" y1="409.4" x2="342.5" y2="409.4" stroke="#2b2b2b" stroke-width="1.3"/>
<line x1="228.1" y1="409.4" x2="230.7" y2="409.4" stroke="#2b2b2b" stroke-width="1.1"/>
<text x="225.3" y="412.3" font-size="8.3" fill="#3a3a3a" text-anchor="end">0</text>
<line x1="228.1" y1="389.9" x2="230.7" y2="389.9" stroke="#2b2b2b" stroke-width="1.1"/>
<text x="225.3" y="392.8" font-size="8.3" fill="#3a3a3a" text-anchor="end">0.1</text>
<line x1="228.1" y1="370.4" x2="230.7" y2="370.4" stroke="#2b2b2b" stroke-width="1.1"/>
<text x="225.3" y="373.3" font-size="8.3" fill="#3a3a3a" text-anchor="end">0.2</text>
<line x1="228.1" y1="350.9" x2="230.7" y2="350.9" stroke="#2b2b2b" stroke-width="1.1"/>
<text x="225.3" y="353.8" font-size="8.3" fill="#3a3a3a" text-anchor="end">0.3</text>
<line x1="228.1" y1="331.4" x2="230.7" y2="331.4" stroke="#2b2b2b" stroke-width="1.1"/>
<text x="225.3" y="334.3" font-size="8.3" fill="#3a3a3a" text-anchor="end">0.4</text>
<line x1="252.5" y1="409.4" x2="252.5" y2="411.8" stroke="#2b2b2b" stroke-width="1.1"/>
<text x="252.5" y="423.5" font-size="8.3" fill="#3a3a3a" text-anchor="middle">60</text>
<line x1="274.4" y1="409.4" x2="274.4" y2="411.8" stroke="#2b2b2b" stroke-width="1.1"/>
<text x="274.4" y="423.5" font-size="8.3" fill="#3a3a3a" text-anchor="middle">120</text>
<line x1="296.2" y1="409.4" x2="296.2" y2="411.8" stroke="#2b2b2b" stroke-width="1.1"/>
<text x="296.2" y="423.5" font-size="8.3" fill="#3a3a3a" text-anchor="middle">180</text>
<line x1="318.1" y1="409.4" x2="318.1" y2="411.8" stroke="#2b2b2b" stroke-width="1.1"/>
<text x="318.1" y="423.5" font-size="8.3" fill="#3a3a3a" text-anchor="middle">240</text>
<line x1="339.9" y1="409.4" x2="339.9" y2="411.8" stroke="#2b2b2b" stroke-width="1.1"/>
<text x="339.9" y="423.5" font-size="8.3" fill="#3a3a3a" text-anchor="middle">300</text>
<text x="286.8" y="437" font-size="9.4" fill="#333" text-anchor="middle" textLength="35.5" lengthAdjust="spacingAndGlyphs" stroke="#333" stroke-width="0.25">Time (sec)</text>
<text transform="translate(205.0 369.3) rotate(-90)" font-size="9.6" fill="#333" stroke="#333" stroke-width="0.25" text-anchor="middle" textLength="60.8" lengthAdjust="spacingAndGlyphs">Platelet coverage</text>
<path d="M236 409.3 C236.7 409.1 238.3 409.7 240.4 408.2 C242.5 406.7 246 402.6 248.5 400.1 C251 397.6 253 395.5 255.2 393.4 C257.4 391.3 259.7 389.1 261.9 387.3 C264.1 385.5 266.4 384 268.6 382.6 C270.9 381.2 272 381.3 275.4 379.2 C278.8 377.1 284.3 372.6 288.8 369.8 C293.3 367 299.1 364.1 302.3 362.4 C305.5 360.7 305.2 360.7 308.1 359.4 C311 358.1 315.8 356.1 319.6 354.8 C323.5 353.5 327.9 352.4 331.2 351.3 C334.5 350.2 337.9 349 339.2 348.5" fill="none" stroke="#b0142d" stroke-width="2.1" stroke-linejoin="round" stroke-linecap="round"/>
<path d="M243 409.2 C243.9 408.2 245.3 406.2 248.5 403.5 C251.7 400.8 257.4 396.1 261.9 392.7 C266.4 389.3 270.9 386.2 275.4 383.3 C279.9 380.4 284.3 377.9 288.8 375.2 C293.3 372.5 297.2 370.1 302.3 367.1 C307.4 364.2 314.8 359.9 319.6 357.5 C324.4 355.1 328 354.2 331.2 353 C334.4 351.8 337.7 350.9 339 350.5" fill="none" stroke="#5d86c4" stroke-width="1.5" stroke-linejoin="round" stroke-linecap="round"/>
<path d="M232 409.2 C234.8 409 243.5 408.9 248.5 408.2 C253.5 407.5 257.4 406.3 261.9 404.8 C266.4 403.3 270.9 401.6 275.4 399.4 C279.9 397.1 285 394 288.8 391.3 C292.6 388.6 295.1 386.6 298.3 383.3 C301.5 380 304.6 375.4 308.1 371.5 C311.7 367.6 315.8 363.3 319.6 360 C323.5 356.7 327.9 353.7 331.2 351.9 C334.5 350.1 337.9 349.5 339.2 349" fill="none" stroke="#2a4585" stroke-width="2.2" stroke-linejoin="round" stroke-linecap="round"/>
<line x1="349.5" y1="346.3" x2="371.7" y2="346.3" stroke="#b0142d" stroke-width="2.3"/>
<text x="374.9" y="349.3" font-size="8.4" fill="#333" textLength="24" lengthAdjust="spacingAndGlyphs">DMSO</text>
<line x1="349.5" y1="357.9" x2="371.7" y2="357.9" stroke="#78b3e0" stroke-width="2.3"/>
<text x="374.9" y="360.9" font-size="8.4" fill="#333" textLength="57.2" lengthAdjust="spacingAndGlyphs">Ibrutinib 0.2 µM</text>
<line x1="349.5" y1="369.3" x2="371.7" y2="369.3" stroke="#6e78a6" stroke-width="2.3"/>
<text x="374.9" y="372.3" font-size="8.4" fill="#333" textLength="57.2" lengthAdjust="spacingAndGlyphs">Ibrutinib 0.5 µM</text>
<line x1="349.5" y1="380.8" x2="371.7" y2="380.8" stroke="#2a4585" stroke-width="2.3"/>
<text x="374.9" y="383.8" font-size="8.4" fill="#333" textLength="50.2" lengthAdjust="spacingAndGlyphs">Ibrutinib 1 µM</text>
<line x1="274.8" y1="382.1" x2="274.8" y2="399.4" stroke="#222" stroke-width="1.1"/>
<text x="278.5" y="389.2" font-size="9.2" fill="#222" text-anchor="middle" font-weight="bold" transform="rotate(90 278.5 384.6)">*</text>
<text x="278.5" y="394" font-size="9.2" fill="#222" text-anchor="middle" font-weight="bold" transform="rotate(90 278.5 389.4)">*</text>
<text x="278.5" y="398.8" font-size="9.2" fill="#222" text-anchor="middle" font-weight="bold" transform="rotate(90 278.5 394.2)">*</text>
<path d="M238 561.5 C239.2 561.3 243 561 245 560.5 C247 560 247.7 560 250 558.6 C252.3 557.2 256.1 554.7 259.1 552.2 C262.2 549.8 265.2 546.8 268.3 543.9 C271.4 541 274.4 537.8 277.4 534.8 C280.4 531.8 283.4 528.9 286.5 525.7 C289.6 522.5 292.6 519 295.7 515.6 C298.8 512.2 301.8 508.6 304.8 505.6 C307.8 502.6 310.8 499.7 313.9 497.4 C316.9 495.1 320.1 493.3 323.1 491.9 C326.2 490.5 329 489.4 332.2 488.8 C335.4 488.2 340.6 488.3 342.3 488.2 L341.3 491.9 C339.8 492.3 335.2 493.4 332.2 494.6 C329.2 495.8 326.2 497.2 323.1 499.2 C320.1 501.2 316.9 503.6 313.9 506.5 C310.8 509.4 307.8 512.9 304.8 516.5 C301.8 520.1 298.8 524.7 295.7 528.4 C292.6 532.1 289.6 535.5 286.5 538.5 C283.4 541.5 280.4 544.4 277.4 546.7 C274.4 549 271.4 550.6 268.3 552.2 C265.2 553.8 262.1 555.3 259 556.5 C255.9 557.7 252.3 558.8 250 559.5 C247.7 560.2 247 560.7 245 561 C243 561.3 239.2 561.4 238 561.5 Z" fill="#d68a7f"/>
<path d="M240 561.6 C241.7 561.4 245.3 561.4 250 560.6 C254.7 559.8 262.2 558.9 268.3 556.7 C274.4 554.5 280.4 550.3 286.5 547.6 C292.6 544.9 298.7 542.6 304.8 540.3 C310.9 538 318.5 535.4 323.1 533.9 C327.7 532.4 329.2 532 332.2 531.2 C335.2 530.4 339.8 529.4 341.3 529 L341 540.3 C338 540.9 329.1 542.5 323.1 543.9 C317.1 545.3 310.9 547 304.8 548.5 C298.7 550 292.6 551.4 286.5 553.1 C280.4 554.8 274.4 557.3 268.3 558.6 C262.2 559.9 254.7 560.5 250 561 C245.3 561.5 241.7 561.5 240 561.6 Z" fill="#c4daf1"/>
<path d="M250 561.5 C255 561.2 270.9 560.8 280 560 C289.1 559.2 297.6 557.6 304.8 556.7 C312 555.9 317 555.5 323.1 554.9 C329.2 554.3 338.3 553.4 341.3 553.1 L341.3 555.8 C335.2 556.3 315 557.8 304.8 558.6 C294.6 559.4 290 560.3 280 560.8 C270 561.3 250.8 561.5 245 561.6 Z" fill="#c6c7de"/>
<line x1="230.7" y1="474.7" x2="230.7" y2="563.4" stroke="#2b2b2b" stroke-width="1.3"/>
<line x1="230.1" y1="561.9" x2="342.5" y2="561.9" stroke="#2b2b2b" stroke-width="1.3"/>
<line x1="228.1" y1="561.9" x2="230.7" y2="561.9" stroke="#2b2b2b" stroke-width="1.1"/>
<text x="225.3" y="564.8" font-size="8.3" fill="#3a3a3a" text-anchor="end">0</text>
<line x1="228.1" y1="546.1" x2="230.7" y2="546.1" stroke="#2b2b2b" stroke-width="1.1"/>
<text x="225.3" y="549" font-size="8.3" fill="#3a3a3a" text-anchor="end">0.1</text>
<line x1="228.1" y1="530.3" x2="230.7" y2="530.3" stroke="#2b2b2b" stroke-width="1.1"/>
<text x="225.3" y="533.2" font-size="8.3" fill="#3a3a3a" text-anchor="end">0.2</text>
<line x1="228.1" y1="514.4" x2="230.7" y2="514.4" stroke="#2b2b2b" stroke-width="1.1"/>
<text x="225.3" y="517.3" font-size="8.3" fill="#3a3a3a" text-anchor="end">0.3</text>
<line x1="228.1" y1="498.6" x2="230.7" y2="498.6" stroke="#2b2b2b" stroke-width="1.1"/>
<text x="225.3" y="501.5" font-size="8.3" fill="#3a3a3a" text-anchor="end">0.4</text>
<line x1="228.1" y1="482.8" x2="230.7" y2="482.8" stroke="#2b2b2b" stroke-width="1.1"/>
<text x="225.3" y="485.7" font-size="8.3" fill="#3a3a3a" text-anchor="end">0.5</text>
<line x1="252.5" y1="561.9" x2="252.5" y2="564.3" stroke="#2b2b2b" stroke-width="1.1"/>
<text x="252.5" y="576" font-size="8.3" fill="#3a3a3a" text-anchor="middle">60</text>
<line x1="274.4" y1="561.9" x2="274.4" y2="564.3" stroke="#2b2b2b" stroke-width="1.1"/>
<text x="274.4" y="576" font-size="8.3" fill="#3a3a3a" text-anchor="middle">120</text>
<line x1="296.2" y1="561.9" x2="296.2" y2="564.3" stroke="#2b2b2b" stroke-width="1.1"/>
<text x="296.2" y="576" font-size="8.3" fill="#3a3a3a" text-anchor="middle">180</text>
<line x1="318.1" y1="561.9" x2="318.1" y2="564.3" stroke="#2b2b2b" stroke-width="1.1"/>
<text x="318.1" y="576" font-size="8.3" fill="#3a3a3a" text-anchor="middle">240</text>
<line x1="339.9" y1="561.9" x2="339.9" y2="564.3" stroke="#2b2b2b" stroke-width="1.1"/>
<text x="339.9" y="576" font-size="8.3" fill="#3a3a3a" text-anchor="middle">300</text>
<text x="286.8" y="589.5" font-size="9.4" fill="#333" text-anchor="middle" textLength="35.5" lengthAdjust="spacingAndGlyphs" stroke="#333" stroke-width="0.25">Time (sec)</text>
<text transform="translate(205.0 518) rotate(-90)" font-size="9.6" fill="#333" stroke="#333" stroke-width="0.25" text-anchor="middle" textLength="60.8" lengthAdjust="spacingAndGlyphs">Platelet coverage</text>
<path d="M238 561.5 C239.2 561.4 243 561.3 245 561 C247 560.7 247.7 560.2 250 559.5 C252.3 558.8 255.9 557.7 259 556.5 C262.1 555.3 265.2 553.8 268.3 552.2 C271.4 550.6 274.4 549 277.4 546.7 C280.4 544.4 283.4 541.5 286.5 538.5 C289.6 535.5 292.6 532.1 295.7 528.4 C298.8 524.7 301.8 520.1 304.8 516.5 C307.8 512.9 310.8 509.4 313.9 506.5 C316.9 503.6 320.1 501.2 323.1 499.2 C326.2 497.2 329.2 495.8 332.2 494.6 C335.2 493.4 339.8 492.3 341.3 491.9" fill="none" stroke="#b0142d" stroke-width="2.4" stroke-linejoin="round" stroke-linecap="round"/>
<path d="M231.5 561.2 C234.6 561.2 243.9 561.4 250 561 C256.1 560.6 262.2 559.9 268.3 558.6 C274.4 557.3 280.4 554.8 286.5 553.1 C292.6 551.4 298.7 550 304.8 548.5 C310.9 547 317.1 545.3 323.1 543.9 C329.1 542.5 338 540.9 341 540.3" fill="none" stroke="#78b3e0" stroke-width="1.9" stroke-linejoin="round" stroke-linecap="round"/>
<path d="M231.5 561.3 C236.2 561.2 251.9 561.2 260 561 C268.1 560.8 272.5 560.7 280 560.3 C287.5 559.9 294.6 559.4 304.8 558.6 C315 557.9 335.2 556.3 341.3 555.8" fill="none" stroke="#6e78a6" stroke-width="1.9" stroke-linejoin="round" stroke-linecap="round"/>
<line x1="349.6" y1="507.9" x2="371.2" y2="507.9" stroke="#b0142d" stroke-width="2.3"/>
<text x="374.9" y="510.9" font-size="8.4" fill="#333" textLength="24" lengthAdjust="spacingAndGlyphs">DMSO</text>
<line x1="349.6" y1="521.3" x2="371.2" y2="521.3" stroke="#78b3e0" stroke-width="2.3"/>
<text x="374.9" y="524.3" font-size="8.4" fill="#333" textLength="57.2" lengthAdjust="spacingAndGlyphs">Ibrutinib 0.2 µM</text>
<line x1="349.6" y1="535.4" x2="371.2" y2="535.4" stroke="#6e78a6" stroke-width="2.3"/>
<text x="374.9" y="538.4" font-size="8.4" fill="#333" textLength="57.2" lengthAdjust="spacingAndGlyphs">Ibrutinib 0.5 µM</text>
<line x1="445.5" y1="501.8" x2="445.5" y2="524.2" stroke="#333" stroke-width="1.3"/>
<text x="451.4" y="513.3" font-size="9.2" fill="#222" text-anchor="middle" font-weight="bold" transform="rotate(90 451.4 508.7)">*</text>
<text x="451.4" y="517.9" font-size="9.2" fill="#222" text-anchor="middle" font-weight="bold" transform="rotate(90 451.4 513.3)">*</text>
<text x="451.4" y="522.5" font-size="9.2" fill="#222" text-anchor="middle" font-weight="bold" transform="rotate(90 451.4 517.9)">*</text>
<line x1="455.5" y1="501.8" x2="455.5" y2="539.5" stroke="#333" stroke-width="1.3"/>
<text x="461.9" y="521.9" font-size="9.2" fill="#222" text-anchor="middle" font-weight="bold" transform="rotate(90 461.9 517.3)">*</text>
<text x="461.9" y="526.7" font-size="9.2" fill="#222" text-anchor="middle" font-weight="bold" transform="rotate(90 461.9 522.1)">*</text>
<text x="461.9" y="531.3" font-size="9.2" fill="#222" text-anchor="middle" font-weight="bold" transform="rotate(90 461.9 526.7)">*</text>
<line x1="466.5" y1="517.7" x2="466.5" y2="539.5" stroke="#333" stroke-width="1.3"/>
<text x="472.2" y="532.5" font-size="9.2" fill="#222" text-anchor="middle" font-weight="bold" transform="rotate(90 472.2 527.9)">*</text>
<path d="M236 701.6 C236.8 701.4 238.5 701.9 240.6 700.6 C242.7 699.3 246.1 695.8 248.5 693.8 C250.9 691.8 253 690.4 255.2 688.5 C257.4 686.6 259.4 685 261.9 682.7 C264.4 680.5 267.1 677.7 270 675 C272.9 672.3 276.2 669.5 279.3 666.5 C282.4 663.5 285.8 659.8 288.8 656.8 C291.8 653.8 294.8 651 297.5 648.5 C300.2 646 302.9 643.5 305 641.5 C307.1 639.5 307.1 638.8 310 636.5 C312.9 634.2 318.3 629.9 322.5 627.5 C326.7 625.1 331.7 623 335 621.9 C338.3 620.8 341.2 620.8 342.5 620.6 L341.9 623.8 C340.8 624 338.2 623.4 335 624.8 C331.8 626.2 326.7 628.6 322.5 632 C318.3 635.4 312.9 641.9 310 645 C307.1 648.1 307.2 648.3 305 650.8 C302.8 653.3 299.6 657.2 296.9 660.2 C294.2 663.2 291.7 666 288.8 668.9 C285.9 671.8 282.3 675.1 279.4 677.7 C276.5 680.3 274.2 682 271.3 684.4 C268.4 686.8 265 689.5 261.9 691.8 C258.8 694 255.6 696.3 252.5 697.9 C249.4 699.5 245.8 700.6 243.1 701.2 C240.3 701.9 237.2 701.7 236 701.8 Z" fill="#bcd0ec"/>
<path d="M236 701.8 C237.2 701.7 240.3 701.9 243.1 701.2 C245.8 700.6 249.4 699.5 252.5 697.9 C255.6 696.3 258.8 694 261.9 691.8 C265 689.5 268.4 686.8 271.3 684.4 C274.2 682 276.5 680.3 279.4 677.7 C282.3 675.1 285.9 671.8 288.8 668.9 C291.7 666 294.2 663.2 296.9 660.2 C299.6 657.2 302.8 653.3 305 650.8 C307.2 648.3 307.1 648.1 310 645 C312.9 641.9 318.3 635.4 322.5 632 C326.7 628.6 331.8 626.2 335 624.8 C338.2 623.4 340.8 624 341.9 623.8 L341.9 626.3 C340.3 626.9 335.7 627.7 332.5 630 C329.3 632.3 326.2 636 322.5 640 C318.8 644 312.9 650.6 310 654 C307.1 657.4 307.2 657.4 305 660.2 C302.8 663 299.6 667.6 296.9 671 C294.2 674.4 291.7 677.3 288.8 680.4 C285.9 683.5 282.3 687.1 279.4 689.8 C276.5 692.5 274.2 694.7 271.3 696.5 C268.4 698.3 265 699.7 261.9 700.6 C258.8 701.5 255.3 701.7 252.5 701.9 C249.7 702.1 246.2 701.9 245 701.9 Z" fill="#cbbdd8"/>
<path d="M236 701.6 C236.8 701.4 238.5 701.9 240.6 700.6 C242.7 699.3 246.1 695.8 248.5 693.8 C250.9 691.8 253 690.4 255.2 688.5 C257.4 686.6 259.4 685 261.9 682.7 C264.4 680.5 267.1 677.7 270 675 C272.9 672.3 276.2 669.5 279.3 666.5 C282.4 663.5 285.8 659.8 288.8 656.8 C291.8 653.8 296.1 649.9 297.5 648.5 L293 657 C292.3 657.6 291.1 658.3 288.8 660.5 C286.5 662.7 282.4 667 279.3 670 C276.2 673 272.9 675.9 270 678.6 C267.1 681.3 264.4 684 261.9 686.2 C259.4 688.4 257.4 690 255.2 691.8 C253 693.6 250.7 695.2 248.5 696.8 C246.3 698.4 243.8 700.4 242 701.2 C240.2 702 238.7 701.7 238 701.8 Z" fill="#dca79f"/>
<path d="M261.9 689.6 C263.5 688.4 268.4 684.5 271.3 682.2 C274.2 679.8 276.5 678.1 279.4 675.5 C282.3 672.9 285.9 669.6 288.8 666.7 C291.7 663.8 294.2 661 296.9 658 C299.6 655 302.8 651.1 305 648.6 C307.2 646.1 307.1 645.9 310 642.8 C312.9 639.7 318.3 633.2 322.5 629.8 C326.7 626.4 332.9 623.8 335 622.6 L335 627 C332.9 628.2 326.7 630.8 322.5 634.2 C318.3 637.6 312.9 644.1 310 647.2 C307.1 650.3 307.2 650.5 305 653 C302.8 655.5 299.6 659.4 296.9 662.4 C294.2 665.4 291.7 668.2 288.8 671.1 C285.9 674 282.3 677.3 279.4 679.9 C276.5 682.5 274.2 684.2 271.3 686.6 C268.4 689 263.5 692.8 261.9 694 Z" fill="#8fb0de"/>
<line x1="230.7" y1="614" x2="230.7" y2="703.4" stroke="#2b2b2b" stroke-width="1.3"/>
<line x1="230.1" y1="701.9" x2="342.5" y2="701.9" stroke="#2b2b2b" stroke-width="1.3"/>
<line x1="228.1" y1="701.9" x2="230.7" y2="701.9" stroke="#2b2b2b" stroke-width="1.1"/>
<text x="225.3" y="704.8" font-size="8.3" fill="#3a3a3a" text-anchor="end">0</text>
<line x1="228.1" y1="685.9" x2="230.7" y2="685.9" stroke="#2b2b2b" stroke-width="1.1"/>
<text x="225.3" y="688.8" font-size="8.3" fill="#3a3a3a" text-anchor="end">0.1</text>
<line x1="228.1" y1="669.9" x2="230.7" y2="669.9" stroke="#2b2b2b" stroke-width="1.1"/>
<text x="225.3" y="672.8" font-size="8.3" fill="#3a3a3a" text-anchor="end">0.2</text>
<line x1="228.1" y1="653.9" x2="230.7" y2="653.9" stroke="#2b2b2b" stroke-width="1.1"/>
<text x="225.3" y="656.8" font-size="8.3" fill="#3a3a3a" text-anchor="end">0.3</text>
<line x1="228.1" y1="637.9" x2="230.7" y2="637.9" stroke="#2b2b2b" stroke-width="1.1"/>
<text x="225.3" y="640.8" font-size="8.3" fill="#3a3a3a" text-anchor="end">0.4</text>
<line x1="228.1" y1="621.9" x2="230.7" y2="621.9" stroke="#2b2b2b" stroke-width="1.1"/>
<text x="225.3" y="624.8" font-size="8.3" fill="#3a3a3a" text-anchor="end">0.5</text>
<line x1="252.5" y1="701.9" x2="252.5" y2="704.3" stroke="#2b2b2b" stroke-width="1.1"/>
<text x="252.5" y="716" font-size="8.3" fill="#3a3a3a" text-anchor="middle">60</text>
<line x1="274.4" y1="701.9" x2="274.4" y2="704.3" stroke="#2b2b2b" stroke-width="1.1"/>
<text x="274.4" y="716" font-size="8.3" fill="#3a3a3a" text-anchor="middle">120</text>
<line x1="296.2" y1="701.9" x2="296.2" y2="704.3" stroke="#2b2b2b" stroke-width="1.1"/>
<text x="296.2" y="716" font-size="8.3" fill="#3a3a3a" text-anchor="middle">180</text>
<line x1="318.1" y1="701.9" x2="318.1" y2="704.3" stroke="#2b2b2b" stroke-width="1.1"/>
<text x="318.1" y="716" font-size="8.3" fill="#3a3a3a" text-anchor="middle">240</text>
<line x1="339.9" y1="701.9" x2="339.9" y2="704.3" stroke="#2b2b2b" stroke-width="1.1"/>
<text x="339.9" y="716" font-size="8.3" fill="#3a3a3a" text-anchor="middle">300</text>
<text x="286.8" y="729.5" font-size="9.4" fill="#333" text-anchor="middle" textLength="35.5" lengthAdjust="spacingAndGlyphs" stroke="#333" stroke-width="0.25">Time (sec)</text>
<text transform="translate(205.0 657.3) rotate(-90)" font-size="9.6" fill="#333" stroke="#333" stroke-width="0.25" text-anchor="middle" textLength="62" lengthAdjust="spacingAndGlyphs">Platelet coverage</text>
<path d="M236 701.8 C237.2 701.7 240.3 701.9 243.1 701.2 C245.8 700.6 249.4 699.5 252.5 697.9 C255.6 696.3 258.8 694 261.9 691.8 C265 689.5 268.4 686.8 271.3 684.4 C274.2 682 276.5 680.3 279.4 677.7 C282.3 675.1 285.9 671.8 288.8 668.9 C291.7 666 294.2 663.2 296.9 660.2 C299.6 657.2 302.8 653.3 305 650.8 C307.2 648.3 307.1 648.1 310 645 C312.9 641.9 318.3 635.4 322.5 632 C326.7 628.6 331.8 626.2 335 624.8 C338.2 623.4 340.8 624 341.9 623.8" fill="none" stroke="#3f629f" stroke-width="2.6" stroke-linejoin="round" stroke-linecap="round"/>
<path d="M236 701.8 C237.2 701.7 240.3 701.9 243.1 701.2 C245.8 700.6 249.4 699.5 252.5 697.9 C255.6 696.3 258.8 694 261.9 691.8 C265 689.5 268.4 686.8 271.3 684.4 C274.2 682 278 678.8 279.4 677.7" fill="none" stroke="#5a4a8c" stroke-width="2.2" stroke-linejoin="round" stroke-linecap="round" stroke-opacity="0.7"/>
<line x1="349.6" y1="642.9" x2="371.2" y2="642.9" stroke="#b0142d" stroke-width="2.3"/>
<text x="374.9" y="645.9" font-size="8.4" fill="#333" textLength="24" lengthAdjust="spacingAndGlyphs">DMSO</text>
<line x1="349.6" y1="657.3" x2="371.2" y2="657.3" stroke="#78b3e0" stroke-width="2.3"/>
<text x="374.9" y="660.3" font-size="8.4" fill="#333" textLength="57.2" lengthAdjust="spacingAndGlyphs">Ibrutinib 0.2 µM</text>
<line x1="349.6" y1="670.8" x2="371.2" y2="670.8" stroke="#6e78a6" stroke-width="2.3"/>
<text x="374.9" y="673.8" font-size="8.4" fill="#333" textLength="57.2" lengthAdjust="spacingAndGlyphs">Ibrutinib 0.5 µM</text>
<line x1="51" y1="722.6" x2="96" y2="722.6" stroke="#222" stroke-width="1.2"/>
<path d="M48 722.6 L54.5 719.6 L53 722.6 L54.5 725.6 Z" fill="#222"/>
<text x="100.2" y="725.6" font-size="10.0" fill="#333" textLength="49.4" lengthAdjust="spacingAndGlyphs" stroke="#333" stroke-width="0.2">Flow direction</text>
<rect x="0.5" y="0.5" width="519" height="739" fill="none" stroke="#000" stroke-width="1"/>
<rect x="1.5" y="1.5" width="517" height="737" fill="none" stroke="#9a9a9a" stroke-width="1"/>
</svg></body></html>
